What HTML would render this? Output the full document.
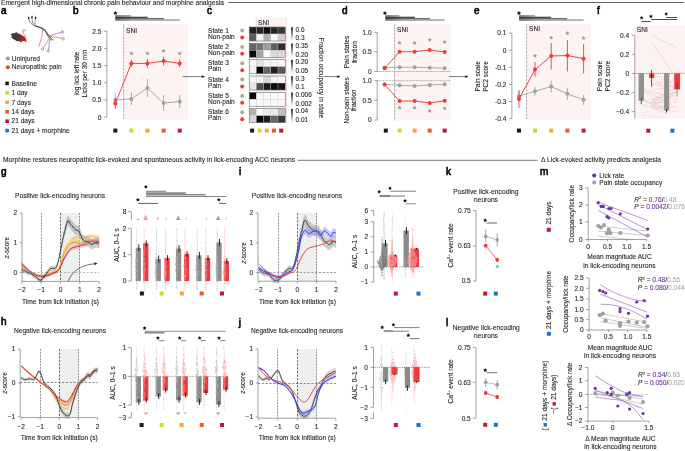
<!DOCTYPE html>
<html><head><meta charset="utf-8"><style>
html,body{margin:0;padding:0;background:#fff;}
svg{display:block;will-change:transform;font-family:"Liberation Sans",sans-serif;}
</style></head><body>
<svg width="685" height="451" viewBox="0 0 685 451">
<rect width="685" height="451" fill="#fff"/>
<defs><linearGradient id="wg" x1="0" y1="0" x2="1" y2="0"><stop offset="0" stop-color="#000" stop-opacity="0.3"/><stop offset="1" stop-color="#000" stop-opacity="0"/></linearGradient></defs>
<text x="1.00" y="5.20" font-size="6.6" fill="#231f20" stroke="#231f20" stroke-width="0.1" textLength="223" lengthAdjust="spacingAndGlyphs">Emergent high-dimensional chronic pain behaviour and morphine analgesia</text>
<line x1="228.50" y1="2.50" x2="684.00" y2="2.50" stroke="#231f20" stroke-width="0.7"/>
<text x="1.00" y="13.80" font-size="10" fill="#000" stroke="#000" stroke-width="0.6">a</text>
<text x="73.00" y="13.80" font-size="10" fill="#000" stroke="#000" stroke-width="0.6">b</text>
<text x="207.00" y="13.80" font-size="10" fill="#000" stroke="#000" stroke-width="0.6">c</text>
<text x="342.00" y="13.80" font-size="10" fill="#000" stroke="#000" stroke-width="0.6">d</text>
<text x="474.00" y="13.80" font-size="10" fill="#000" stroke="#000" stroke-width="0.6">e</text>
<text x="597.00" y="13.80" font-size="10" fill="#000" stroke="#000" stroke-width="0.6">f</text>
<path d="M10.2,34.6 C11,33.6 13,33.2 15,33.2 C15.2,32.2 17,31.9 17.6,33.2 C19.5,33.8 22,35 24,36.6 L26.2,38.8 L26.4,42 L24,41 L22.3,41.2 L21,42.6 L19.5,41.3 L17,41.2 L15.5,40.3 L14,39.6 L12.3,38.6 C11.5,37.6 11.2,36.4 12,35.6 Z" stroke="none" stroke-width="0.7" fill="url(#mg)"/>
<path d="M25.3,37.8 C25.8,35.5 23.5,34 22.7,32.2 C22.3,30.5 23.5,29.6 24.6,29.8 C25.6,30 25.8,31 25.2,31.4" stroke="#8a3040" stroke-width="0.6" fill="none"/>
<ellipse cx="28.7" cy="18.0" rx="0.75" ry="1.3" fill="#111" transform="rotate(15 28.7 18.0)"/>
<line x1="29.00" y1="16.50" x2="29.60" y2="14.50" stroke="#bbb" stroke-width="0.3"/>
<ellipse cx="32.0" cy="17.3" rx="0.75" ry="1.3" fill="#111" transform="rotate(15 32.0 17.3)"/>
<line x1="32.30" y1="15.80" x2="32.90" y2="13.80" stroke="#bbb" stroke-width="0.3"/>
<ellipse cx="35.5" cy="17.8" rx="0.75" ry="1.3" fill="#111" transform="rotate(15 35.5 17.8)"/>
<line x1="35.80" y1="16.30" x2="36.40" y2="14.30" stroke="#bbb" stroke-width="0.3"/>
<path d="M28.9,19.3 C29.5,22 31.5,24.5 34.5,25.8 C38,27 42,27.2 44.5,29.5 C47,32 48.5,36 52.5,40.2" stroke="#111" stroke-width="0.5" fill="none"/>
<path d="M32.2,18.6 C32.2,21.5 32.5,24 35.5,26 C39,27.6 42.5,27.8 45,30.5 C47.5,33.5 49,37 53.2,40" stroke="#111" stroke-width="0.5" fill="none"/>
<path d="M35.6,19.1 C35,21.5 33.8,24 36.5,26.2 C40,27.8 43.5,28.5 45.5,31.5 C47.5,34.5 48.5,38 51.5,40.8" stroke="#222" stroke-width="0.45" fill="none"/>
<path d="M44,29.5 C46,32 47,35.5 50,39.5" stroke="#333" stroke-width="0.4" fill="none"/>
<path d="M42.8,29 C42.5,35 41,41 38.5,46.8" stroke="#ee3a3f" stroke-width="0.6" fill="none"/>
<path d="M49.5,35.8 C53,35 57,33.5 61.3,32.3" stroke="#a0309a" stroke-width="0.6" fill="none"/>
<circle cx="62.3" cy="32.0" r="1.2" fill="none" stroke="#a0309a" stroke-width="0.6"/>
<path d="M49.5,36.5 C54,36.5 58,37.5 62,38.5" stroke="#ee3a3f" stroke-width="0.6" fill="none"/>
<circle cx="63.2" cy="38.8" r="1.2" fill="none" stroke="#ee3a3f" stroke-width="0.6"/>
<path d="M48.5,39.3 C46.5,43 45,46 43.2,48.3" stroke="#ee3a3f" stroke-width="0.6" fill="none"/>
<circle cx="42.5" cy="49.0" r="1.2" fill="none" stroke="#ee3a3f" stroke-width="0.6"/>
<path d="M49.5,39.5 C49.5,43 49,46 48.5,49.8" stroke="#a0309a" stroke-width="0.6" fill="none"/>
<circle cx="48.3" cy="51.0" r="1.2" fill="none" stroke="#a0309a" stroke-width="0.6"/>
<circle cx="7.80" cy="58.40" r="2.0" fill="#9a9a9a"/>
<text x="11.80" y="60.60" font-size="6.6" fill="#231f20" stroke="#231f20" stroke-width="0.1">Uninjured</text>
<circle cx="7.80" cy="67.20" r="2.0" fill="#ee3a3f"/>
<text x="11.80" y="69.40" font-size="6.6" fill="#231f20" stroke="#231f20" stroke-width="0.1">Neuropathic pain</text>
<rect x="5.30" y="81.60" width="3.60" height="3.60" fill="#1a1a1a"/>
<text x="11.50" y="85.60" font-size="6.6" fill="#231f20" stroke="#231f20" stroke-width="0.1">Baseline</text>
<rect x="5.30" y="91.00" width="3.60" height="3.60" fill="#d2d82a"/>
<text x="11.50" y="95.00" font-size="6.6" fill="#231f20" stroke="#231f20" stroke-width="0.1">1 day</text>
<rect x="5.30" y="100.50" width="3.60" height="3.60" fill="#f7a540"/>
<text x="11.50" y="104.50" font-size="6.6" fill="#231f20" stroke="#231f20" stroke-width="0.1">7 days</text>
<rect x="5.30" y="110.00" width="3.60" height="3.60" fill="#ee5a24"/>
<text x="11.50" y="114.00" font-size="6.6" fill="#231f20" stroke="#231f20" stroke-width="0.1">14 days</text>
<rect x="5.30" y="119.40" width="3.60" height="3.60" fill="#b81c2e"/>
<text x="11.50" y="123.40" font-size="6.6" fill="#231f20" stroke="#231f20" stroke-width="0.1">21 days</text>
<rect x="5.30" y="128.80" width="3.60" height="3.60" fill="#1c73bf"/>
<text x="11.50" y="132.80" font-size="6.6" fill="#231f20" stroke="#231f20" stroke-width="0.1">21 days + morphine</text>
<rect x="124.00" y="24.50" width="64.00" height="95.00" fill="#fdf3f3"/>
<line x1="123.60" y1="24.50" x2="123.60" y2="119.50" stroke="#222" stroke-width="0.6" stroke-dasharray="0.6,0.8"/>
<text x="126.00" y="33.00" font-size="6.6" fill="#231f20" stroke="#231f20" stroke-width="0.1">SNI</text>
<line x1="106.90" y1="31.20" x2="106.90" y2="117.20" stroke="#666" stroke-width="0.6"/>
<line x1="103.90" y1="117.20" x2="106.90" y2="117.20" stroke="#666" stroke-width="0.6"/>
<text x="101.40" y="119.58" font-size="6.6" fill="#231f20" text-anchor="end" stroke="#231f20" stroke-width="0.1">0</text>
<line x1="103.90" y1="100.00" x2="106.90" y2="100.00" stroke="#666" stroke-width="0.6"/>
<text x="101.40" y="102.38" font-size="6.6" fill="#231f20" text-anchor="end" stroke="#231f20" stroke-width="0.1">0.5</text>
<line x1="103.90" y1="82.80" x2="106.90" y2="82.80" stroke="#666" stroke-width="0.6"/>
<text x="101.40" y="85.18" font-size="6.6" fill="#231f20" text-anchor="end" stroke="#231f20" stroke-width="0.1">1.0</text>
<line x1="103.90" y1="65.60" x2="106.90" y2="65.60" stroke="#666" stroke-width="0.6"/>
<text x="101.40" y="67.98" font-size="6.6" fill="#231f20" text-anchor="end" stroke="#231f20" stroke-width="0.1">1.5</text>
<line x1="103.90" y1="48.40" x2="106.90" y2="48.40" stroke="#666" stroke-width="0.6"/>
<text x="101.40" y="50.78" font-size="6.6" fill="#231f20" text-anchor="end" stroke="#231f20" stroke-width="0.1">2.0</text>
<line x1="103.90" y1="31.20" x2="106.90" y2="31.20" stroke="#666" stroke-width="0.6"/>
<text x="101.40" y="33.58" font-size="6.6" fill="#231f20" text-anchor="end" stroke="#231f20" stroke-width="0.1">2.5</text>
<text x="79.30" y="73.50" font-size="6.6" fill="#231f20" text-anchor="middle" stroke="#231f20" stroke-width="0.1" transform="rotate(-90 79.30 73.50)">log lick left rate</text>
<text x="86.70" y="73.50" font-size="6.6" fill="#231f20" text-anchor="middle" stroke="#231f20" stroke-width="0.1" transform="rotate(-90 86.70 73.50)">Licks per 30 min</text>
<polyline points="115.30,100.00 131.40,98.90 147.40,88.00 163.60,103.00 179.70,101.50" stroke="#a0a0a0" stroke-width="0.9" fill="none" stroke-linejoin="round"/>
<line x1="115.30" y1="93.50" x2="115.30" y2="106.50" stroke="#a0a0a0" stroke-width="0.9"/>
<circle cx="115.30" cy="100.00" r="2.0" fill="#a0a0a0"/>
<line x1="131.40" y1="92.40" x2="131.40" y2="105.40" stroke="#a0a0a0" stroke-width="0.9"/>
<circle cx="131.40" cy="98.90" r="2.0" fill="#a0a0a0"/>
<line x1="147.40" y1="79.00" x2="147.40" y2="97.00" stroke="#a0a0a0" stroke-width="0.9"/>
<circle cx="147.40" cy="88.00" r="2.0" fill="#a0a0a0"/>
<line x1="163.60" y1="95.00" x2="163.60" y2="111.00" stroke="#a0a0a0" stroke-width="0.9"/>
<circle cx="163.60" cy="103.00" r="2.0" fill="#a0a0a0"/>
<line x1="179.70" y1="95.00" x2="179.70" y2="108.00" stroke="#a0a0a0" stroke-width="0.9"/>
<circle cx="179.70" cy="101.50" r="2.0" fill="#a0a0a0"/>
<polyline points="115.30,103.50 131.40,63.40 147.40,63.40 163.60,61.00 179.70,63.40" stroke="#ee3a3f" stroke-width="0.95" fill="none" stroke-linejoin="round"/>
<line x1="115.30" y1="98.00" x2="115.30" y2="109.00" stroke="#ee3a3f" stroke-width="0.9"/>
<circle cx="115.30" cy="103.50" r="2.0" fill="#ee3a3f"/>
<line x1="131.40" y1="59.90" x2="131.40" y2="66.90" stroke="#ee3a3f" stroke-width="0.9"/>
<circle cx="131.40" cy="63.40" r="2.0" fill="#ee3a3f"/>
<line x1="147.40" y1="58.90" x2="147.40" y2="67.90" stroke="#ee3a3f" stroke-width="0.9"/>
<circle cx="147.40" cy="63.40" r="2.0" fill="#ee3a3f"/>
<line x1="163.60" y1="56.50" x2="163.60" y2="65.50" stroke="#ee3a3f" stroke-width="0.9"/>
<circle cx="163.60" cy="61.00" r="2.0" fill="#ee3a3f"/>
<line x1="179.70" y1="59.40" x2="179.70" y2="67.40" stroke="#ee3a3f" stroke-width="0.9"/>
<circle cx="179.70" cy="63.40" r="2.0" fill="#ee3a3f"/>
<polygon points="131.40,51.20 132.05,52.51 133.49,52.72 132.45,53.74 132.69,55.18 131.40,54.50 130.11,55.18 130.35,53.74 129.31,52.72 130.75,52.51" fill="#999"/>
<polygon points="147.40,51.20 148.05,52.51 149.49,52.72 148.45,53.74 148.69,55.18 147.40,54.50 146.11,55.18 146.35,53.74 145.31,52.72 146.75,52.51" fill="#999"/>
<polygon points="163.60,48.80 164.25,50.11 165.69,50.32 164.65,51.34 164.89,52.78 163.60,52.10 162.31,52.78 162.55,51.34 161.51,50.32 162.95,50.11" fill="#999"/>
<polygon points="179.70,51.20 180.35,52.51 181.79,52.72 180.75,53.74 180.99,55.18 179.70,54.50 178.41,55.18 178.65,53.74 177.61,52.72 179.05,52.51" fill="#999"/>
<rect x="113.30" y="128.60" width="4.00" height="4.00" fill="#1a1a1a"/>
<rect x="129.40" y="128.60" width="4.00" height="4.00" fill="#d2d82a"/>
<rect x="145.40" y="128.60" width="4.00" height="4.00" fill="#f7a540"/>
<rect x="161.60" y="128.60" width="4.00" height="4.00" fill="#ee5a24"/>
<rect x="177.70" y="128.60" width="4.00" height="4.00" fill="#b81c2e"/>
<polygon points="115.40,10.90 116.08,12.27 117.59,12.49 116.49,13.56 116.75,15.06 115.40,14.35 114.05,15.06 114.31,13.56 113.21,12.49 114.72,12.27" fill="#111"/>
<rect x="115.30" y="15.20" width="15.70" height="1.30" fill="#9c9c9c"/>
<rect x="115.30" y="16.70" width="32.30" height="1.40" fill="#4a4a4a"/>
<rect x="115.30" y="18.10" width="48.70" height="1.30" fill="#5a5a5a"/>
<rect x="115.30" y="19.40" width="64.50" height="1.30" fill="#8f8f8f"/>
<rect x="115.30" y="15.20" width="18.00" height="5.50" fill="url(#wg)"/>
<line x1="182.70" y1="76.60" x2="202.50" y2="76.60" stroke="#231f20" stroke-width="0.6"/>
<polygon points="205.00,76.60 201.80,75.30 201.80,77.90" fill="#231f20"/>
<rect x="256.00" y="17.50" width="30.40" height="105.50" fill="#fdf3f3"/>
<line x1="256.30" y1="17.50" x2="256.30" y2="123.00" stroke="#777" stroke-width="0.45" stroke-dasharray="0.6,0.6"/>
<line x1="286.40" y1="17.50" x2="286.40" y2="123.00" stroke="#e8c0c0" stroke-width="0.4"/>
<text x="258.00" y="25.00" font-size="6.6" fill="#231f20" stroke="#231f20" stroke-width="0.1">SNI</text>
<defs><linearGradient id="cb" x1="0" y1="0" x2="0" y2="1"><stop offset="0" stop-color="#000"/><stop offset="1" stop-color="#fff"/></linearGradient><linearGradient id="mg" x1="0" y1="0" x2="1" y2="0"><stop offset="0" stop-color="#3a3a3a"/><stop offset="0.5" stop-color="#4a3a3a"/><stop offset="1" stop-color="#ff1010"/></linearGradient></defs>
<rect x="249.20" y="27.00" width="7.20" height="7.00" fill="rgb(30,30,30)" stroke="#c8c8c8" stroke-width="0.3"/>
<rect x="249.20" y="34.00" width="7.20" height="7.00" fill="rgb(89,89,89)" stroke="#c8c8c8" stroke-width="0.3"/>
<rect x="256.40" y="27.00" width="7.20" height="7.00" fill="rgb(38,38,38)" stroke="#c8c8c8" stroke-width="0.3"/>
<rect x="256.40" y="34.00" width="7.20" height="7.00" fill="rgb(242,242,242)" stroke="#c8c8c8" stroke-width="0.3"/>
<rect x="263.60" y="27.00" width="7.20" height="7.00" fill="rgb(12,12,12)" stroke="#c8c8c8" stroke-width="0.3"/>
<rect x="263.60" y="34.00" width="7.20" height="7.00" fill="rgb(178,178,178)" stroke="#c8c8c8" stroke-width="0.3"/>
<rect x="270.80" y="27.00" width="7.20" height="7.00" fill="rgb(38,38,38)" stroke="#c8c8c8" stroke-width="0.3"/>
<rect x="270.80" y="34.00" width="7.20" height="7.00" fill="rgb(249,249,249)" stroke="#c8c8c8" stroke-width="0.3"/>
<rect x="278.00" y="27.00" width="7.20" height="7.00" fill="rgb(56,56,56)" stroke="#c8c8c8" stroke-width="0.3"/>
<rect x="278.00" y="34.00" width="7.20" height="7.00" fill="rgb(209,209,209)" stroke="#c8c8c8" stroke-width="0.3"/>
<rect x="249.20" y="27.00" width="36.00" height="14.00" fill="none" stroke="#555" stroke-width="0.45"/>
<circle cx="242.20" cy="30.60" r="2.0" fill="#a8a8a8"/>
<circle cx="242.20" cy="37.50" r="2.0" fill="#ee3a3f"/>
<text x="208.00" y="32.60" font-size="6.6" fill="#231f20" stroke="#231f20" stroke-width="0.1">State 1</text>
<text x="208.00" y="38.60" font-size="6.6" fill="#231f20" stroke="#231f20" stroke-width="0.1">Non-pain</text>
<rect x="291.20" y="27.20" width="1.60" height="13.60" fill="url(#cb)"/>
<text x="295.50" y="31.60" font-size="6.5" fill="#231f20" stroke="#231f20" stroke-width="0.1">0.6</text>
<text x="295.50" y="40.40" font-size="6.5" fill="#231f20" stroke="#231f20" stroke-width="0.1">0.3</text>
<rect x="249.20" y="43.34" width="7.20" height="7.00" fill="rgb(102,102,102)" stroke="#c8c8c8" stroke-width="0.3"/>
<rect x="249.20" y="50.34" width="7.20" height="7.00" fill="rgb(12,12,12)" stroke="#c8c8c8" stroke-width="0.3"/>
<rect x="256.40" y="43.34" width="7.20" height="7.00" fill="rgb(114,114,114)" stroke="#c8c8c8" stroke-width="0.3"/>
<rect x="256.40" y="50.34" width="7.20" height="7.00" fill="rgb(165,165,165)" stroke="#c8c8c8" stroke-width="0.3"/>
<rect x="263.60" y="43.34" width="7.20" height="7.00" fill="rgb(158,158,158)" stroke="#c8c8c8" stroke-width="0.3"/>
<rect x="263.60" y="50.34" width="7.20" height="7.00" fill="rgb(249,249,249)" stroke="#c8c8c8" stroke-width="0.3"/>
<rect x="270.80" y="43.34" width="7.20" height="7.00" fill="rgb(96,96,96)" stroke="#c8c8c8" stroke-width="0.3"/>
<rect x="270.80" y="50.34" width="7.20" height="7.00" fill="rgb(216,216,216)" stroke="#c8c8c8" stroke-width="0.3"/>
<rect x="278.00" y="43.34" width="7.20" height="7.00" fill="rgb(45,45,45)" stroke="#c8c8c8" stroke-width="0.3"/>
<rect x="278.00" y="50.34" width="7.20" height="7.00" fill="rgb(216,216,216)" stroke="#c8c8c8" stroke-width="0.3"/>
<rect x="249.20" y="43.34" width="36.00" height="14.00" fill="none" stroke="#555" stroke-width="0.45"/>
<circle cx="242.20" cy="46.94" r="2.0" fill="#a8a8a8"/>
<circle cx="242.20" cy="53.84" r="2.0" fill="#ee3a3f"/>
<text x="208.00" y="48.94" font-size="6.6" fill="#231f20" stroke="#231f20" stroke-width="0.1">State 2</text>
<text x="208.00" y="54.94" font-size="6.6" fill="#231f20" stroke="#231f20" stroke-width="0.1">Non-pain</text>
<rect x="291.20" y="43.54" width="1.60" height="13.60" fill="url(#cb)"/>
<text x="295.50" y="47.94" font-size="6.5" fill="#231f20" stroke="#231f20" stroke-width="0.1">0.35</text>
<text x="295.50" y="56.74" font-size="6.5" fill="#231f20" stroke="#231f20" stroke-width="0.1">0.20</text>
<rect x="249.20" y="59.68" width="7.20" height="7.00" fill="rgb(249,249,249)" stroke="#c8c8c8" stroke-width="0.3"/>
<rect x="249.20" y="66.68" width="7.20" height="7.00" fill="rgb(242,242,242)" stroke="#c8c8c8" stroke-width="0.3"/>
<rect x="256.40" y="59.68" width="7.20" height="7.00" fill="rgb(224,224,224)" stroke="#c8c8c8" stroke-width="0.3"/>
<rect x="256.40" y="66.68" width="7.20" height="7.00" fill="rgb(5,5,5)" stroke="#c8c8c8" stroke-width="0.3"/>
<rect x="263.60" y="59.68" width="7.20" height="7.00" fill="rgb(242,242,242)" stroke="#c8c8c8" stroke-width="0.3"/>
<rect x="263.60" y="66.68" width="7.20" height="7.00" fill="rgb(102,102,102)" stroke="#c8c8c8" stroke-width="0.3"/>
<rect x="270.80" y="59.68" width="7.20" height="7.00" fill="rgb(242,242,242)" stroke="#c8c8c8" stroke-width="0.3"/>
<rect x="270.80" y="66.68" width="7.20" height="7.00" fill="rgb(30,30,30)" stroke="#c8c8c8" stroke-width="0.3"/>
<rect x="278.00" y="59.68" width="7.20" height="7.00" fill="rgb(247,247,247)" stroke="#c8c8c8" stroke-width="0.3"/>
<rect x="278.00" y="66.68" width="7.20" height="7.00" fill="rgb(89,89,89)" stroke="#c8c8c8" stroke-width="0.3"/>
<rect x="249.20" y="59.68" width="36.00" height="14.00" fill="none" stroke="#555" stroke-width="0.45"/>
<circle cx="242.20" cy="63.28" r="2.0" fill="#a8a8a8"/>
<circle cx="242.20" cy="70.18" r="2.0" fill="#ee3a3f"/>
<text x="208.00" y="65.28" font-size="6.6" fill="#231f20" stroke="#231f20" stroke-width="0.1">State 3</text>
<text x="208.00" y="71.28" font-size="6.6" fill="#231f20" stroke="#231f20" stroke-width="0.1">Pain</text>
<rect x="291.20" y="59.88" width="1.60" height="13.60" fill="url(#cb)"/>
<text x="295.50" y="64.28" font-size="6.5" fill="#231f20" stroke="#231f20" stroke-width="0.1">0.20</text>
<text x="295.50" y="73.08" font-size="6.5" fill="#231f20" stroke="#231f20" stroke-width="0.1">0.05</text>
<rect x="249.20" y="76.02" width="7.20" height="7.00" fill="rgb(249,249,249)" stroke="#c8c8c8" stroke-width="0.3"/>
<rect x="249.20" y="83.02" width="7.20" height="7.00" fill="rgb(229,229,229)" stroke="#c8c8c8" stroke-width="0.3"/>
<rect x="256.40" y="76.02" width="7.20" height="7.00" fill="rgb(242,242,242)" stroke="#c8c8c8" stroke-width="0.3"/>
<rect x="256.40" y="83.02" width="7.20" height="7.00" fill="rgb(76,76,76)" stroke="#c8c8c8" stroke-width="0.3"/>
<rect x="263.60" y="76.02" width="7.20" height="7.00" fill="rgb(216,216,216)" stroke="#c8c8c8" stroke-width="0.3"/>
<rect x="263.60" y="83.02" width="7.20" height="7.00" fill="rgb(25,25,25)" stroke="#c8c8c8" stroke-width="0.3"/>
<rect x="270.80" y="76.02" width="7.20" height="7.00" fill="rgb(242,242,242)" stroke="#c8c8c8" stroke-width="0.3"/>
<rect x="270.80" y="83.02" width="7.20" height="7.00" fill="rgb(12,12,12)" stroke="#c8c8c8" stroke-width="0.3"/>
<rect x="278.00" y="76.02" width="7.20" height="7.00" fill="rgb(249,249,249)" stroke="#c8c8c8" stroke-width="0.3"/>
<rect x="278.00" y="83.02" width="7.20" height="7.00" fill="rgb(20,20,20)" stroke="#c8c8c8" stroke-width="0.3"/>
<rect x="249.20" y="76.02" width="36.00" height="14.00" fill="none" stroke="#555" stroke-width="0.45"/>
<circle cx="242.20" cy="79.62" r="2.0" fill="#a8a8a8"/>
<circle cx="242.20" cy="86.52" r="2.0" fill="#ee3a3f"/>
<text x="208.00" y="81.62" font-size="6.6" fill="#231f20" stroke="#231f20" stroke-width="0.1">State 4</text>
<text x="208.00" y="87.62" font-size="6.6" fill="#231f20" stroke="#231f20" stroke-width="0.1">Pain</text>
<rect x="291.20" y="76.22" width="1.60" height="13.60" fill="url(#cb)"/>
<text x="295.50" y="80.62" font-size="6.5" fill="#231f20" stroke="#231f20" stroke-width="0.1">0.3</text>
<text x="295.50" y="89.42" font-size="6.5" fill="#231f20" stroke="#231f20" stroke-width="0.1">0.1</text>
<rect x="249.20" y="92.36" width="7.20" height="7.00" fill="rgb(5,5,5)" stroke="#c8c8c8" stroke-width="0.3"/>
<rect x="249.20" y="99.36" width="7.20" height="7.00" fill="rgb(249,249,249)" stroke="#c8c8c8" stroke-width="0.3"/>
<rect x="256.40" y="92.36" width="7.20" height="7.00" fill="rgb(249,249,249)" stroke="#c8c8c8" stroke-width="0.3"/>
<rect x="256.40" y="99.36" width="7.20" height="7.00" fill="rgb(249,249,249)" stroke="#c8c8c8" stroke-width="0.3"/>
<rect x="263.60" y="92.36" width="7.20" height="7.00" fill="rgb(249,249,249)" stroke="#c8c8c8" stroke-width="0.3"/>
<rect x="263.60" y="99.36" width="7.20" height="7.00" fill="rgb(249,249,249)" stroke="#c8c8c8" stroke-width="0.3"/>
<rect x="270.80" y="92.36" width="7.20" height="7.00" fill="rgb(249,249,249)" stroke="#c8c8c8" stroke-width="0.3"/>
<rect x="270.80" y="99.36" width="7.20" height="7.00" fill="rgb(249,249,249)" stroke="#c8c8c8" stroke-width="0.3"/>
<rect x="278.00" y="92.36" width="7.20" height="7.00" fill="rgb(249,249,249)" stroke="#c8c8c8" stroke-width="0.3"/>
<rect x="278.00" y="99.36" width="7.20" height="7.00" fill="rgb(249,249,249)" stroke="#c8c8c8" stroke-width="0.3"/>
<rect x="249.20" y="92.36" width="36.00" height="14.00" fill="none" stroke="#555" stroke-width="0.45"/>
<circle cx="242.20" cy="95.96" r="2.0" fill="#a8a8a8"/>
<circle cx="242.20" cy="102.86" r="2.0" fill="#ee3a3f"/>
<text x="208.00" y="97.96" font-size="6.6" fill="#231f20" stroke="#231f20" stroke-width="0.1">State 5</text>
<text x="208.00" y="103.96" font-size="6.6" fill="#231f20" stroke="#231f20" stroke-width="0.1">Non-pain</text>
<rect x="291.20" y="92.56" width="1.60" height="13.60" fill="url(#cb)"/>
<text x="295.50" y="96.96" font-size="6.5" fill="#231f20" stroke="#231f20" stroke-width="0.1">0.006</text>
<text x="295.50" y="105.76" font-size="6.5" fill="#231f20" stroke="#231f20" stroke-width="0.1">0.002</text>
<rect x="249.20" y="108.70" width="7.20" height="7.00" fill="rgb(178,178,178)" stroke="#c8c8c8" stroke-width="0.3"/>
<rect x="249.20" y="115.70" width="7.20" height="7.00" fill="rgb(216,216,216)" stroke="#c8c8c8" stroke-width="0.3"/>
<rect x="256.40" y="108.70" width="7.20" height="7.00" fill="rgb(249,249,249)" stroke="#c8c8c8" stroke-width="0.3"/>
<rect x="256.40" y="115.70" width="7.20" height="7.00" fill="rgb(5,5,5)" stroke="#c8c8c8" stroke-width="0.3"/>
<rect x="263.60" y="108.70" width="7.20" height="7.00" fill="rgb(234,234,234)" stroke="#c8c8c8" stroke-width="0.3"/>
<rect x="263.60" y="115.70" width="7.20" height="7.00" fill="rgb(30,30,30)" stroke="#c8c8c8" stroke-width="0.3"/>
<rect x="270.80" y="108.70" width="7.20" height="7.00" fill="rgb(234,234,234)" stroke="#c8c8c8" stroke-width="0.3"/>
<rect x="270.80" y="115.70" width="7.20" height="7.00" fill="rgb(102,102,102)" stroke="#c8c8c8" stroke-width="0.3"/>
<rect x="278.00" y="108.70" width="7.20" height="7.00" fill="rgb(191,191,191)" stroke="#c8c8c8" stroke-width="0.3"/>
<rect x="278.00" y="115.70" width="7.20" height="7.00" fill="rgb(56,56,56)" stroke="#c8c8c8" stroke-width="0.3"/>
<rect x="249.20" y="108.70" width="36.00" height="14.00" fill="none" stroke="#555" stroke-width="0.45"/>
<circle cx="242.20" cy="112.30" r="2.0" fill="#a8a8a8"/>
<circle cx="242.20" cy="119.20" r="2.0" fill="#ee3a3f"/>
<text x="208.00" y="114.30" font-size="6.6" fill="#231f20" stroke="#231f20" stroke-width="0.1">State 6</text>
<text x="208.00" y="120.30" font-size="6.6" fill="#231f20" stroke="#231f20" stroke-width="0.1">Pain</text>
<rect x="291.20" y="108.90" width="1.60" height="13.60" fill="url(#cb)"/>
<text x="295.50" y="113.30" font-size="6.5" fill="#231f20" stroke="#231f20" stroke-width="0.1">0.04</text>
<text x="295.50" y="122.10" font-size="6.5" fill="#231f20" stroke="#231f20" stroke-width="0.1">0.01</text>
<rect x="250.10" y="128.60" width="4.00" height="4.00" fill="#1a1a1a"/>
<rect x="257.60" y="128.60" width="4.00" height="4.00" fill="#d2d82a"/>
<rect x="264.80" y="128.60" width="4.00" height="4.00" fill="#f7a540"/>
<rect x="272.00" y="128.60" width="4.00" height="4.00" fill="#ee5a24"/>
<rect x="279.20" y="128.60" width="4.00" height="4.00" fill="#b81c2e"/>
<text x="319.20" y="78.00" font-size="6.6" fill="#231f20" text-anchor="middle" stroke="#231f20" stroke-width="0.1" transform="rotate(90 319.20 78.00)">Fraction occupancy in state</text>
<line x1="323.80" y1="76.60" x2="338.00" y2="76.60" stroke="#231f20" stroke-width="0.6"/>
<polygon points="340.50,76.60 337.30,75.30 337.30,77.90" fill="#231f20"/>
<rect x="394.60" y="24.50" width="55.80" height="95.90" fill="#fdf3f3"/>
<line x1="394.60" y1="24.50" x2="394.60" y2="120.40" stroke="#222" stroke-width="0.6" stroke-dasharray="0.6,0.8"/>
<text x="397.00" y="32.30" font-size="6.6" fill="#231f20" stroke="#231f20" stroke-width="0.1">SNI</text>
<line x1="377.20" y1="32.40" x2="377.20" y2="71.50" stroke="#666" stroke-width="0.6"/>
<line x1="374.20" y1="71.50" x2="377.20" y2="71.50" stroke="#666" stroke-width="0.6"/>
<text x="371.70" y="73.88" font-size="6.6" fill="#231f20" text-anchor="end" stroke="#231f20" stroke-width="0.1">0</text>
<line x1="374.20" y1="51.95" x2="377.20" y2="51.95" stroke="#666" stroke-width="0.6"/>
<text x="371.70" y="54.33" font-size="6.6" fill="#231f20" text-anchor="end" stroke="#231f20" stroke-width="0.1">0.5</text>
<line x1="374.20" y1="32.40" x2="377.20" y2="32.40" stroke="#666" stroke-width="0.6"/>
<text x="371.70" y="34.78" font-size="6.6" fill="#231f20" text-anchor="end" stroke="#231f20" stroke-width="0.1">1.0</text>
<line x1="377.20" y1="80.70" x2="377.20" y2="120.00" stroke="#666" stroke-width="0.6"/>
<line x1="374.20" y1="120.00" x2="377.20" y2="120.00" stroke="#666" stroke-width="0.6"/>
<text x="371.70" y="122.38" font-size="6.6" fill="#231f20" text-anchor="end" stroke="#231f20" stroke-width="0.1">0</text>
<line x1="374.20" y1="100.35" x2="377.20" y2="100.35" stroke="#666" stroke-width="0.6"/>
<text x="371.70" y="102.73" font-size="6.6" fill="#231f20" text-anchor="end" stroke="#231f20" stroke-width="0.1">0.5</text>
<line x1="374.20" y1="80.70" x2="377.20" y2="80.70" stroke="#666" stroke-width="0.6"/>
<text x="371.70" y="83.08" font-size="6.6" fill="#231f20" text-anchor="end" stroke="#231f20" stroke-width="0.1">1.0</text>
<line x1="377.20" y1="71.50" x2="451.00" y2="71.50" stroke="#333" stroke-width="0.6" stroke-dasharray="0.6,0.9"/>
<line x1="377.20" y1="80.70" x2="451.00" y2="80.70" stroke="#333" stroke-width="0.6" stroke-dasharray="0.6,0.9"/>
<text x="349.00" y="52.00" font-size="6.6" fill="#231f20" text-anchor="middle" stroke="#231f20" stroke-width="0.1" transform="rotate(-90 349.00 52.00)">Pain states</text>
<text x="356.50" y="52.00" font-size="6.6" fill="#231f20" text-anchor="middle" stroke="#231f20" stroke-width="0.1" transform="rotate(-90 356.50 52.00)">fraction</text>
<text x="349.00" y="100.30" font-size="6.6" fill="#231f20" text-anchor="middle" stroke="#231f20" stroke-width="0.1" transform="rotate(-90 349.00 100.30)">Non-pain states</text>
<text x="356.50" y="100.30" font-size="6.6" fill="#231f20" text-anchor="middle" stroke="#231f20" stroke-width="0.1" transform="rotate(-90 356.50 100.30)">fraction</text>
<polyline points="384.60,67.50 399.60,67.20 414.60,67.20 429.70,67.70 444.70,68.30" stroke="#a0a0a0" stroke-width="0.9" fill="none" stroke-linejoin="round"/>
<circle cx="384.60" cy="67.50" r="2.0" fill="#a0a0a0"/>
<circle cx="399.60" cy="67.20" r="2.0" fill="#a0a0a0"/>
<circle cx="414.60" cy="67.20" r="2.0" fill="#a0a0a0"/>
<circle cx="429.70" cy="67.70" r="2.0" fill="#a0a0a0"/>
<circle cx="444.70" cy="68.30" r="2.0" fill="#a0a0a0"/>
<polyline points="384.60,68.30 399.60,51.70 414.60,51.70 429.70,50.00 444.70,52.00" stroke="#ee3a3f" stroke-width="0.95" fill="none" stroke-linejoin="round"/>
<line x1="384.60" y1="66.80" x2="384.60" y2="69.80" stroke="#ee3a3f" stroke-width="0.9"/>
<circle cx="384.60" cy="68.30" r="2.0" fill="#ee3a3f"/>
<line x1="399.60" y1="50.20" x2="399.60" y2="53.20" stroke="#ee3a3f" stroke-width="0.9"/>
<circle cx="399.60" cy="51.70" r="2.0" fill="#ee3a3f"/>
<line x1="414.60" y1="50.20" x2="414.60" y2="53.20" stroke="#ee3a3f" stroke-width="0.9"/>
<circle cx="414.60" cy="51.70" r="2.0" fill="#ee3a3f"/>
<line x1="429.70" y1="48.50" x2="429.70" y2="51.50" stroke="#ee3a3f" stroke-width="0.9"/>
<circle cx="429.70" cy="50.00" r="2.0" fill="#ee3a3f"/>
<line x1="444.70" y1="50.50" x2="444.70" y2="53.50" stroke="#ee3a3f" stroke-width="0.9"/>
<circle cx="444.70" cy="52.00" r="2.0" fill="#ee3a3f"/>
<polyline points="384.60,84.50 399.60,85.30 414.60,86.00 429.70,85.00 444.70,84.30" stroke="#a0a0a0" stroke-width="0.9" fill="none" stroke-linejoin="round"/>
<circle cx="384.60" cy="84.50" r="2.0" fill="#a0a0a0"/>
<circle cx="399.60" cy="85.30" r="2.0" fill="#a0a0a0"/>
<circle cx="414.60" cy="86.00" r="2.0" fill="#a0a0a0"/>
<circle cx="429.70" cy="85.00" r="2.0" fill="#a0a0a0"/>
<circle cx="444.70" cy="84.30" r="2.0" fill="#a0a0a0"/>
<polyline points="384.60,84.50 399.60,101.00 414.60,101.00 429.70,103.00 444.70,100.80" stroke="#ee3a3f" stroke-width="0.95" fill="none" stroke-linejoin="round"/>
<line x1="384.60" y1="83.00" x2="384.60" y2="86.00" stroke="#ee3a3f" stroke-width="0.9"/>
<circle cx="384.60" cy="84.50" r="2.0" fill="#ee3a3f"/>
<line x1="399.60" y1="99.50" x2="399.60" y2="102.50" stroke="#ee3a3f" stroke-width="0.9"/>
<circle cx="399.60" cy="101.00" r="2.0" fill="#ee3a3f"/>
<line x1="414.60" y1="99.50" x2="414.60" y2="102.50" stroke="#ee3a3f" stroke-width="0.9"/>
<circle cx="414.60" cy="101.00" r="2.0" fill="#ee3a3f"/>
<line x1="429.70" y1="101.50" x2="429.70" y2="104.50" stroke="#ee3a3f" stroke-width="0.9"/>
<circle cx="429.70" cy="103.00" r="2.0" fill="#ee3a3f"/>
<line x1="444.70" y1="99.30" x2="444.70" y2="102.30" stroke="#ee3a3f" stroke-width="0.9"/>
<circle cx="444.70" cy="100.80" r="2.0" fill="#ee3a3f"/>
<polygon points="399.60,40.80 400.25,42.11 401.69,42.32 400.65,43.34 400.89,44.78 399.60,44.10 398.31,44.78 398.55,43.34 397.51,42.32 398.95,42.11" fill="#999"/>
<polygon points="414.60,40.80 415.25,42.11 416.69,42.32 415.65,43.34 415.89,44.78 414.60,44.10 413.31,44.78 413.55,43.34 412.51,42.32 413.95,42.11" fill="#999"/>
<polygon points="429.70,37.80 430.35,39.11 431.79,39.32 430.75,40.34 430.99,41.78 429.70,41.10 428.41,41.78 428.65,40.34 427.61,39.32 429.05,39.11" fill="#999"/>
<polygon points="444.70,39.80 445.35,41.11 446.79,41.32 445.75,42.34 445.99,43.78 444.70,43.10 443.41,43.78 443.65,42.34 442.61,41.32 444.05,41.11" fill="#999"/>
<polygon points="399.60,105.50 400.25,106.81 401.69,107.02 400.65,108.04 400.89,109.48 399.60,108.80 398.31,109.48 398.55,108.04 397.51,107.02 398.95,106.81" fill="#999"/>
<polygon points="414.60,105.50 415.25,106.81 416.69,107.02 415.65,108.04 415.89,109.48 414.60,108.80 413.31,109.48 413.55,108.04 412.51,107.02 413.95,106.81" fill="#999"/>
<polygon points="429.70,108.80 430.35,110.11 431.79,110.32 430.75,111.34 430.99,112.78 429.70,112.10 428.41,112.78 428.65,111.34 427.61,110.32 429.05,110.11" fill="#999"/>
<polygon points="444.70,106.30 445.35,107.61 446.79,107.82 445.75,108.84 445.99,110.28 444.70,109.60 443.41,110.28 443.65,108.84 442.61,107.82 444.05,107.61" fill="#999"/>
<rect x="383.80" y="128.60" width="4.00" height="4.00" fill="#1a1a1a"/>
<rect x="397.60" y="128.60" width="4.00" height="4.00" fill="#d2d82a"/>
<rect x="412.60" y="128.60" width="4.00" height="4.00" fill="#f7a540"/>
<rect x="427.70" y="128.60" width="4.00" height="4.00" fill="#ee5a24"/>
<rect x="442.70" y="128.60" width="4.00" height="4.00" fill="#b81c2e"/>
<polygon points="384.90,10.90 385.58,12.27 387.09,12.49 385.99,13.56 386.25,15.06 384.90,14.35 383.55,15.06 383.81,13.56 382.71,12.49 384.22,12.27" fill="#111"/>
<rect x="385.30" y="15.20" width="14.00" height="1.30" fill="#9c9c9c"/>
<rect x="385.30" y="16.70" width="29.70" height="1.40" fill="#4a4a4a"/>
<rect x="385.30" y="18.10" width="44.70" height="1.30" fill="#5a5a5a"/>
<rect x="385.30" y="19.40" width="59.50" height="1.30" fill="#8f8f8f"/>
<rect x="385.30" y="15.20" width="18.00" height="5.50" fill="url(#wg)"/>
<line x1="449.00" y1="76.60" x2="466.00" y2="76.60" stroke="#231f20" stroke-width="0.6"/>
<polygon points="468.50,76.60 465.30,75.30 465.30,77.90" fill="#231f20"/>
<rect x="526.60" y="24.50" width="64.40" height="95.10" fill="#fdf3f3"/>
<line x1="526.60" y1="24.50" x2="526.60" y2="119.60" stroke="#222" stroke-width="0.6" stroke-dasharray="0.6,0.8"/>
<text x="529.00" y="31.30" font-size="6.6" fill="#231f20" stroke="#231f20" stroke-width="0.1">SNI</text>
<line x1="511.90" y1="33.10" x2="511.90" y2="118.60" stroke="#666" stroke-width="0.6"/>
<line x1="508.90" y1="33.10" x2="511.90" y2="33.10" stroke="#666" stroke-width="0.6"/>
<text x="506.40" y="35.48" font-size="6.6" fill="#231f20" text-anchor="end" stroke="#231f20" stroke-width="0.1">0.1</text>
<line x1="508.90" y1="50.20" x2="511.90" y2="50.20" stroke="#666" stroke-width="0.6"/>
<text x="506.40" y="52.58" font-size="6.6" fill="#231f20" text-anchor="end" stroke="#231f20" stroke-width="0.1">0</text>
<line x1="508.90" y1="67.30" x2="511.90" y2="67.30" stroke="#666" stroke-width="0.6"/>
<text x="506.40" y="69.68" font-size="6.6" fill="#231f20" text-anchor="end" stroke="#231f20" stroke-width="0.1">-0.1</text>
<line x1="508.90" y1="84.40" x2="511.90" y2="84.40" stroke="#666" stroke-width="0.6"/>
<text x="506.40" y="86.78" font-size="6.6" fill="#231f20" text-anchor="end" stroke="#231f20" stroke-width="0.1">-0.2</text>
<line x1="508.90" y1="101.50" x2="511.90" y2="101.50" stroke="#666" stroke-width="0.6"/>
<text x="506.40" y="103.88" font-size="6.6" fill="#231f20" text-anchor="end" stroke="#231f20" stroke-width="0.1">-0.3</text>
<line x1="508.90" y1="118.60" x2="511.90" y2="118.60" stroke="#666" stroke-width="0.6"/>
<text x="506.40" y="120.98" font-size="6.6" fill="#231f20" text-anchor="end" stroke="#231f20" stroke-width="0.1">-0.4</text>
<text x="479.80" y="76.40" font-size="6.6" fill="#231f20" text-anchor="middle" stroke="#231f20" stroke-width="0.1" transform="rotate(-90 479.80 76.40)">Pain scale</text>
<text x="488.00" y="76.40" font-size="6.6" fill="#231f20" text-anchor="middle" stroke="#231f20" stroke-width="0.1" transform="rotate(-90 488.00 76.40)">PC2 score</text>
<polyline points="519.00,96.30 535.00,91.20 551.20,86.60 567.40,93.80 583.60,99.80" stroke="#a0a0a0" stroke-width="0.9" fill="none" stroke-linejoin="round"/>
<line x1="519.00" y1="91.30" x2="519.00" y2="101.30" stroke="#a0a0a0" stroke-width="0.9"/>
<circle cx="519.00" cy="96.30" r="2.0" fill="#a0a0a0"/>
<line x1="535.00" y1="86.70" x2="535.00" y2="95.70" stroke="#a0a0a0" stroke-width="0.9"/>
<circle cx="535.00" cy="91.20" r="2.0" fill="#a0a0a0"/>
<line x1="551.20" y1="80.60" x2="551.20" y2="92.60" stroke="#a0a0a0" stroke-width="0.9"/>
<circle cx="551.20" cy="86.60" r="2.0" fill="#a0a0a0"/>
<line x1="567.40" y1="87.80" x2="567.40" y2="99.80" stroke="#a0a0a0" stroke-width="0.9"/>
<circle cx="567.40" cy="93.80" r="2.0" fill="#a0a0a0"/>
<line x1="583.60" y1="94.80" x2="583.60" y2="104.80" stroke="#a0a0a0" stroke-width="0.9"/>
<circle cx="583.60" cy="99.80" r="2.0" fill="#a0a0a0"/>
<polyline points="519.00,98.90 535.00,69.60 551.20,56.00 567.40,55.50 583.60,58.70" stroke="#ee3a3f" stroke-width="0.95" fill="none" stroke-linejoin="round"/>
<line x1="519.00" y1="90.00" x2="519.00" y2="108.00" stroke="#ee3a3f" stroke-width="0.9"/>
<circle cx="519.00" cy="98.90" r="2.0" fill="#ee3a3f"/>
<line x1="535.00" y1="62.00" x2="535.00" y2="76.60" stroke="#ee3a3f" stroke-width="0.9"/>
<circle cx="535.00" cy="69.60" r="2.0" fill="#ee3a3f"/>
<line x1="551.20" y1="43.00" x2="551.20" y2="69.60" stroke="#ee3a3f" stroke-width="0.9"/>
<circle cx="551.20" cy="56.00" r="2.0" fill="#ee3a3f"/>
<line x1="567.40" y1="40.00" x2="567.40" y2="71.50" stroke="#ee3a3f" stroke-width="0.9"/>
<circle cx="567.40" cy="55.50" r="2.0" fill="#ee3a3f"/>
<line x1="583.60" y1="44.00" x2="583.60" y2="73.50" stroke="#ee3a3f" stroke-width="0.9"/>
<circle cx="583.60" cy="58.70" r="2.0" fill="#ee3a3f"/>
<polygon points="535.00,53.80 535.65,55.11 537.09,55.32 536.05,56.34 536.29,57.78 535.00,57.10 533.71,57.78 533.95,56.34 532.91,55.32 534.35,55.11" fill="#999"/>
<polygon points="551.20,35.50 551.85,36.81 553.29,37.02 552.25,38.04 552.49,39.48 551.20,38.80 549.91,39.48 550.15,38.04 549.11,37.02 550.55,36.81" fill="#999"/>
<polygon points="567.40,31.10 568.05,32.41 569.49,32.62 568.45,33.64 568.69,35.08 567.40,34.40 566.11,35.08 566.35,33.64 565.31,32.62 566.75,32.41" fill="#999"/>
<polygon points="583.60,36.00 584.25,37.31 585.69,37.52 584.65,38.54 584.89,39.98 583.60,39.30 582.31,39.98 582.55,38.54 581.51,37.52 582.95,37.31" fill="#999"/>
<rect x="517.00" y="128.60" width="4.00" height="4.00" fill="#1a1a1a"/>
<rect x="533.00" y="128.60" width="4.00" height="4.00" fill="#d2d82a"/>
<rect x="549.20" y="128.60" width="4.00" height="4.00" fill="#f7a540"/>
<rect x="565.40" y="128.60" width="4.00" height="4.00" fill="#ee5a24"/>
<rect x="581.60" y="128.60" width="4.00" height="4.00" fill="#b81c2e"/>
<polygon points="519.00,10.90 519.68,12.27 521.19,12.49 520.09,13.56 520.35,15.06 519.00,14.35 517.65,15.06 517.91,13.56 516.81,12.49 518.32,12.27" fill="#111"/>
<rect x="519.10" y="15.20" width="16.00" height="1.30" fill="#9c9c9c"/>
<rect x="519.10" y="16.70" width="32.00" height="1.40" fill="#4a4a4a"/>
<rect x="519.10" y="18.10" width="48.10" height="1.30" fill="#5a5a5a"/>
<rect x="519.10" y="19.40" width="64.50" height="1.30" fill="#8f8f8f"/>
<rect x="519.10" y="15.20" width="18.00" height="5.50" fill="url(#wg)"/>
<rect x="635.00" y="25.00" width="50.00" height="94.00" fill="#fdf3f3"/>
<text x="636.80" y="31.50" font-size="6.6" fill="#231f20" stroke="#231f20" stroke-width="0.1">SNI</text>
<line x1="634.75" y1="35.20" x2="634.75" y2="118.30" stroke="#666" stroke-width="0.6"/>
<line x1="631.75" y1="35.20" x2="634.75" y2="35.20" stroke="#666" stroke-width="0.6"/>
<text x="629.25" y="37.58" font-size="6.6" fill="#231f20" text-anchor="end" stroke="#231f20" stroke-width="0.1">0.4</text>
<line x1="631.75" y1="54.30" x2="634.75" y2="54.30" stroke="#666" stroke-width="0.6"/>
<text x="629.25" y="56.68" font-size="6.6" fill="#231f20" text-anchor="end" stroke="#231f20" stroke-width="0.1">0.2</text>
<line x1="631.75" y1="73.40" x2="634.75" y2="73.40" stroke="#666" stroke-width="0.6"/>
<text x="629.25" y="75.78" font-size="6.6" fill="#231f20" text-anchor="end" stroke="#231f20" stroke-width="0.1">0</text>
<line x1="631.75" y1="92.50" x2="634.75" y2="92.50" stroke="#666" stroke-width="0.6"/>
<text x="629.25" y="94.88" font-size="6.6" fill="#231f20" text-anchor="end" stroke="#231f20" stroke-width="0.1">−0.2</text>
<line x1="631.75" y1="111.60" x2="634.75" y2="111.60" stroke="#666" stroke-width="0.6"/>
<text x="629.25" y="113.98" font-size="6.6" fill="#231f20" text-anchor="end" stroke="#231f20" stroke-width="0.1">−0.4</text>
<text x="601.80" y="76.00" font-size="6.6" fill="#231f20" text-anchor="middle" stroke="#231f20" stroke-width="0.1" transform="rotate(-90 601.80 76.00)">Pain scale</text>
<text x="609.80" y="76.00" font-size="6.6" fill="#231f20" text-anchor="middle" stroke="#231f20" stroke-width="0.1" transform="rotate(-90 609.80 76.00)">PC2 score</text>
<line x1="641.00" y1="98.48" x2="666.50" y2="107.87" stroke="#d4d4d4" stroke-width="0.35"/>
<line x1="641.00" y1="113.57" x2="666.50" y2="105.71" stroke="#d4d4d4" stroke-width="0.35"/>
<line x1="641.00" y1="100.25" x2="666.50" y2="108.51" stroke="#d4d4d4" stroke-width="0.35"/>
<line x1="641.00" y1="89.91" x2="666.50" y2="106.77" stroke="#d4d4d4" stroke-width="0.35"/>
<line x1="641.00" y1="104.16" x2="666.50" y2="113.24" stroke="#d4d4d4" stroke-width="0.35"/>
<line x1="641.00" y1="87.01" x2="666.50" y2="101.98" stroke="#d4d4d4" stroke-width="0.35"/>
<line x1="641.00" y1="86.90" x2="666.50" y2="113.62" stroke="#d4d4d4" stroke-width="0.35"/>
<line x1="641.00" y1="106.19" x2="666.50" y2="95.96" stroke="#d4d4d4" stroke-width="0.35"/>
<line x1="641.00" y1="115.43" x2="666.50" y2="117.19" stroke="#d4d4d4" stroke-width="0.35"/>
<line x1="641.00" y1="104.93" x2="666.50" y2="109.16" stroke="#d4d4d4" stroke-width="0.35"/>
<line x1="641.00" y1="89.04" x2="666.50" y2="95.35" stroke="#d4d4d4" stroke-width="0.35"/>
<line x1="641.00" y1="100.91" x2="666.50" y2="96.37" stroke="#d4d4d4" stroke-width="0.35"/>
<line x1="641.00" y1="90.09" x2="666.50" y2="100.56" stroke="#d4d4d4" stroke-width="0.35"/>
<line x1="641.00" y1="84.96" x2="666.50" y2="105.67" stroke="#d4d4d4" stroke-width="0.35"/>
<line x1="641.00" y1="98.10" x2="666.50" y2="114.38" stroke="#d4d4d4" stroke-width="0.35"/>
<line x1="641.00" y1="100.61" x2="666.50" y2="109.73" stroke="#d4d4d4" stroke-width="0.35"/>
<line x1="651.50" y1="90.99" x2="677.00" y2="100.52" stroke="#f6a6a6" stroke-width="0.35"/>
<line x1="651.50" y1="89.55" x2="677.00" y2="87.46" stroke="#f6a6a6" stroke-width="0.35"/>
<line x1="651.50" y1="107.92" x2="677.00" y2="111.85" stroke="#f6a6a6" stroke-width="0.35"/>
<line x1="651.50" y1="102.57" x2="677.00" y2="102.07" stroke="#f6a6a6" stroke-width="0.35"/>
<line x1="651.50" y1="84.72" x2="677.00" y2="85.81" stroke="#f6a6a6" stroke-width="0.35"/>
<line x1="651.50" y1="83.83" x2="677.00" y2="80.39" stroke="#f6a6a6" stroke-width="0.35"/>
<line x1="651.50" y1="100.05" x2="677.00" y2="91.61" stroke="#f6a6a6" stroke-width="0.35"/>
<line x1="651.50" y1="102.78" x2="677.00" y2="91.14" stroke="#f6a6a6" stroke-width="0.35"/>
<line x1="651.50" y1="106.57" x2="677.00" y2="106.81" stroke="#f6a6a6" stroke-width="0.35"/>
<line x1="651.50" y1="74.02" x2="677.00" y2="85.13" stroke="#f6a6a6" stroke-width="0.35"/>
<line x1="651.50" y1="104.95" x2="677.00" y2="93.98" stroke="#f6a6a6" stroke-width="0.35"/>
<line x1="651.50" y1="107.33" x2="677.00" y2="91.51" stroke="#f6a6a6" stroke-width="0.35"/>
<line x1="651.50" y1="76.48" x2="677.00" y2="99.40" stroke="#f6a6a6" stroke-width="0.35"/>
<line x1="651.50" y1="100.47" x2="677.00" y2="87.17" stroke="#f6a6a6" stroke-width="0.35"/>
<line x1="651.50" y1="35.30" x2="677.00" y2="47.80" stroke="#f6a6a6" stroke-width="0.4"/>
<line x1="651.50" y1="42.00" x2="673.00" y2="73.20" stroke="#f6a6a6" stroke-width="0.4"/>
<rect x="638.60" y="73.40" width="5.40" height="27.20" fill="#909090"/>
<rect x="649.20" y="73.40" width="5.00" height="4.60" fill="#ee3a3f"/>
<rect x="664.10" y="73.40" width="5.10" height="37.00" fill="#909090"/>
<rect x="674.20" y="73.40" width="5.80" height="16.10" fill="#ee3a3f"/>
<line x1="651.60" y1="69.80" x2="651.60" y2="86.60" stroke="#111" stroke-width="0.7"/>
<line x1="641.30" y1="97.70" x2="641.30" y2="104.00" stroke="#555" stroke-width="1.0"/>
<line x1="666.60" y1="109.00" x2="666.60" y2="112.50" stroke="#111" stroke-width="0.9"/>
<line x1="677.10" y1="82.30" x2="677.10" y2="89.50" stroke="#b01818" stroke-width="1.0"/>
<line x1="677.10" y1="89.50" x2="677.10" y2="96.70" stroke="#999" stroke-width="1.0"/>
<line x1="634.75" y1="73.40" x2="685.00" y2="73.40" stroke="#333" stroke-width="0.6" stroke-dasharray="0.9,0.9"/>
<polygon points="641.60,15.80 642.19,16.99 643.50,17.18 642.55,18.11 642.78,19.42 641.60,18.80 640.42,19.42 640.65,18.11 639.70,17.18 641.01,16.99" fill="#111"/>
<line x1="641.40" y1="21.50" x2="650.50" y2="21.50" stroke="#111" stroke-width="0.75"/>
<polygon points="651.00,14.40 651.59,15.59 652.90,15.78 651.95,16.71 652.18,18.02 651.00,17.40 649.82,18.02 650.05,16.71 649.10,15.78 650.41,15.59" fill="#111"/>
<line x1="651.00" y1="19.50" x2="677.00" y2="19.50" stroke="#111" stroke-width="0.75"/>
<polygon points="666.20,12.00 666.79,13.19 668.10,13.38 667.15,14.31 667.38,15.62 666.20,15.00 665.02,15.62 665.25,14.31 664.30,13.38 665.61,13.19" fill="#111"/>
<line x1="666.20" y1="17.50" x2="677.00" y2="17.50" stroke="#111" stroke-width="0.75"/>
<rect x="646.30" y="128.70" width="4.00" height="4.00" fill="#b81c2e"/>
<rect x="670.40" y="128.70" width="4.00" height="4.00" fill="#1c73bf"/>
<text x="3.00" y="162.00" font-size="6.6" fill="#231f20" stroke="#231f20" stroke-width="0.1" textLength="292" lengthAdjust="spacingAndGlyphs">Morphine restores neuropathic lick-evoked and spontaneous activity in lick-encoding ACC neurons</text>
<line x1="297.50" y1="160.30" x2="537.50" y2="160.30" stroke="#231f20" stroke-width="0.6"/>
<text x="541.00" y="162.00" font-size="6.6" fill="#231f20" stroke="#231f20" stroke-width="0.1" textLength="120" lengthAdjust="spacingAndGlyphs">Δ Lick-evoked activity predicts analgesia</text>
<text x="1.00" y="175.20" font-size="10" fill="#000" stroke="#000" stroke-width="0.6">g</text>
<text x="239.00" y="174.80" font-size="10" fill="#000" stroke="#000" stroke-width="0.6">i</text>
<text x="446.00" y="174.80" font-size="10" fill="#000" stroke="#000" stroke-width="0.6">k</text>
<text x="540.00" y="174.80" font-size="10" fill="#000" stroke="#000" stroke-width="0.6">m</text>
<text x="1.00" y="325.00" font-size="10" fill="#000" stroke="#000" stroke-width="0.6">h</text>
<text x="238.70" y="325.80" font-size="10" fill="#000" stroke="#000" stroke-width="0.6">j</text>
<text x="446.00" y="325.80" font-size="10" fill="#000" stroke="#000" stroke-width="0.6">l</text>
<rect x="60.50" y="213.00" width="19.35" height="68.40" fill="#eef0f0"/>
<line x1="41.50" y1="213.00" x2="41.50" y2="281.40" stroke="#222" stroke-width="0.8" stroke-dasharray="0.6,0.9"/>
<line x1="79.50" y1="213.00" x2="79.50" y2="281.40" stroke="#222" stroke-width="0.8" stroke-dasharray="0.6,0.9"/>
<line x1="60.50" y1="213.00" x2="60.50" y2="281.40" stroke="#444" stroke-width="0.8" stroke-dasharray="2.2,1.4"/>
<line x1="22.00" y1="272.50" x2="99.20" y2="272.50" stroke="#999" stroke-width="0.7" stroke-dasharray="2.2,1.6"/>
<polygon points="21.80,265.25 22.64,265.85 23.81,266.70 25.19,267.70 26.67,268.75 28.16,269.75 29.54,270.60 30.83,271.33 32.12,272.05 33.41,272.71 34.70,273.30 35.99,273.79 37.28,274.16 38.57,274.40 39.86,274.53 41.15,274.57 42.44,274.51 43.73,274.37 45.02,274.16 46.33,273.84 47.67,273.39 49.01,272.86 50.32,272.29 51.58,271.72 52.76,271.19 53.84,270.88 54.84,270.80 55.78,270.73 56.70,270.42 57.62,269.66 58.56,268.22 59.53,265.83 60.50,261.62 61.47,257.95 62.44,254.19 63.40,250.73 64.37,247.92 65.34,245.78 66.31,244.00 67.27,242.50 68.24,241.23 69.21,240.09 70.17,239.01 71.14,238.02 72.11,237.18 73.08,236.47 74.05,235.90 75.01,235.46 75.98,235.15 76.93,235.06 77.84,235.21 78.76,235.49 79.71,235.79 80.71,236.01 81.78,236.04 82.94,235.83 84.15,235.45 85.41,234.99 86.73,234.53 88.10,234.16 89.53,233.97 91.14,233.99 92.97,234.16 94.85,234.43 96.62,234.72 98.13,234.99 99.20,235.15 99.20,239.55 98.13,239.39 96.62,239.12 94.85,238.83 92.97,238.56 91.14,238.39 89.53,238.37 88.10,238.56 86.73,238.93 85.41,239.39 84.15,239.85 82.94,240.23 81.78,240.44 80.71,240.41 79.71,240.19 78.76,239.89 77.84,239.61 76.93,239.46 75.98,239.55 75.01,239.86 74.05,240.30 73.08,240.87 72.11,241.58 71.14,242.42 70.17,243.41 69.21,244.49 68.24,245.63 67.27,246.90 66.31,248.40 65.34,250.18 64.37,252.32 63.40,255.13 62.44,258.59 61.47,262.35 60.50,266.02 59.53,268.25 58.56,270.64 57.62,272.08 56.70,272.84 55.78,273.15 54.84,273.22 53.84,273.30 52.76,273.61 51.58,274.14 50.32,274.71 49.01,275.28 47.67,275.81 46.33,276.26 45.02,276.58 43.73,276.79 42.44,276.93 41.15,276.99 39.86,276.95 38.57,276.82 37.28,276.58 35.99,276.21 34.70,275.72 33.41,275.13 32.12,274.47 30.83,273.75 29.54,273.02 28.16,272.17 26.67,271.17 25.19,270.12 23.81,269.12 22.64,268.27 21.80,267.67" fill="#fbc98a" fill-opacity="0.45"/>
<polyline points="21.80,266.46 22.64,267.06 23.81,267.91 25.19,268.91 26.67,269.96 28.16,270.96 29.54,271.81 30.83,272.54 32.12,273.26 33.41,273.92 34.70,274.51 35.99,275.00 37.28,275.37 38.57,275.61 39.86,275.74 41.15,275.78 42.44,275.72 43.73,275.58 45.02,275.37 46.33,275.05 47.67,274.60 49.01,274.07 50.32,273.50 51.58,272.93 52.76,272.40 53.84,272.09 54.84,272.01 55.78,271.94 56.70,271.63 57.62,270.87 58.56,269.43 59.53,267.04 60.50,263.82 61.47,260.15 62.44,256.39 63.40,252.93 64.37,250.12 65.34,247.98 66.31,246.20 67.27,244.70 68.24,243.43 69.21,242.29 70.17,241.21 71.14,240.22 72.11,239.38 73.08,238.67 74.05,238.10 75.01,237.66 75.98,237.35 76.93,237.26 77.84,237.41 78.76,237.69 79.71,237.99 80.71,238.21 81.78,238.24 82.94,238.03 84.15,237.65 85.41,237.19 86.73,236.73 88.10,236.36 89.53,236.17 91.14,236.19 92.97,236.36 94.85,236.63 96.62,236.92 98.13,237.19 99.20,237.35" stroke="#f7a540" stroke-width="0.8" fill="none" stroke-linejoin="round"/>
<polygon points="21.80,263.98 22.64,264.77 23.81,265.88 25.19,267.18 26.67,268.53 28.16,269.79 29.54,270.82 30.83,271.62 32.12,272.32 33.41,272.93 34.70,273.47 35.99,273.94 37.28,274.38 38.57,274.80 39.86,275.19 41.15,275.53 42.44,275.78 43.73,275.90 45.02,275.86 46.33,275.64 47.67,275.26 49.01,274.75 50.32,274.16 51.58,273.53 52.76,272.89 53.84,272.38 54.84,271.96 55.78,271.50 56.70,270.86 57.62,269.89 58.56,268.44 59.53,266.32 60.50,262.79 61.47,259.74 62.44,256.63 63.40,253.73 64.37,251.29 65.34,249.30 66.31,247.52 67.27,245.95 68.24,244.57 69.21,243.39 70.17,242.38 71.14,241.61 72.11,241.06 73.08,240.71 74.05,240.50 75.01,240.38 75.98,240.31 76.93,240.36 77.84,240.61 78.76,240.96 79.71,241.28 80.71,241.50 81.78,241.49 82.94,241.15 84.15,240.53 85.41,239.79 86.73,239.10 88.10,238.62 89.53,238.52 91.14,238.92 92.97,239.71 94.85,240.71 96.62,241.76 98.13,242.67 99.20,243.28 99.20,246.88 98.13,246.27 96.62,245.36 94.85,244.31 92.97,243.31 91.14,242.52 89.53,242.12 88.10,242.22 86.73,242.70 85.41,243.39 84.15,244.13 82.94,244.75 81.78,245.09 80.71,245.10 79.71,244.89 78.76,244.56 77.84,244.21 76.93,243.96 75.98,243.91 75.01,243.98 74.05,244.10 73.08,244.31 72.11,244.66 71.14,245.21 70.17,245.98 69.21,246.99 68.24,248.17 67.27,249.55 66.31,251.12 65.34,252.90 64.37,254.89 63.40,257.33 62.44,260.23 61.47,263.34 60.50,266.39 59.53,268.30 58.56,270.42 57.62,271.87 56.70,272.84 55.78,273.48 54.84,273.94 53.84,274.36 52.76,274.88 51.58,275.51 50.32,276.14 49.01,276.73 47.67,277.24 46.33,277.62 45.02,277.84 43.73,277.88 42.44,277.76 41.15,277.51 39.86,277.17 38.57,276.78 37.28,276.36 35.99,275.92 34.70,275.45 33.41,274.91 32.12,274.30 30.83,273.60 29.54,272.80 28.16,271.77 26.67,270.51 25.19,269.16 23.81,267.86 22.64,266.75 21.80,265.96" fill="#f7a07a" fill-opacity="0.35"/>
<polyline points="21.80,264.97 22.64,265.76 23.81,266.87 25.19,268.17 26.67,269.52 28.16,270.78 29.54,271.81 30.83,272.61 32.12,273.31 33.41,273.92 34.70,274.46 35.99,274.93 37.28,275.37 38.57,275.79 39.86,276.18 41.15,276.52 42.44,276.77 43.73,276.89 45.02,276.85 46.33,276.63 47.67,276.25 49.01,275.74 50.32,275.15 51.58,274.52 52.76,273.88 53.84,273.37 54.84,272.95 55.78,272.49 56.70,271.85 57.62,270.88 58.56,269.43 59.53,267.31 60.50,264.59 61.47,261.54 62.44,258.43 63.40,255.53 64.37,253.09 65.34,251.10 66.31,249.32 67.27,247.75 68.24,246.37 69.21,245.19 70.17,244.18 71.14,243.41 72.11,242.86 73.08,242.51 74.05,242.30 75.01,242.18 75.98,242.11 76.93,242.16 77.84,242.41 78.76,242.76 79.71,243.09 80.71,243.30 81.78,243.29 82.94,242.95 84.15,242.33 85.41,241.59 86.73,240.90 88.10,240.42 89.53,240.32 91.14,240.72 92.97,241.51 94.85,242.51 96.62,243.56 98.13,244.47 99.20,245.08" stroke="#ee5a24" stroke-width="0.8" fill="none" stroke-linejoin="round"/>
<polygon points="21.80,267.12 22.64,267.61 23.81,268.31 25.19,269.12 26.67,269.99 28.16,270.83 29.54,271.57 30.83,272.28 32.12,273.00 33.41,273.71 34.70,274.34 35.99,274.83 37.28,275.14 38.57,275.25 39.86,275.19 41.15,275.01 42.44,274.72 43.73,274.36 45.02,273.95 46.33,273.44 47.67,272.80 49.01,272.08 50.32,271.34 51.58,270.66 52.76,270.09 53.84,269.82 54.84,269.83 55.78,269.89 56.70,269.76 57.62,269.21 58.56,268.01 59.53,265.92 60.50,262.41 61.47,259.15 62.44,255.80 63.40,252.68 64.37,250.11 65.34,248.07 66.31,246.30 67.27,244.76 68.24,243.42 69.21,242.24 70.17,241.20 71.14,240.29 72.11,239.55 73.08,238.97 74.05,238.56 75.01,238.31 75.98,238.23 76.93,238.43 77.84,238.94 78.76,239.62 79.71,240.32 80.71,240.89 81.78,241.20 82.94,241.18 84.15,240.92 85.41,240.55 86.73,240.15 88.10,239.84 89.53,239.71 91.14,239.81 92.97,240.04 94.85,240.36 96.62,240.71 98.13,241.00 99.20,241.20 99.20,244.20 98.13,244.00 96.62,243.71 94.85,243.36 92.97,243.04 91.14,242.81 89.53,242.71 88.10,242.84 86.73,243.15 85.41,243.55 84.15,243.92 82.94,244.18 81.78,244.20 80.71,243.89 79.71,243.32 78.76,242.62 77.84,241.94 76.93,241.43 75.98,241.23 75.01,241.31 74.05,241.56 73.08,241.97 72.11,242.55 71.14,243.29 70.17,244.20 69.21,245.24 68.24,246.42 67.27,247.76 66.31,249.30 65.34,251.07 64.37,253.11 63.40,255.68 62.44,258.80 61.47,262.15 60.50,265.41 59.53,267.57 58.56,269.66 57.62,270.86 56.70,271.41 55.78,271.54 54.84,271.48 53.84,271.47 52.76,271.74 51.58,272.31 50.32,272.99 49.01,273.73 47.67,274.45 46.33,275.09 45.02,275.60 43.73,276.01 42.44,276.37 41.15,276.66 39.86,276.84 38.57,276.90 37.28,276.79 35.99,276.48 34.70,275.99 33.41,275.36 32.12,274.65 30.83,273.93 29.54,273.22 28.16,272.48 26.67,271.64 25.19,270.77 23.81,269.96 22.64,269.26 21.80,268.77" fill="#eee880" fill-opacity="0.4"/>
<polyline points="21.80,267.94 22.64,268.44 23.81,269.13 25.19,269.95 26.67,270.82 28.16,271.66 29.54,272.40 30.83,273.10 32.12,273.83 33.41,274.53 34.70,275.16 35.99,275.66 37.28,275.96 38.57,276.07 39.86,276.02 41.15,275.83 42.44,275.55 43.73,275.18 45.02,274.78 46.33,274.27 47.67,273.62 49.01,272.90 50.32,272.17 51.58,271.49 52.76,270.91 53.84,270.64 54.84,270.65 55.78,270.71 56.70,270.58 57.62,270.04 58.56,268.84 59.53,266.75 60.50,263.91 61.47,260.65 62.44,257.30 63.40,254.18 64.37,251.61 65.34,249.57 66.31,247.80 67.27,246.26 68.24,244.92 69.21,243.74 70.17,242.70 71.14,241.79 72.11,241.05 73.08,240.47 74.05,240.06 75.01,239.81 75.98,239.73 76.93,239.93 77.84,240.44 78.76,241.12 79.71,241.82 80.71,242.39 81.78,242.70 82.94,242.68 84.15,242.42 85.41,242.05 86.73,241.65 88.10,241.34 89.53,241.21 91.14,241.31 92.97,241.54 94.85,241.86 96.62,242.21 98.13,242.50 99.20,242.70" stroke="#e0dc20" stroke-width="0.8" fill="none" stroke-linejoin="round"/>
<polygon points="21.80,262.17 22.64,263.01 23.81,264.20 25.19,265.60 26.67,267.06 28.16,268.44 29.54,269.59 30.83,270.55 32.12,271.44 33.41,272.25 34.70,272.96 35.99,273.57 37.28,274.05 38.57,274.41 39.86,274.67 41.15,274.81 42.44,274.85 43.73,274.80 45.02,274.64 46.33,274.36 47.67,273.92 49.01,273.38 50.32,272.80 51.58,272.21 52.76,271.67 53.84,271.28 54.84,271.01 55.78,270.75 56.70,270.35 57.62,269.71 58.56,268.70 59.53,267.21 60.50,264.21 61.47,262.06 62.44,259.81 63.40,257.66 64.37,255.74 65.32,254.02 66.23,252.33 67.15,250.73 68.10,249.25 69.10,247.94 70.17,246.83 71.35,245.98 72.61,245.37 73.92,244.92 75.26,244.57 76.60,244.24 77.92,243.86 79.23,243.48 80.57,243.14 81.91,242.82 83.22,242.51 84.48,242.17 85.66,241.78 86.71,241.31 87.66,240.75 88.56,240.17 89.45,239.62 90.40,239.15 91.46,238.81 92.73,238.64 94.18,238.59 95.69,238.63 97.12,238.70 98.34,238.78 99.20,238.81 99.20,243.61 98.34,243.58 97.12,243.50 95.69,243.43 94.18,243.39 92.73,243.44 91.46,243.61 90.40,243.95 89.45,244.42 88.56,244.97 87.66,245.55 86.71,246.11 85.66,246.58 84.48,246.97 83.22,247.31 81.91,247.62 80.57,247.94 79.23,248.28 77.92,248.66 76.60,249.04 75.26,249.37 73.92,249.72 72.61,250.17 71.35,250.78 70.17,251.63 69.10,252.74 68.10,254.05 67.15,255.53 66.23,257.13 65.32,258.82 64.37,260.54 63.40,262.46 62.44,264.61 61.47,266.86 60.50,269.01 59.53,269.85 58.56,271.34 57.62,272.35 56.70,272.99 55.78,273.39 54.84,273.65 53.84,273.92 52.76,274.31 51.58,274.85 50.32,275.44 49.01,276.02 47.67,276.56 46.33,277.00 45.02,277.28 43.73,277.44 42.44,277.49 41.15,277.45 39.86,277.31 38.57,277.05 37.28,276.69 35.99,276.21 34.70,275.60 33.41,274.89 32.12,274.08 30.83,273.19 29.54,272.23 28.16,271.08 26.67,269.70 25.19,268.24 23.81,266.84 22.64,265.65 21.80,264.81" fill="#f08080" fill-opacity="0.45"/>
<polyline points="21.80,263.49 22.64,264.33 23.81,265.52 25.19,266.92 26.67,268.38 28.16,269.76 29.54,270.91 30.83,271.87 32.12,272.76 33.41,273.57 34.70,274.28 35.99,274.89 37.28,275.37 38.57,275.73 39.86,275.99 41.15,276.13 42.44,276.17 43.73,276.12 45.02,275.96 46.33,275.68 47.67,275.24 49.01,274.70 50.32,274.12 51.58,273.53 52.76,272.99 53.84,272.60 54.84,272.33 55.78,272.07 56.70,271.67 57.62,271.03 58.56,270.02 59.53,268.53 60.50,266.61 61.47,264.46 62.44,262.21 63.40,260.06 64.37,258.14 65.32,256.42 66.23,254.73 67.15,253.13 68.10,251.65 69.10,250.34 70.17,249.23 71.35,248.38 72.61,247.77 73.92,247.32 75.26,246.97 76.60,246.64 77.92,246.26 79.23,245.88 80.57,245.54 81.91,245.22 83.22,244.91 84.48,244.57 85.66,244.18 86.71,243.71 87.66,243.15 88.56,242.57 89.45,242.02 90.40,241.55 91.46,241.21 92.73,241.04 94.18,240.99 95.69,241.03 97.12,241.10 98.34,241.18 99.20,241.21" stroke="#d82030" stroke-width="1.0" fill="none" stroke-linejoin="round"/>
<polygon points="21.80,266.38 22.20,266.98 22.73,268.23 23.37,268.37 24.09,267.94 24.87,268.57 25.67,268.77 26.53,269.05 27.46,270.37 28.45,269.79 29.47,270.64 30.49,270.86 31.47,270.98 32.46,272.37 33.48,272.31 34.50,273.88 35.49,273.98 36.42,275.16 37.28,275.46 38.04,276.03 38.71,277.46 39.34,277.59 39.93,277.13 40.53,278.02 41.15,276.94 41.77,276.83 42.37,276.88 42.96,275.82 43.59,274.19 44.26,274.51 45.02,272.49 45.88,271.54 46.81,271.10 47.80,269.26 48.82,268.02 49.84,266.64 50.83,265.79 51.80,266.05 52.80,265.58 53.79,266.21 54.77,265.81 55.72,265.33 56.63,264.63 57.51,261.48 58.39,258.25 59.23,254.79 60.03,249.81 60.78,243.48 61.47,241.29 62.06,238.48 62.56,235.28 63.00,232.99 63.43,231.69 63.88,229.98 64.37,226.93 64.92,225.85 65.50,223.51 66.09,220.95 66.68,218.75 67.28,216.77 67.85,215.72 68.41,216.76 68.94,216.08 69.47,217.47 70.01,217.80 70.56,219.57 71.14,220.07 71.75,220.36 72.39,220.98 73.04,222.56 73.70,222.44 74.36,223.39 75.01,224.47 75.66,225.29 76.30,225.18 76.95,224.88 77.59,225.98 78.24,225.37 78.88,225.79 79.53,227.24 80.17,228.95 80.82,230.04 81.46,231.83 82.11,233.53 82.75,234.88 83.39,234.89 84.01,235.53 84.63,236.40 85.26,236.59 85.92,236.23 86.62,236.53 87.38,236.84 88.20,236.81 89.04,237.28 89.88,237.85 90.70,239.55 91.46,239.52 92.16,239.88 92.82,238.34 93.46,238.87 94.08,238.28 94.70,238.29 95.33,237.50 96.02,238.36 96.76,237.05 97.51,237.72 98.20,238.03 98.78,238.29 99.20,238.08 99.20,247.98 98.78,248.19 98.20,247.93 97.51,247.62 96.76,246.95 96.02,248.26 95.33,247.40 94.70,248.19 94.08,248.18 93.46,248.77 92.82,248.24 92.16,249.78 91.46,249.42 90.70,249.45 89.88,247.75 89.04,247.18 88.20,246.71 87.38,246.74 86.62,246.43 85.92,246.13 85.26,246.49 84.63,246.30 84.01,245.43 83.39,244.79 82.75,244.78 82.11,243.43 81.46,241.73 80.82,239.94 80.17,238.85 79.53,237.14 78.88,235.69 78.24,235.27 77.59,235.88 76.95,234.78 76.30,235.08 75.66,235.19 75.01,234.37 74.36,233.29 73.70,232.34 73.04,232.46 72.39,230.88 71.75,230.26 71.14,229.97 70.56,229.47 70.01,227.70 69.47,227.37 68.94,225.98 68.41,226.66 67.85,225.62 67.28,226.67 66.68,228.65 66.09,230.85 65.50,233.41 64.92,235.75 64.37,236.83 63.88,239.88 63.43,241.59 63.00,242.89 62.56,245.18 62.06,248.38 61.47,251.19 60.78,253.38 60.03,254.76 59.23,259.74 58.39,263.20 57.51,266.43 56.63,269.58 55.72,270.28 54.77,270.76 53.79,271.16 52.80,270.53 51.80,271.00 50.83,270.74 49.84,271.59 48.82,272.97 47.80,274.21 46.81,276.05 45.88,276.49 45.02,277.44 44.26,279.46 43.59,279.14 42.96,280.77 42.37,281.83 41.77,281.78 41.15,281.89 40.53,282.97 39.93,282.08 39.34,282.54 38.71,282.41 38.04,280.98 37.28,280.41 36.42,280.11 35.49,278.93 34.50,278.83 33.48,277.26 32.46,277.32 31.47,275.93 30.49,275.81 29.47,275.59 28.45,274.74 27.46,275.32 26.53,274.00 25.67,273.72 24.87,273.52 24.09,272.89 23.37,273.32 22.73,273.18 22.20,271.93 21.80,271.33" fill="#9a9a9a" fill-opacity="0.5"/>
<polyline points="21.80,268.85 22.20,269.46 22.73,270.71 23.37,270.85 24.09,270.41 24.87,271.04 25.67,271.25 26.53,271.53 27.46,272.85 28.45,272.26 29.47,273.11 30.49,273.33 31.47,273.45 32.46,274.85 33.48,274.79 34.50,276.35 35.49,276.45 36.42,277.63 37.28,277.94 38.04,278.51 38.71,279.93 39.34,280.06 39.93,279.61 40.53,280.49 41.15,279.42 41.77,279.30 42.37,279.35 42.96,278.30 43.59,276.67 44.26,276.99 45.02,274.97 45.88,274.01 46.81,273.57 47.80,271.73 48.82,270.50 49.84,269.11 50.83,268.26 51.80,268.53 52.80,268.06 53.79,268.68 54.77,268.28 55.72,267.81 56.63,267.10 57.51,263.95 58.39,260.72 59.23,257.26 60.03,252.29 60.78,248.43 61.47,246.24 62.06,243.43 62.56,240.23 63.00,237.94 63.43,236.64 63.88,234.93 64.37,231.88 64.92,230.80 65.50,228.46 66.09,225.90 66.68,223.70 67.28,221.72 67.85,220.67 68.41,221.71 68.94,221.03 69.47,222.42 70.01,222.75 70.56,224.52 71.14,225.02 71.75,225.31 72.39,225.93 73.04,227.51 73.70,227.39 74.36,228.34 75.01,229.42 75.66,230.24 76.30,230.13 76.95,229.83 77.59,230.93 78.24,230.32 78.88,230.74 79.53,232.19 80.17,233.90 80.82,234.99 81.46,236.78 82.11,238.48 82.75,239.83 83.39,239.84 84.01,240.48 84.63,241.35 85.26,241.54 85.92,241.18 86.62,241.48 87.38,241.79 88.20,241.76 89.04,242.23 89.88,242.80 90.70,244.50 91.46,244.47 92.16,244.83 92.82,243.29 93.46,243.82 94.08,243.23 94.70,243.24 95.33,242.45 96.02,243.31 96.76,242.00 97.51,242.67 98.20,242.98 98.78,243.24 99.20,243.03" stroke="#222" stroke-width="0.8" fill="none" stroke-linejoin="round"/>
<line x1="22.00" y1="213.00" x2="22.00" y2="281.40" stroke="#666" stroke-width="0.6"/>
<line x1="19.70" y1="213.00" x2="22.00" y2="213.00" stroke="#666" stroke-width="0.6"/>
<text x="17.10" y="215.38" font-size="6.6" fill="#231f20" text-anchor="end" stroke="#231f20" stroke-width="0.1">2</text>
<line x1="19.70" y1="242.70" x2="22.00" y2="242.70" stroke="#666" stroke-width="0.6"/>
<text x="17.10" y="245.08" font-size="6.6" fill="#231f20" text-anchor="end" stroke="#231f20" stroke-width="0.1">1</text>
<line x1="19.70" y1="272.40" x2="22.00" y2="272.40" stroke="#666" stroke-width="0.6"/>
<text x="17.10" y="274.78" font-size="6.6" fill="#231f20" text-anchor="end" stroke="#231f20" stroke-width="0.1">0</text>
<line x1="21.80" y1="281.40" x2="99.20" y2="281.40" stroke="#666" stroke-width="0.6"/>
<line x1="21.80" y1="281.40" x2="21.80" y2="283.70" stroke="#666" stroke-width="0.6"/>
<text x="21.80" y="292.35" font-size="6.6" fill="#231f20" text-anchor="middle" stroke="#231f20" stroke-width="0.1">−2</text>
<line x1="41.15" y1="281.40" x2="41.15" y2="283.70" stroke="#666" stroke-width="0.6"/>
<text x="41.15" y="292.35" font-size="6.6" fill="#231f20" text-anchor="middle" stroke="#231f20" stroke-width="0.1">−1</text>
<line x1="60.50" y1="281.40" x2="60.50" y2="283.70" stroke="#666" stroke-width="0.6"/>
<text x="60.50" y="292.35" font-size="6.6" fill="#231f20" text-anchor="middle" stroke="#231f20" stroke-width="0.1">0</text>
<line x1="79.85" y1="281.40" x2="79.85" y2="283.70" stroke="#666" stroke-width="0.6"/>
<text x="79.85" y="292.35" font-size="6.6" fill="#231f20" text-anchor="middle" stroke="#231f20" stroke-width="0.1">1</text>
<line x1="99.20" y1="281.40" x2="99.20" y2="283.70" stroke="#666" stroke-width="0.6"/>
<text x="99.20" y="292.35" font-size="6.6" fill="#231f20" text-anchor="middle" stroke="#231f20" stroke-width="0.1">2</text>
<text x="8.90" y="247.60" font-size="6.6" fill="#231f20" text-anchor="middle" stroke="#231f20" stroke-width="0.1" transform="rotate(-90 8.90 247.60)"><tspan font-style="italic">z</tspan>-score</text>
<text x="15.00" y="197.50" font-size="6.6" fill="#231f20" stroke="#231f20" stroke-width="0.1" textLength="90" lengthAdjust="spacingAndGlyphs">Positive lick-encoding neurons</text>
<text x="60.50" y="303.80" font-size="6.6" fill="#231f20" text-anchor="middle" stroke="#231f20" stroke-width="0.1" textLength="77" lengthAdjust="spacingAndGlyphs">Time from lick initiation (s)</text>
<path d="M68.3,281.2 C72,270 84,264.5 94.5,263.8" stroke="#111" stroke-width="0.6" fill="none"/>
<polygon points="97.50,263.60 94.30,262.20 94.50,265.20" fill="#111"/>
<rect x="59.30" y="349.00" width="19.10" height="68.60" fill="#eef0f0"/>
<line x1="40.50" y1="349.00" x2="40.50" y2="417.60" stroke="#222" stroke-width="0.8" stroke-dasharray="0.6,0.9"/>
<line x1="78.50" y1="349.00" x2="78.50" y2="417.60" stroke="#222" stroke-width="0.8" stroke-dasharray="0.6,0.9"/>
<line x1="59.50" y1="349.00" x2="59.50" y2="417.60" stroke="#444" stroke-width="0.8" stroke-dasharray="2.2,1.4"/>
<line x1="20.20" y1="382.50" x2="97.50" y2="382.50" stroke="#555" stroke-width="0.7" stroke-dasharray="2.2,1.6"/>
<polygon points="21.10,365.01 22.14,365.94 23.58,367.24 25.28,368.77 27.11,370.41 28.95,372.01 30.65,373.46 32.24,374.75 33.83,376.00 35.42,377.22 37.02,378.43 38.61,379.65 40.20,380.90 41.81,382.11 43.45,383.28 45.09,384.45 46.71,385.70 48.27,387.08 49.75,388.67 51.12,390.58 52.40,392.79 53.63,395.13 54.84,397.45 56.08,399.61 57.39,401.43 58.81,403.03 60.33,403.73 61.87,405.08 63.37,406.15 64.76,406.87 65.98,407.13 66.97,406.94 67.75,406.38 68.43,405.46 69.10,404.18 69.84,402.57 70.76,400.62 71.85,398.06 73.02,394.83 74.28,391.26 75.61,387.67 76.98,384.40 78.40,381.78 79.88,379.88 81.44,378.45 83.06,377.35 84.70,376.40 86.34,375.45 87.95,374.34 89.65,373.01 91.49,371.59 93.32,370.16 95.02,368.83 96.46,367.71 97.50,366.90 97.50,370.50 96.46,371.31 95.02,372.43 93.32,373.76 91.49,375.19 89.65,376.61 87.95,377.94 86.34,379.05 84.70,380.00 83.06,380.95 81.44,382.05 79.88,383.48 78.40,385.38 76.98,388.00 75.61,391.27 74.28,394.86 73.02,398.43 71.85,401.66 70.76,404.22 69.84,406.17 69.10,407.78 68.43,409.06 67.75,409.98 66.97,410.54 65.98,410.73 64.76,410.47 63.37,409.75 61.87,408.68 60.33,407.33 58.81,405.01 57.39,403.41 56.08,401.59 54.84,399.43 53.63,397.11 52.40,394.77 51.12,392.56 49.75,390.65 48.27,389.06 46.71,387.68 45.09,386.43 43.45,385.26 41.81,384.09 40.20,382.88 38.61,381.63 37.02,380.41 35.42,379.20 33.83,377.98 32.24,376.73 30.65,375.44 28.95,373.99 27.11,372.39 25.28,370.75 23.58,369.22 22.14,367.92 21.10,366.99" fill="#fbc98a" fill-opacity="0.45"/>
<polyline points="21.10,366.00 22.14,366.93 23.58,368.23 25.28,369.76 27.11,371.40 28.95,373.00 30.65,374.45 32.24,375.74 33.83,376.99 35.42,378.21 37.02,379.42 38.61,380.64 40.20,381.89 41.81,383.10 43.45,384.27 45.09,385.44 46.71,386.69 48.27,388.07 49.75,389.66 51.12,391.57 52.40,393.78 53.63,396.12 54.84,398.44 56.08,400.60 57.39,402.42 58.81,404.02 60.33,405.53 61.87,406.88 63.37,407.95 64.76,408.67 65.98,408.93 66.97,408.74 67.75,408.18 68.43,407.26 69.10,405.98 69.84,404.37 70.76,402.42 71.85,399.86 73.02,396.63 74.28,393.06 75.61,389.47 76.98,386.20 78.40,383.58 79.88,381.68 81.44,380.25 83.06,379.15 84.70,378.20 86.34,377.25 87.95,376.14 89.65,374.81 91.49,373.39 93.32,371.96 95.02,370.63 96.46,369.51 97.50,368.70" stroke="#f7a540" stroke-width="0.8" fill="none" stroke-linejoin="round"/>
<polygon points="21.10,365.18 22.14,366.11 23.58,367.40 25.28,368.94 27.11,370.57 28.95,372.18 30.65,373.62 32.24,374.92 33.83,376.17 35.42,377.39 37.02,378.59 38.61,379.81 40.20,381.06 41.81,382.31 43.45,383.55 45.09,384.79 46.71,386.07 48.27,387.41 49.75,388.83 51.12,390.42 52.40,392.16 53.63,393.96 54.84,395.73 56.08,397.37 57.39,398.81 58.81,400.12 60.33,400.73 61.87,401.89 63.37,402.84 64.76,403.47 65.98,403.71 66.97,403.55 67.75,403.06 68.43,402.27 69.10,401.18 69.84,399.80 70.76,398.13 71.85,395.96 73.02,393.24 74.28,390.22 75.61,387.18 76.98,384.37 78.40,382.08 79.88,380.34 81.44,378.96 83.06,377.82 84.70,376.80 86.34,375.78 87.95,374.64 89.65,373.31 91.49,371.89 93.32,370.46 95.02,369.13 96.46,368.01 97.50,367.20 97.50,370.20 96.46,371.01 95.02,372.13 93.32,373.46 91.49,374.89 89.65,376.31 87.95,377.64 86.34,378.78 84.70,379.80 83.06,380.82 81.44,381.96 79.88,383.34 78.40,385.08 76.98,387.37 75.61,390.18 74.28,393.22 73.02,396.24 71.85,398.96 70.76,401.13 69.84,402.80 69.10,404.18 68.43,405.27 67.75,406.06 66.97,406.55 65.98,406.71 64.76,406.47 63.37,405.84 61.87,404.89 60.33,403.73 58.81,401.77 57.39,400.46 56.08,399.02 54.84,397.38 53.63,395.61 52.40,393.81 51.12,392.07 49.75,390.48 48.27,389.06 46.71,387.72 45.09,386.44 43.45,385.20 41.81,383.96 40.20,382.71 38.61,381.46 37.02,380.24 35.42,379.04 33.83,377.82 32.24,376.57 30.65,375.27 28.95,373.83 27.11,372.22 25.28,370.59 23.58,369.05 22.14,367.76 21.10,366.82" fill="#f7a07a" fill-opacity="0.35"/>
<polyline points="21.10,366.00 22.14,366.93 23.58,368.23 25.28,369.76 27.11,371.40 28.95,373.00 30.65,374.45 32.24,375.74 33.83,376.99 35.42,378.21 37.02,379.42 38.61,380.64 40.20,381.89 41.81,383.14 43.45,384.37 45.09,385.61 46.71,386.89 48.27,388.23 49.75,389.66 51.12,391.25 52.40,392.98 53.63,394.78 54.84,396.55 56.08,398.20 57.39,399.63 58.81,400.94 60.33,402.23 61.87,403.39 63.37,404.34 64.76,404.97 65.98,405.21 66.97,405.05 67.75,404.56 68.43,403.77 69.10,402.68 69.84,401.30 70.76,399.63 71.85,397.46 73.02,394.74 74.28,391.72 75.61,388.68 76.98,385.87 78.40,383.58 79.88,381.84 81.44,380.46 83.06,379.32 84.70,378.30 86.34,377.28 87.95,376.14 89.65,374.81 91.49,373.39 93.32,371.96 95.02,370.63 96.46,369.51 97.50,368.70" stroke="#ee5a24" stroke-width="0.8" fill="none" stroke-linejoin="round"/>
<polygon points="21.10,365.34 22.14,366.27 23.58,367.57 25.28,369.10 27.11,370.74 28.95,372.34 30.65,373.79 32.24,375.08 33.83,376.33 35.42,377.55 37.02,378.76 38.61,379.98 40.20,381.23 41.81,382.49 43.45,383.77 45.09,385.05 46.71,386.35 48.27,387.66 49.75,389.00 51.12,390.41 52.40,391.89 53.63,393.39 54.84,394.86 56.08,396.23 57.39,397.45 58.81,398.61 60.33,399.23 61.87,400.29 63.37,401.17 64.76,401.76 65.98,401.98 66.97,401.83 67.75,401.39 68.43,400.67 69.10,399.68 69.84,398.42 70.76,396.91 71.85,394.95 73.02,392.50 74.28,389.79 75.61,387.05 76.98,384.50 78.40,382.38 79.88,380.73 81.44,379.37 83.06,378.21 84.70,377.16 86.34,376.10 87.95,374.94 89.65,373.61 91.49,372.19 93.32,370.76 95.02,369.43 96.46,368.31 97.50,367.50 97.50,369.90 96.46,370.71 95.02,371.83 93.32,373.16 91.49,374.59 89.65,376.01 87.95,377.34 86.34,378.50 84.70,379.56 83.06,380.61 81.44,381.77 79.88,383.13 78.40,384.78 76.98,386.90 75.61,389.45 74.28,392.19 73.02,394.90 71.85,397.35 70.76,399.31 69.84,400.82 69.10,402.08 68.43,403.07 67.75,403.79 66.97,404.23 65.98,404.38 64.76,404.16 63.37,403.57 61.87,402.69 60.33,401.63 58.81,399.93 57.39,398.77 56.08,397.55 54.84,396.18 53.63,394.71 52.40,393.21 51.12,391.73 49.75,390.32 48.27,388.98 46.71,387.67 45.09,386.37 43.45,385.09 41.81,383.81 40.20,382.55 38.61,381.30 37.02,380.08 35.42,378.87 33.83,377.65 32.24,376.40 30.65,375.11 28.95,373.66 27.11,372.06 25.28,370.42 23.58,368.89 22.14,367.59 21.10,366.66" fill="#eee880" fill-opacity="0.4"/>
<polyline points="21.10,366.00 22.14,366.93 23.58,368.23 25.28,369.76 27.11,371.40 28.95,373.00 30.65,374.45 32.24,375.74 33.83,376.99 35.42,378.21 37.02,379.42 38.61,380.64 40.20,381.89 41.81,383.15 43.45,384.43 45.09,385.71 46.71,387.01 48.27,388.32 49.75,389.66 51.12,391.07 52.40,392.55 53.63,394.05 54.84,395.52 56.08,396.89 57.39,398.11 58.81,399.27 60.33,400.43 61.87,401.49 63.37,402.37 64.76,402.96 65.98,403.18 66.97,403.03 67.75,402.59 68.43,401.87 69.10,400.88 69.84,399.62 70.76,398.11 71.85,396.15 73.02,393.70 74.28,390.99 75.61,388.25 76.98,385.70 78.40,383.58 79.88,381.93 81.44,380.57 83.06,379.41 84.70,378.36 86.34,377.30 87.95,376.14 89.65,374.81 91.49,373.39 93.32,371.96 95.02,370.63 96.46,369.51 97.50,368.70" stroke="#e0dc20" stroke-width="0.8" fill="none" stroke-linejoin="round"/>
<polygon points="21.10,365.18 22.14,366.11 23.58,367.40 25.28,368.94 27.11,370.57 28.95,372.18 30.65,373.62 32.24,374.92 33.83,376.17 35.42,377.39 37.02,378.59 38.61,379.81 40.20,381.06 41.81,382.34 43.45,383.64 45.09,384.95 46.71,386.26 48.27,387.55 49.75,388.83 51.12,390.13 52.40,391.44 53.63,392.74 54.84,394.01 56.08,395.19 57.39,396.27 58.81,397.33 60.33,397.72 61.87,398.72 63.37,399.55 64.76,400.12 65.98,400.33 66.97,400.19 67.75,399.78 68.43,399.10 69.10,398.17 69.84,397.00 70.76,395.60 71.85,393.78 73.02,391.51 74.28,389.00 75.61,386.46 76.98,384.08 78.40,382.08 79.88,380.48 81.44,379.15 83.06,377.98 84.70,376.89 86.34,375.81 87.95,374.64 89.65,373.31 91.49,371.89 93.32,370.46 95.02,369.13 96.46,368.01 97.50,367.20 97.50,370.20 96.46,371.01 95.02,372.13 93.32,373.46 91.49,374.89 89.65,376.31 87.95,377.64 86.34,378.81 84.70,379.89 83.06,380.98 81.44,382.15 79.88,383.48 78.40,385.08 76.98,387.08 75.61,389.46 74.28,392.00 73.02,394.51 71.85,396.78 70.76,398.60 69.84,400.00 69.10,401.17 68.43,402.10 67.75,402.78 66.97,403.19 65.98,403.33 64.76,403.12 63.37,402.55 61.87,401.72 60.33,400.72 58.81,398.98 57.39,397.92 56.08,396.84 54.84,395.66 53.63,394.39 52.40,393.09 51.12,391.78 49.75,390.48 48.27,389.20 46.71,387.91 45.09,386.60 43.45,385.29 41.81,383.99 40.20,382.71 38.61,381.46 37.02,380.24 35.42,379.04 33.83,377.82 32.24,376.57 30.65,375.27 28.95,373.83 27.11,372.22 25.28,370.59 23.58,369.05 22.14,367.76 21.10,366.82" fill="#f08080" fill-opacity="0.4"/>
<polyline points="21.10,366.00 22.14,366.93 23.58,368.23 25.28,369.76 27.11,371.40 28.95,373.00 30.65,374.45 32.24,375.74 33.83,376.99 35.42,378.21 37.02,379.42 38.61,380.64 40.20,381.89 41.81,383.17 43.45,384.46 45.09,385.77 46.71,387.08 48.27,388.38 49.75,389.66 51.12,390.95 52.40,392.26 53.63,393.57 54.84,394.83 56.08,396.02 57.39,397.10 58.81,398.15 60.33,399.22 61.87,400.22 63.37,401.05 64.76,401.62 65.98,401.83 66.97,401.69 67.75,401.28 68.43,400.60 69.10,399.67 69.84,398.50 70.76,397.10 71.85,395.28 73.02,393.01 74.28,390.50 75.61,387.96 76.98,385.58 78.40,383.58 79.88,381.98 81.44,380.65 83.06,379.48 84.70,378.39 86.34,377.31 87.95,376.14 89.65,374.81 91.49,373.39 93.32,371.96 95.02,370.63 96.46,369.51 97.50,368.70" stroke="#d8202f" stroke-width="0.9" fill="none" stroke-linejoin="round"/>
<polygon points="21.10,376.30 21.52,376.57 22.09,376.95 22.77,376.98 23.51,377.53 24.24,377.95 24.92,378.09 25.53,377.84 26.12,377.97 26.71,377.86 27.33,377.50 27.99,377.37 28.74,377.12 29.60,377.29 30.54,377.48 31.55,377.36 32.56,377.80 33.55,377.91 34.47,377.42 35.32,376.31 36.13,374.52 36.92,372.94 37.69,371.21 38.46,369.99 39.24,369.96 40.03,370.31 40.80,372.35 41.57,374.06 42.36,376.73 43.17,378.84 44.02,380.41 44.92,381.93 45.86,382.83 46.83,383.77 47.80,384.77 48.78,385.22 49.75,386.03 50.70,387.17 51.66,388.29 52.62,388.93 53.57,389.96 54.52,391.70 55.48,393.18 56.41,395.20 57.32,398.11 58.23,400.64 59.16,403.71 60.14,404.67 61.21,406.90 62.42,408.84 63.76,410.48 65.15,411.77 66.52,412.40 67.78,412.94 68.85,412.58 69.71,411.43 70.41,409.84 71.00,407.73 71.54,405.18 72.08,402.56 72.67,400.45 73.31,398.00 73.94,395.86 74.58,393.98 75.22,391.88 75.85,389.95 76.49,388.30 77.13,386.76 77.76,385.09 78.40,383.49 79.04,382.42 79.67,381.27 80.31,379.87 80.95,378.81 81.58,378.18 82.22,378.22 82.86,377.31 83.49,377.25 84.13,376.56 84.79,375.57 85.47,374.85 86.16,373.34 86.82,372.43 87.42,371.86 87.95,371.16 88.36,371.71 88.66,371.83 88.91,372.46 89.15,373.08 89.45,373.88 89.86,373.78 90.39,373.34 90.99,372.38 91.65,371.28 92.34,370.14 93.02,368.90 93.68,367.89 94.36,367.72 95.09,367.45 95.83,367.42 96.51,367.84 97.08,368.13 97.50,367.88 97.50,373.88 97.08,374.13 96.51,373.84 95.83,373.42 95.09,373.45 94.36,373.72 93.68,373.89 93.02,374.90 92.34,376.14 91.65,377.28 90.99,378.38 90.39,379.34 89.86,379.78 89.45,379.88 89.15,379.08 88.91,378.46 88.66,377.83 88.36,377.71 87.95,377.16 87.42,377.86 86.82,378.43 86.16,379.34 85.47,380.85 84.79,381.57 84.13,382.56 83.49,383.25 82.86,383.31 82.22,384.22 81.58,384.18 80.95,384.81 80.31,385.87 79.67,387.27 79.04,388.42 78.40,389.49 77.76,391.09 77.13,392.76 76.49,394.30 75.85,395.95 75.22,397.88 74.58,399.98 73.94,401.86 73.31,404.00 72.67,406.45 72.08,408.56 71.54,411.18 71.00,413.73 70.41,415.84 69.71,417.43 68.85,418.58 67.78,418.94 66.52,418.40 65.15,417.77 63.76,416.48 62.42,414.84 61.21,412.90 60.14,410.67 59.16,407.01 58.23,403.94 57.32,401.41 56.41,398.50 55.48,396.48 54.52,395.00 53.57,393.26 52.62,392.23 51.66,391.59 50.70,390.47 49.75,389.33 48.78,388.52 47.80,388.07 46.83,387.07 45.86,386.13 44.92,385.23 44.02,383.71 43.17,382.14 42.36,380.03 41.57,377.36 40.80,375.65 40.03,373.61 39.24,373.26 38.46,373.29 37.69,374.51 36.92,376.24 36.13,377.82 35.32,379.61 34.47,380.72 33.55,381.21 32.56,381.10 31.55,380.66 30.54,380.78 29.60,380.59 28.74,380.42 27.99,380.67 27.33,380.80 26.71,381.16 26.12,381.27 25.53,381.14 24.92,381.39 24.24,381.25 23.51,380.83 22.77,380.28 22.09,380.25 21.52,379.87 21.10,379.60" fill="#9a9a9a" fill-opacity="0.45"/>
<polyline points="21.10,377.95 21.52,378.22 22.09,378.60 22.77,378.63 23.51,379.18 24.24,379.60 24.92,379.74 25.53,379.49 26.12,379.62 26.71,379.51 27.33,379.15 27.99,379.02 28.74,378.77 29.60,378.94 30.54,379.13 31.55,379.01 32.56,379.45 33.55,379.56 34.47,379.07 35.32,377.96 36.13,376.17 36.92,374.59 37.69,372.86 38.46,371.64 39.24,371.61 40.03,371.96 40.80,374.00 41.57,375.71 42.36,378.38 43.17,380.49 44.02,382.06 44.92,383.58 45.86,384.48 46.83,385.42 47.80,386.42 48.78,386.87 49.75,387.68 50.70,388.82 51.66,389.94 52.62,390.58 53.57,391.61 54.52,393.35 55.48,394.83 56.41,396.85 57.32,399.76 58.23,402.29 59.16,405.36 60.14,407.67 61.21,409.90 62.42,411.84 63.76,413.48 65.15,414.77 66.52,415.40 67.78,415.94 68.85,415.58 69.71,414.43 70.41,412.84 71.00,410.73 71.54,408.18 72.08,405.56 72.67,403.45 73.31,401.00 73.94,398.86 74.58,396.98 75.22,394.88 75.85,392.95 76.49,391.30 77.13,389.76 77.76,388.09 78.40,386.49 79.04,385.42 79.67,384.27 80.31,382.87 80.95,381.81 81.58,381.18 82.22,381.22 82.86,380.31 83.49,380.25 84.13,379.56 84.79,378.57 85.47,377.85 86.16,376.34 86.82,375.43 87.42,374.86 87.95,374.16 88.36,374.71 88.66,374.83 88.91,375.46 89.15,376.08 89.45,376.88 89.86,376.78 90.39,376.34 90.99,375.38 91.65,374.28 92.34,373.14 93.02,371.90 93.68,370.89 94.36,370.72 95.09,370.45 95.83,370.42 96.51,370.84 97.08,371.13 97.50,370.88" stroke="#222" stroke-width="0.8" fill="none" stroke-linejoin="round"/>
<line x1="20.20" y1="349.00" x2="20.20" y2="417.60" stroke="#666" stroke-width="0.6"/>
<line x1="17.90" y1="349.10" x2="20.20" y2="349.10" stroke="#666" stroke-width="0.6"/>
<text x="15.30" y="351.48" font-size="6.6" fill="#231f20" text-anchor="end" stroke="#231f20" stroke-width="0.1">1</text>
<line x1="17.90" y1="382.90" x2="20.20" y2="382.90" stroke="#666" stroke-width="0.6"/>
<text x="15.30" y="385.28" font-size="6.6" fill="#231f20" text-anchor="end" stroke="#231f20" stroke-width="0.1">0</text>
<line x1="17.90" y1="416.70" x2="20.20" y2="416.70" stroke="#666" stroke-width="0.6"/>
<text x="15.30" y="419.08" font-size="6.6" fill="#231f20" text-anchor="end" stroke="#231f20" stroke-width="0.1">−1</text>
<line x1="21.10" y1="417.60" x2="97.50" y2="417.60" stroke="#666" stroke-width="0.6"/>
<line x1="21.10" y1="417.60" x2="21.10" y2="419.90" stroke="#666" stroke-width="0.6"/>
<text x="21.10" y="428.55" font-size="6.6" fill="#231f20" text-anchor="middle" stroke="#231f20" stroke-width="0.1">−2</text>
<line x1="40.20" y1="417.60" x2="40.20" y2="419.90" stroke="#666" stroke-width="0.6"/>
<text x="40.20" y="428.55" font-size="6.6" fill="#231f20" text-anchor="middle" stroke="#231f20" stroke-width="0.1">−1</text>
<line x1="59.30" y1="417.60" x2="59.30" y2="419.90" stroke="#666" stroke-width="0.6"/>
<text x="59.30" y="428.55" font-size="6.6" fill="#231f20" text-anchor="middle" stroke="#231f20" stroke-width="0.1">0</text>
<line x1="78.40" y1="417.60" x2="78.40" y2="419.90" stroke="#666" stroke-width="0.6"/>
<text x="78.40" y="428.55" font-size="6.6" fill="#231f20" text-anchor="middle" stroke="#231f20" stroke-width="0.1">1</text>
<line x1="97.50" y1="417.60" x2="97.50" y2="419.90" stroke="#666" stroke-width="0.6"/>
<text x="97.50" y="428.55" font-size="6.6" fill="#231f20" text-anchor="middle" stroke="#231f20" stroke-width="0.1">2</text>
<text x="6.50" y="383.00" font-size="6.6" fill="#231f20" text-anchor="middle" stroke="#231f20" stroke-width="0.1" transform="rotate(-90 6.50 383.00)"><tspan font-style="italic">z</tspan>-score</text>
<text x="14.00" y="333.20" font-size="6.6" fill="#231f20" stroke="#231f20" stroke-width="0.1" textLength="92" lengthAdjust="spacingAndGlyphs">Negative lick-encoding neurons</text>
<text x="59.30" y="440.00" font-size="6.6" fill="#231f20" text-anchor="middle" stroke="#231f20" stroke-width="0.1" textLength="77" lengthAdjust="spacingAndGlyphs">Time from lick initiation (s)</text>
<rect x="297.40" y="213.00" width="19.30" height="68.20" fill="#eef0f0"/>
<line x1="278.50" y1="213.00" x2="278.50" y2="281.20" stroke="#222" stroke-width="0.8" stroke-dasharray="0.6,0.9"/>
<line x1="316.50" y1="213.00" x2="316.50" y2="281.20" stroke="#222" stroke-width="0.8" stroke-dasharray="0.6,0.9"/>
<line x1="297.50" y1="213.00" x2="297.50" y2="281.20" stroke="#444" stroke-width="0.8" stroke-dasharray="2.2,1.4"/>
<line x1="258.00" y1="272.50" x2="336.00" y2="272.50" stroke="#777" stroke-width="0.7" stroke-dasharray="2.2,1.6"/>
<polygon points="258.80,265.96 259.20,266.47 259.73,267.55 260.37,268.00 261.09,268.84 261.86,269.69 262.66,269.70 263.52,270.59 264.48,270.94 265.49,269.92 266.52,271.26 267.52,271.22 268.45,270.82 269.31,271.96 270.13,273.09 270.92,274.48 271.70,274.72 272.48,275.86 273.27,276.94 274.09,277.27 274.92,277.83 275.75,277.40 276.56,277.77 277.35,277.10 278.10,277.61 278.78,277.34 279.39,276.48 279.97,275.84 280.57,274.27 281.22,274.32 281.96,273.50 282.81,272.48 283.75,270.70 284.73,269.83 285.75,267.98 286.76,267.72 287.75,266.77 288.73,265.64 289.72,265.27 290.71,265.89 291.68,265.97 292.63,265.68 293.54,263.87 294.42,260.74 295.29,258.46 296.13,253.54 296.94,250.54 297.68,243.08 298.36,240.05 298.95,238.00 299.45,234.70 299.90,232.52 300.32,230.98 300.77,229.25 301.26,227.35 301.80,224.86 302.35,222.75 302.91,219.69 303.50,218.17 304.10,215.31 304.73,214.56 305.40,214.98 306.11,215.43 306.83,217.32 307.56,218.68 308.29,219.91 308.98,221.39 309.65,221.68 310.30,221.92 310.93,222.51 311.57,223.60 312.20,224.07 312.84,223.48 313.49,224.72 314.16,225.15 314.83,224.76 315.48,225.04 316.11,224.73 316.70,225.43 317.24,225.58 317.74,225.86 318.21,225.18 318.67,226.70 319.12,226.39 319.59,226.73 320.07,228.04 320.52,228.67 320.98,229.65 321.45,231.06 321.95,231.26 322.49,232.88 323.08,233.58 323.71,235.18 324.36,235.94 325.03,235.76 325.70,236.71 326.35,236.78 327.00,237.68 327.67,238.62 328.34,239.07 328.99,238.70 329.62,238.58 330.21,238.36 330.75,238.67 331.25,238.56 331.72,236.78 332.18,237.03 332.63,235.43 333.10,235.38 333.62,235.44 334.18,236.29 334.73,236.12 335.25,236.55 335.69,237.25 336.00,236.75 336.00,247.75 335.69,248.25 335.25,247.55 334.73,247.12 334.18,247.29 333.62,246.44 333.10,246.38 332.63,246.43 332.18,248.03 331.72,247.78 331.25,249.56 330.75,249.67 330.21,249.36 329.62,249.58 328.99,249.70 328.34,250.07 327.67,249.62 327.00,248.68 326.35,247.78 325.70,247.71 325.03,246.76 324.36,246.94 323.71,246.18 323.08,244.58 322.49,243.88 321.95,242.26 321.45,242.06 320.98,240.65 320.52,239.67 320.07,239.04 319.59,237.73 319.12,237.39 318.67,237.70 318.21,236.18 317.74,236.86 317.24,236.58 316.70,236.43 316.11,235.73 315.48,236.04 314.83,235.76 314.16,236.15 313.49,235.72 312.84,234.48 312.20,235.07 311.57,234.60 310.93,233.51 310.30,232.92 309.65,232.68 308.98,232.39 308.29,230.91 307.56,229.68 306.83,228.32 306.11,226.43 305.40,225.98 304.73,225.56 304.10,226.31 303.50,229.17 302.91,230.69 302.35,233.75 301.80,235.86 301.26,238.35 300.77,240.25 300.32,241.98 299.90,243.52 299.45,245.70 298.95,249.00 298.36,251.05 297.68,254.08 296.94,256.04 296.13,259.04 295.29,263.96 294.42,266.24 293.54,269.37 292.63,271.18 291.68,271.47 290.71,271.39 289.72,270.77 288.73,271.14 287.75,272.27 286.76,273.22 285.75,273.48 284.73,275.33 283.75,276.20 282.81,277.98 281.96,279.00 281.22,279.82 280.57,279.77 279.97,281.34 279.39,281.98 278.78,282.84 278.10,283.11 277.35,282.60 276.56,283.27 275.75,282.90 274.92,283.33 274.09,282.77 273.27,282.44 272.48,281.36 271.70,280.22 270.92,279.98 270.13,278.59 269.31,277.46 268.45,276.32 267.52,276.72 266.52,276.76 265.49,275.42 264.48,276.44 263.52,276.09 262.66,275.20 261.86,275.19 261.09,274.34 260.37,273.50 259.73,273.05 259.20,271.97 258.80,271.46" fill="#9a9a9a" fill-opacity="0.5"/>
<polyline points="258.80,268.71 259.20,269.22 259.73,270.30 260.37,270.75 261.09,271.59 261.86,272.44 262.66,272.45 263.52,273.34 264.48,273.69 265.49,272.67 266.52,274.01 267.52,273.97 268.45,273.57 269.31,274.71 270.13,275.84 270.92,277.23 271.70,277.47 272.48,278.61 273.27,279.69 274.09,280.02 274.92,280.58 275.75,280.15 276.56,280.52 277.35,279.85 278.10,280.36 278.78,280.09 279.39,279.23 279.97,278.59 280.57,277.02 281.22,277.07 281.96,276.25 282.81,275.23 283.75,273.45 284.73,272.58 285.75,270.73 286.76,270.47 287.75,269.52 288.73,268.39 289.72,268.02 290.71,268.64 291.68,268.72 292.63,268.43 293.54,266.62 294.42,263.49 295.29,261.21 296.13,256.29 296.94,253.29 297.68,248.58 298.36,245.55 298.95,243.50 299.45,240.20 299.90,238.02 300.32,236.48 300.77,234.75 301.26,232.85 301.80,230.36 302.35,228.25 302.91,225.19 303.50,223.67 304.10,220.81 304.73,220.06 305.40,220.48 306.11,220.93 306.83,222.82 307.56,224.18 308.29,225.41 308.98,226.89 309.65,227.18 310.30,227.42 310.93,228.01 311.57,229.10 312.20,229.57 312.84,228.98 313.49,230.22 314.16,230.65 314.83,230.26 315.48,230.54 316.11,230.23 316.70,230.93 317.24,231.08 317.74,231.36 318.21,230.68 318.67,232.20 319.12,231.89 319.59,232.23 320.07,233.54 320.52,234.17 320.98,235.15 321.45,236.56 321.95,236.76 322.49,238.38 323.08,239.08 323.71,240.68 324.36,241.44 325.03,241.26 325.70,242.21 326.35,242.28 327.00,243.18 327.67,244.12 328.34,244.57 328.99,244.20 329.62,244.08 330.21,243.86 330.75,244.17 331.25,244.06 331.72,242.28 332.18,242.53 332.63,240.93 333.10,240.88 333.62,240.94 334.18,241.79 334.73,241.62 335.25,242.05 335.69,242.75 336.00,242.25" stroke="#222" stroke-width="0.8" fill="none" stroke-linejoin="round"/>
<polygon points="258.80,265.82 259.64,266.32 260.80,267.01 262.18,267.83 263.66,268.70 265.14,269.54 266.52,270.29 267.83,270.97 269.16,271.65 270.50,272.30 271.81,272.91 273.07,273.44 274.24,273.87 275.29,274.23 276.24,274.56 277.13,274.82 278.03,274.96 278.98,274.95 280.03,274.76 281.23,274.33 282.53,273.67 283.89,272.86 285.25,271.98 286.55,271.10 287.75,270.29 288.84,269.68 289.86,269.24 290.83,268.80 291.75,268.19 292.65,267.25 293.54,265.82 294.42,263.76 295.29,261.18 296.13,258.28 296.94,255.22 297.68,250.32 298.36,247.54 298.95,244.87 299.44,242.15 299.87,239.48 300.29,236.93 300.74,234.62 301.26,232.64 301.85,230.95 302.48,229.46 303.13,228.21 303.80,227.21 304.47,226.49 305.12,226.08 305.76,226.16 306.41,226.75 307.05,227.61 307.69,228.53 308.34,229.29 308.98,229.66 309.62,229.58 310.27,229.22 310.91,228.69 311.55,228.11 312.20,227.60 312.84,227.28 313.48,227.09 314.13,226.96 314.77,226.88 315.41,226.90 316.06,227.02 316.70,227.28 317.34,227.79 317.99,228.59 318.63,229.49 319.27,230.33 319.92,230.94 320.56,231.15 321.20,230.80 321.85,230.00 322.49,228.97 323.13,227.93 323.78,227.09 324.42,226.68 325.07,226.75 325.74,227.14 326.41,227.74 327.06,228.43 327.69,229.11 328.28,229.66 328.83,230.16 329.35,230.73 329.85,231.28 330.32,231.73 330.76,232.02 331.17,232.04 331.54,231.71 331.85,231.04 332.14,230.20 332.43,229.34 332.74,228.61 333.10,228.17 333.57,228.05 334.11,228.15 334.67,228.37 335.21,228.66 335.67,228.91 336.00,229.06 336.00,237.46 335.67,237.31 335.21,237.06 334.67,236.77 334.11,236.55 333.57,236.45 333.10,236.57 332.74,237.01 332.43,237.74 332.14,238.60 331.85,239.44 331.54,240.11 331.17,240.44 330.76,240.42 330.32,240.13 329.85,239.68 329.35,239.13 328.83,238.56 328.28,238.06 327.69,237.51 327.06,236.83 326.41,236.14 325.74,235.54 325.07,235.15 324.42,235.08 323.78,235.49 323.13,236.33 322.49,237.37 321.85,238.40 321.20,239.20 320.56,239.55 319.92,239.34 319.27,238.73 318.63,237.89 317.99,236.99 317.34,236.19 316.70,235.68 316.06,235.42 315.41,235.30 314.77,235.28 314.13,235.36 313.48,235.49 312.84,235.68 312.20,236.00 311.55,236.51 310.91,237.09 310.27,237.62 309.62,237.98 308.98,238.06 308.34,237.69 307.69,236.93 307.05,236.01 306.41,235.15 305.76,234.56 305.12,234.48 304.47,234.89 303.80,235.61 303.13,236.61 302.48,237.86 301.85,239.35 301.26,241.04 300.74,243.02 300.29,245.33 299.87,247.88 299.44,250.55 298.95,253.27 298.36,255.94 297.68,258.72 296.94,259.84 296.13,262.90 295.29,265.80 294.42,268.38 293.54,270.44 292.65,271.87 291.75,272.81 290.83,273.42 289.86,273.86 288.84,274.30 287.75,274.91 286.55,275.72 285.25,276.60 283.89,277.48 282.53,278.29 281.23,278.95 280.03,279.38 278.98,279.57 278.03,279.58 277.13,279.44 276.24,279.18 275.29,278.85 274.24,278.49 273.07,278.06 271.81,277.53 270.50,276.92 269.16,276.27 267.83,275.59 266.52,274.91 265.14,274.16 263.66,273.32 262.18,272.45 260.80,271.63 259.64,270.94 258.80,270.44" fill="#8c8cf0" fill-opacity="0.45"/>
<polyline points="258.80,268.13 259.64,268.63 260.80,269.32 262.18,270.14 263.66,271.01 265.14,271.85 266.52,272.60 267.83,273.28 269.16,273.96 270.50,274.61 271.81,275.22 273.07,275.75 274.24,276.18 275.29,276.54 276.24,276.87 277.13,277.13 278.03,277.27 278.98,277.26 280.03,277.07 281.23,276.64 282.53,275.98 283.89,275.17 285.25,274.29 286.55,273.41 287.75,272.60 288.84,271.99 289.86,271.55 290.83,271.11 291.75,270.50 292.65,269.56 293.54,268.13 294.42,266.07 295.29,263.49 296.13,260.59 296.94,257.53 297.68,254.52 298.36,251.74 298.95,249.07 299.44,246.35 299.87,243.68 300.29,241.13 300.74,238.82 301.26,236.84 301.85,235.15 302.48,233.66 303.13,232.41 303.80,231.41 304.47,230.69 305.12,230.28 305.76,230.36 306.41,230.95 307.05,231.81 307.69,232.73 308.34,233.49 308.98,233.86 309.62,233.78 310.27,233.42 310.91,232.89 311.55,232.31 312.20,231.80 312.84,231.48 313.48,231.29 314.13,231.16 314.77,231.08 315.41,231.10 316.06,231.22 316.70,231.48 317.34,231.99 317.99,232.79 318.63,233.69 319.27,234.53 319.92,235.14 320.56,235.35 321.20,235.00 321.85,234.20 322.49,233.17 323.13,232.13 323.78,231.29 324.42,230.88 325.07,230.95 325.74,231.34 326.41,231.94 327.06,232.63 327.69,233.31 328.28,233.86 328.83,234.36 329.35,234.93 329.85,235.48 330.32,235.93 330.76,236.22 331.17,236.24 331.54,235.91 331.85,235.24 332.14,234.40 332.43,233.54 332.74,232.81 333.10,232.37 333.57,232.25 334.11,232.35 334.67,232.57 335.21,232.86 335.67,233.11 336.00,233.26" stroke="#2233ee" stroke-width="1.0" fill="none" stroke-linejoin="round"/>
<polyline points="258.80,263.66 259.64,264.51 260.80,265.70 262.18,267.11 263.66,268.57 265.14,269.95 266.52,271.11 267.81,272.07 269.09,272.96 270.38,273.77 271.67,274.49 272.95,275.09 274.24,275.58 275.53,275.94 276.81,276.20 278.10,276.34 279.39,276.39 280.67,276.33 281.96,276.18 283.27,275.89 284.60,275.45 285.94,274.91 287.25,274.32 288.51,273.73 289.68,273.20 290.76,272.81 291.75,272.56 292.70,272.30 293.61,271.92 294.53,271.26 295.47,270.22 296.43,268.63 297.40,266.60 298.37,264.29 299.33,261.92 300.29,259.65 301.26,257.70 302.20,256.01 303.12,254.41 304.03,252.93 304.98,251.59 305.97,250.39 307.05,249.36 308.22,248.54 309.48,247.93 310.79,247.47 312.13,247.10 313.46,246.76 314.77,246.38 316.08,245.99 317.41,245.65 318.75,245.33 320.06,245.02 321.32,244.68 322.49,244.29 323.54,243.81 324.49,243.25 325.38,242.67 326.28,242.12 327.23,241.64 328.28,241.31 329.54,241.14 331.00,241.09 332.50,241.12 333.93,241.20 335.14,241.28 336.00,241.31" stroke="#ee3a3f" stroke-width="1.0" fill="none" stroke-linejoin="round"/>
<line x1="258.00" y1="213.00" x2="258.00" y2="281.20" stroke="#666" stroke-width="0.6"/>
<line x1="255.70" y1="213.00" x2="258.00" y2="213.00" stroke="#666" stroke-width="0.6"/>
<text x="253.10" y="215.38" font-size="6.6" fill="#231f20" text-anchor="end" stroke="#231f20" stroke-width="0.1">2</text>
<line x1="255.70" y1="242.80" x2="258.00" y2="242.80" stroke="#666" stroke-width="0.6"/>
<text x="253.10" y="245.18" font-size="6.6" fill="#231f20" text-anchor="end" stroke="#231f20" stroke-width="0.1">1</text>
<line x1="255.70" y1="272.60" x2="258.00" y2="272.60" stroke="#666" stroke-width="0.6"/>
<text x="253.10" y="274.98" font-size="6.6" fill="#231f20" text-anchor="end" stroke="#231f20" stroke-width="0.1">0</text>
<line x1="258.80" y1="281.20" x2="336.00" y2="281.20" stroke="#666" stroke-width="0.6"/>
<line x1="258.80" y1="281.20" x2="258.80" y2="283.50" stroke="#666" stroke-width="0.6"/>
<text x="258.80" y="292.15" font-size="6.6" fill="#231f20" text-anchor="middle" stroke="#231f20" stroke-width="0.1">−2</text>
<line x1="278.10" y1="281.20" x2="278.10" y2="283.50" stroke="#666" stroke-width="0.6"/>
<text x="278.10" y="292.15" font-size="6.6" fill="#231f20" text-anchor="middle" stroke="#231f20" stroke-width="0.1">−1</text>
<line x1="297.40" y1="281.20" x2="297.40" y2="283.50" stroke="#666" stroke-width="0.6"/>
<text x="297.40" y="292.15" font-size="6.6" fill="#231f20" text-anchor="middle" stroke="#231f20" stroke-width="0.1">0</text>
<line x1="316.70" y1="281.20" x2="316.70" y2="283.50" stroke="#666" stroke-width="0.6"/>
<text x="316.70" y="292.15" font-size="6.6" fill="#231f20" text-anchor="middle" stroke="#231f20" stroke-width="0.1">1</text>
<line x1="336.00" y1="281.20" x2="336.00" y2="283.50" stroke="#666" stroke-width="0.6"/>
<text x="336.00" y="292.15" font-size="6.6" fill="#231f20" text-anchor="middle" stroke="#231f20" stroke-width="0.1">2</text>
<text x="245.50" y="253.00" font-size="6.6" fill="#231f20" text-anchor="middle" stroke="#231f20" stroke-width="0.1" transform="rotate(-90 245.50 253.00)"><tspan font-style="italic">z</tspan>-score</text>
<text x="251.80" y="197.50" font-size="6.6" fill="#231f20" stroke="#231f20" stroke-width="0.1" textLength="90.2" lengthAdjust="spacingAndGlyphs">Positive lick-encoding neurons</text>
<text x="297.40" y="303.80" font-size="6.6" fill="#231f20" text-anchor="middle" stroke="#231f20" stroke-width="0.1" textLength="77" lengthAdjust="spacingAndGlyphs">Time from lick initiation (s)</text>
<rect x="297.20" y="349.30" width="19.30" height="68.90" fill="#eef0f0"/>
<line x1="277.50" y1="349.30" x2="277.50" y2="418.20" stroke="#222" stroke-width="0.8" stroke-dasharray="0.6,0.9"/>
<line x1="316.50" y1="349.30" x2="316.50" y2="418.20" stroke="#222" stroke-width="0.8" stroke-dasharray="0.6,0.9"/>
<line x1="297.50" y1="349.30" x2="297.50" y2="418.20" stroke="#444" stroke-width="0.8" stroke-dasharray="2.2,1.4"/>
<line x1="258.00" y1="383.50" x2="335.80" y2="383.50" stroke="#555" stroke-width="0.7" stroke-dasharray="2.2,1.6"/>
<polygon points="258.60,374.69 259.02,374.75 259.60,375.61 260.29,376.19 261.03,376.86 261.77,377.64 262.46,377.91 263.10,377.90 263.75,377.72 264.39,377.46 265.03,376.86 265.68,376.58 266.32,376.67 266.92,376.77 267.46,377.01 268.01,377.57 268.61,377.69 269.31,377.86 270.18,377.11 271.28,376.35 272.57,374.70 273.98,372.82 275.40,370.66 276.74,369.38 277.90,369.36 278.83,369.64 279.58,371.61 280.25,373.57 280.94,375.38 281.73,377.64 282.72,379.79 283.96,380.88 285.37,381.89 286.89,383.38 288.44,384.34 289.97,386.14 291.41,387.93 292.76,391.20 294.09,395.29 295.39,399.19 296.66,403.54 297.91,406.21 299.13,409.15 300.33,411.02 301.52,411.73 302.69,412.69 303.81,413.17 304.88,413.08 305.88,413.09 306.79,412.53 307.60,411.94 308.36,411.17 309.10,410.05 309.87,408.96 310.71,407.21 311.64,404.94 312.64,401.77 313.67,398.57 314.68,395.35 315.64,392.78 316.50,390.49 317.23,388.77 317.86,387.06 318.43,386.11 319.00,385.81 319.63,384.59 320.36,383.56 321.21,381.71 322.15,379.98 323.13,378.10 324.15,376.18 325.16,374.61 326.15,372.91 327.14,372.34 328.15,371.71 329.17,370.78 330.15,370.53 331.09,370.33 331.94,369.74 332.74,369.22 333.51,368.84 334.23,368.75 334.87,368.19 335.40,368.50 335.80,368.28 335.80,374.28 335.40,374.50 334.87,374.19 334.23,374.75 333.51,374.84 332.74,375.22 331.94,375.74 331.09,376.33 330.15,376.53 329.17,376.78 328.15,377.71 327.14,378.34 326.15,378.91 325.16,380.61 324.15,382.18 323.13,384.10 322.15,385.98 321.21,387.71 320.36,389.56 319.63,390.59 319.00,391.81 318.43,392.11 317.86,393.06 317.23,394.77 316.50,396.49 315.64,398.78 314.68,401.35 313.67,404.57 312.64,407.77 311.64,410.94 310.71,413.21 309.87,414.96 309.10,416.05 308.36,417.17 307.60,417.94 306.79,418.53 305.88,419.09 304.88,419.08 303.81,419.17 302.69,418.69 301.52,417.73 300.33,417.02 299.13,415.15 297.91,412.21 296.66,406.84 295.39,402.49 294.09,398.59 292.76,394.50 291.41,391.23 289.97,389.44 288.44,387.64 286.89,386.68 285.37,385.19 283.96,384.18 282.72,383.09 281.73,380.94 280.94,378.68 280.25,376.87 279.58,374.91 278.83,372.94 277.90,372.66 276.74,372.68 275.40,373.96 273.98,376.12 272.57,378.00 271.28,379.65 270.18,380.41 269.31,381.16 268.61,380.99 268.01,380.87 267.46,380.31 266.92,380.07 266.32,379.97 265.68,379.88 265.03,380.16 264.39,380.76 263.75,381.02 263.10,381.20 262.46,381.21 261.77,380.94 261.03,380.16 260.29,379.49 259.60,378.91 259.02,378.05 258.60,377.99" fill="#9a9a9a" fill-opacity="0.45"/>
<polyline points="258.60,376.34 259.02,376.40 259.60,377.26 260.29,377.84 261.03,378.51 261.77,379.29 262.46,379.56 263.10,379.55 263.75,379.37 264.39,379.11 265.03,378.51 265.68,378.23 266.32,378.32 266.92,378.42 267.46,378.66 268.01,379.22 268.61,379.34 269.31,379.51 270.18,378.76 271.28,378.00 272.57,376.35 273.98,374.47 275.40,372.31 276.74,371.03 277.90,371.01 278.83,371.29 279.58,373.26 280.25,375.22 280.94,377.03 281.73,379.29 282.72,381.44 283.96,382.53 285.37,383.54 286.89,385.03 288.44,385.99 289.97,387.79 291.41,389.58 292.76,392.85 294.09,396.94 295.39,400.84 296.66,405.19 297.91,409.21 299.13,412.15 300.33,414.02 301.52,414.73 302.69,415.69 303.81,416.17 304.88,416.08 305.88,416.09 306.79,415.53 307.60,414.94 308.36,414.17 309.10,413.05 309.87,411.96 310.71,410.21 311.64,407.94 312.64,404.77 313.67,401.57 314.68,398.35 315.64,395.78 316.50,393.49 317.23,391.77 317.86,390.06 318.43,389.11 319.00,388.81 319.63,387.59 320.36,386.56 321.21,384.71 322.15,382.98 323.13,381.10 324.15,379.18 325.16,377.61 326.15,375.91 327.14,375.34 328.15,374.71 329.17,373.78 330.15,373.53 331.09,373.33 331.94,372.74 332.74,372.22 333.51,371.84 334.23,371.75 334.87,371.19 335.40,371.50 335.80,371.28" stroke="#222" stroke-width="0.8" fill="none" stroke-linejoin="round"/>
<polygon points="258.60,366.60 259.21,366.91 260.03,367.29 261.01,367.77 262.10,368.36 263.25,369.10 264.39,370.00 265.59,371.18 266.89,372.64 268.25,374.25 269.61,375.86 270.91,377.32 272.11,378.50 273.16,379.36 274.11,380.01 275.00,380.52 275.90,380.96 276.85,381.39 277.90,381.90 279.07,382.39 280.33,382.78 281.64,383.17 282.98,383.66 284.31,384.34 285.62,385.30 286.91,386.55 288.19,388.01 289.48,389.66 290.77,391.47 292.05,393.43 293.34,395.50 294.65,397.93 295.98,400.79 297.32,402.89 298.63,405.74 299.89,408.18 301.06,409.90 302.11,410.84 303.06,411.22 303.96,411.17 304.85,410.84 305.80,410.37 306.85,409.90 308.07,409.44 309.42,408.89 310.83,408.20 312.21,407.32 313.48,406.20 314.57,404.80 315.44,402.97 316.14,400.71 316.74,398.21 317.29,395.67 317.83,393.27 318.43,391.20 319.05,389.45 319.65,387.86 320.24,386.42 320.86,385.09 321.53,383.86 322.29,382.70 323.12,381.63 324.01,380.69 324.94,379.83 325.94,379.05 326.98,378.31 328.08,377.60 329.34,376.90 330.80,376.21 332.30,375.58 333.73,375.02 334.94,374.55 335.80,374.20 335.80,378.20 334.94,378.55 333.73,379.02 332.30,379.58 330.80,380.21 329.34,380.90 328.08,381.60 326.98,382.31 325.94,383.05 324.94,383.83 324.01,384.69 323.12,385.63 322.29,386.70 321.53,387.86 320.86,389.09 320.24,390.42 319.65,391.86 319.05,393.45 318.43,395.20 317.83,397.27 317.29,399.67 316.74,402.21 316.14,404.71 315.44,406.97 314.57,408.80 313.48,410.20 312.21,411.32 310.83,412.20 309.42,412.89 308.07,413.44 306.85,413.90 305.80,414.37 304.85,414.84 303.96,415.17 303.06,415.22 302.11,414.84 301.06,413.90 299.89,412.18 298.63,409.74 297.32,406.89 295.98,402.99 294.65,400.13 293.34,397.70 292.05,395.63 290.77,393.67 289.48,391.86 288.19,390.21 286.91,388.75 285.62,387.50 284.31,386.54 282.98,385.86 281.64,385.38 280.33,384.98 279.07,384.59 277.90,384.10 276.85,383.59 275.90,383.16 275.00,382.72 274.11,382.21 273.16,381.56 272.11,380.70 270.91,379.52 269.61,378.06 268.25,376.45 266.89,374.84 265.59,373.38 264.39,372.20 263.25,371.30 262.10,370.56 261.01,369.97 260.03,369.49 259.21,369.11 258.60,368.80" fill="#8c8cf0" fill-opacity="0.45"/>
<polyline points="258.60,367.70 259.21,368.01 260.03,368.39 261.01,368.87 262.10,369.46 263.25,370.20 264.39,371.10 265.59,372.28 266.89,373.74 268.25,375.35 269.61,376.96 270.91,378.42 272.11,379.60 273.16,380.46 274.11,381.11 275.00,381.62 275.90,382.06 276.85,382.49 277.90,383.00 279.07,383.49 280.33,383.88 281.64,384.27 282.98,384.76 284.31,385.44 285.62,386.40 286.91,387.65 288.19,389.11 289.48,390.76 290.77,392.57 292.05,394.53 293.34,396.60 294.65,399.03 295.98,401.89 297.32,404.89 298.63,407.74 299.89,410.18 301.06,411.90 302.11,412.84 303.06,413.22 303.96,413.17 304.85,412.84 305.80,412.37 306.85,411.90 308.07,411.44 309.42,410.89 310.83,410.20 312.21,409.32 313.48,408.20 314.57,406.80 315.44,404.97 316.14,402.71 316.74,400.21 317.29,397.67 317.83,395.27 318.43,393.20 319.05,391.45 319.65,389.86 320.24,388.42 320.86,387.09 321.53,385.86 322.29,384.70 323.12,383.63 324.01,382.69 324.94,381.83 325.94,381.05 326.98,380.31 328.08,379.60 329.34,378.90 330.80,378.21 332.30,377.58 333.73,377.02 334.94,376.55 335.80,376.20" stroke="#2233ee" stroke-width="1.0" fill="none" stroke-linejoin="round"/>
<polyline points="258.60,367.70 259.40,368.66 260.46,370.03 261.74,371.63 263.17,373.30 264.72,374.88 266.32,376.20 268.09,377.29 270.11,378.28 272.23,379.18 274.33,379.98 276.26,380.69 277.90,381.30 279.18,381.72 280.19,381.93 281.04,382.04 281.83,382.18 282.68,382.46 283.69,383.00 284.89,383.84 286.19,384.89 287.55,386.08 288.91,387.34 290.21,388.61 291.41,389.80 292.51,390.96 293.55,392.17 294.55,393.37 295.48,394.53 296.37,395.62 297.20,396.60 297.97,397.47 298.67,398.26 299.31,398.98 299.92,399.62 300.49,400.19 301.06,400.68 301.60,401.10 302.10,401.44 302.57,401.70 303.03,401.89 303.48,402.00 303.95,402.04 304.43,402.02 304.88,401.95 305.34,401.81 305.81,401.56 306.31,401.19 306.85,400.68 307.44,399.98 308.07,399.12 308.72,398.13 309.39,397.07 310.06,395.97 310.71,394.90 311.35,393.81 312.00,392.65 312.64,391.46 313.28,390.28 313.93,389.15 314.57,388.10 315.17,387.15 315.71,386.27 316.26,385.44 316.86,384.64 317.56,383.83 318.43,383.00 319.47,382.15 320.65,381.30 321.93,380.45 323.29,379.60 324.71,378.75 326.15,377.90 327.76,376.99 329.58,376.01 331.46,375.03 333.23,374.12 334.73,373.35 335.80,372.80" stroke="#ee3a3f" stroke-width="1.0" fill="none" stroke-linejoin="round"/>
<line x1="258.00" y1="349.30" x2="258.00" y2="418.20" stroke="#666" stroke-width="0.6"/>
<line x1="255.70" y1="349.00" x2="258.00" y2="349.00" stroke="#666" stroke-width="0.6"/>
<text x="253.10" y="351.38" font-size="6.6" fill="#231f20" text-anchor="end" stroke="#231f20" stroke-width="0.1">1</text>
<line x1="255.70" y1="383.00" x2="258.00" y2="383.00" stroke="#666" stroke-width="0.6"/>
<text x="253.10" y="385.38" font-size="6.6" fill="#231f20" text-anchor="end" stroke="#231f20" stroke-width="0.1">0</text>
<line x1="255.70" y1="417.00" x2="258.00" y2="417.00" stroke="#666" stroke-width="0.6"/>
<text x="253.10" y="419.38" font-size="6.6" fill="#231f20" text-anchor="end" stroke="#231f20" stroke-width="0.1">−1</text>
<line x1="258.60" y1="418.20" x2="335.80" y2="418.20" stroke="#666" stroke-width="0.6"/>
<line x1="258.60" y1="418.20" x2="258.60" y2="420.50" stroke="#666" stroke-width="0.6"/>
<text x="258.60" y="429.15" font-size="6.6" fill="#231f20" text-anchor="middle" stroke="#231f20" stroke-width="0.1">−2</text>
<line x1="277.90" y1="418.20" x2="277.90" y2="420.50" stroke="#666" stroke-width="0.6"/>
<text x="277.90" y="429.15" font-size="6.6" fill="#231f20" text-anchor="middle" stroke="#231f20" stroke-width="0.1">−1</text>
<line x1="297.20" y1="418.20" x2="297.20" y2="420.50" stroke="#666" stroke-width="0.6"/>
<text x="297.20" y="429.15" font-size="6.6" fill="#231f20" text-anchor="middle" stroke="#231f20" stroke-width="0.1">0</text>
<line x1="316.50" y1="418.20" x2="316.50" y2="420.50" stroke="#666" stroke-width="0.6"/>
<text x="316.50" y="429.15" font-size="6.6" fill="#231f20" text-anchor="middle" stroke="#231f20" stroke-width="0.1">1</text>
<line x1="335.80" y1="418.20" x2="335.80" y2="420.50" stroke="#666" stroke-width="0.6"/>
<text x="335.80" y="429.15" font-size="6.6" fill="#231f20" text-anchor="middle" stroke="#231f20" stroke-width="0.1">2</text>
<text x="244.50" y="383.00" font-size="6.6" fill="#231f20" text-anchor="middle" stroke="#231f20" stroke-width="0.1" transform="rotate(-90 244.50 383.00)"><tspan font-style="italic">z</tspan>-score</text>
<text x="251.00" y="333.20" font-size="6.6" fill="#231f20" stroke="#231f20" stroke-width="0.1" textLength="92" lengthAdjust="spacingAndGlyphs">Negative lick-encoding neurons</text>
<text x="297.20" y="440.00" font-size="6.6" fill="#231f20" text-anchor="middle" stroke="#231f20" stroke-width="0.1" textLength="77" lengthAdjust="spacingAndGlyphs">Time from lick initiation (s)</text>
<line x1="131.30" y1="228.30" x2="131.30" y2="281.10" stroke="#666" stroke-width="0.6"/>
<line x1="127.80" y1="228.30" x2="131.30" y2="228.30" stroke="#666" stroke-width="0.6"/>
<text x="126.30" y="230.68" font-size="6.6" fill="#231f20" text-anchor="end" stroke="#231f20" stroke-width="0.1">2</text>
<line x1="127.80" y1="254.70" x2="131.30" y2="254.70" stroke="#666" stroke-width="0.6"/>
<text x="126.30" y="257.08" font-size="6.6" fill="#231f20" text-anchor="end" stroke="#231f20" stroke-width="0.1">1</text>
<line x1="127.80" y1="281.10" x2="131.30" y2="281.10" stroke="#666" stroke-width="0.6"/>
<text x="126.30" y="283.48" font-size="6.6" fill="#231f20" text-anchor="end" stroke="#231f20" stroke-width="0.1">0</text>
<line x1="131.30" y1="211.60" x2="131.30" y2="220.50" stroke="#666" stroke-width="0.6"/>
<line x1="127.80" y1="211.60" x2="131.30" y2="211.60" stroke="#666" stroke-width="0.6"/>
<text x="126.30" y="213.98" font-size="6.6" fill="#231f20" text-anchor="end" stroke="#231f20" stroke-width="0.1">8</text>
<text x="118.60" y="245.00" font-size="6.6" fill="#231f20" text-anchor="middle" stroke="#231f20" stroke-width="0.1" transform="rotate(-90 118.60 245.00)">AUC, 0–1 s</text>
<rect x="135.80" y="247.80" width="5.20" height="33.30" fill="#8c8c8c"/>
<rect x="143.20" y="243.30" width="5.20" height="37.80" fill="#ee3a3f"/>
<path d="M136.8 228.5h0M136.8 230.5h0M136.8 231.9h0M137.0 233.5h0M136.6 235.4h0M136.8 237.4h0M136.9 239.3h0M136.9 240.8h0M136.8 242.7h0M136.9 244.6h0M136.8 246.1h0M136.6 247.2h0M136.4 248.7h0M136.8 250.1h0M136.5 251.9h0M136.8 253.9h0M136.8 255.3h0M136.7 256.9h0M137.0 258.4h0M136.8 260.1h0M137.0 262.0h0M136.8 263.1h0M136.6 264.9h0M136.4 266.4h0M136.6 267.6h0M136.6 268.8h0M136.7 270.8h0M137.0 272.3h0M137.0 274.0h0M136.9 275.7h0M136.8 276.8h0M136.4 278.7h0M136.5 280.7h0M136.5 282.3h0M136.8 283.8h0M137.0 284.9h0M136.7 286.4h0M136.6 288.1h0M136.8 289.5h0" stroke="#9a9a9a" stroke-width="0.70" stroke-linecap="round" stroke-opacity="0.8"/>
<path d="M144.1 228.5h0M144.1 230.2h0M144.0 231.2h0M144.0 232.2h0M144.1 233.9h0M144.3 235.8h0M144.5 236.8h0M143.9 238.7h0M144.2 240.6h0M144.5 242.0h0M144.2 243.2h0M144.3 245.1h0M144.5 246.6h0M144.3 248.4h0M144.3 249.5h0M144.0 250.9h0M144.2 251.9h0M144.2 253.0h0M144.2 254.7h0M144.2 255.9h0M144.4 257.3h0M144.5 258.8h0M144.3 260.7h0M144.0 261.9h0M144.4 263.8h0M144.1 265.4h0M144.3 266.6h0M144.3 268.1h0M144.4 269.7h0M144.0 270.9h0M144.4 272.8h0M143.9 274.7h0M144.1 275.7h0M144.3 277.1h0M144.2 278.2h0M144.0 279.2h0M144.2 280.9h0M144.1 282.5h0M144.0 283.9h0M144.3 285.3h0M143.9 287.1h0M144.4 288.2h0M144.4 289.7h0M144.2 290.9h0" stroke="#f48a8a" stroke-width="0.70" stroke-linecap="round" stroke-opacity="0.8"/>
<path d="M136.8 271.2h0M137.4 260.0h0M137.0 262.8h0M137.1 278.1h0M135.6 260.2h0M137.4 271.8h0M136.6 271.3h0M136.4 269.8h0M137.2 265.0h0M135.5 261.0h0M135.2 271.0h0M136.2 280.9h0M135.8 265.8h0M136.1 254.3h0M136.2 258.9h0M135.9 279.3h0M137.6 265.0h0M137.0 256.7h0M137.0 276.3h0M135.9 263.0h0M137.6 264.3h0M137.2 276.3h0M136.0 268.1h0M136.1 276.5h0M135.7 260.9h0M136.6 273.4h0M137.3 271.3h0M136.5 257.3h0M137.3 274.8h0M136.2 281.6h0M136.5 278.7h0M136.6 269.5h0M136.7 280.8h0M135.2 265.3h0M136.1 252.8h0M135.3 263.4h0M135.2 266.4h0M136.4 248.8h0M136.7 277.2h0M136.1 279.7h0M136.5 270.8h0M136.6 283.1h0M137.5 261.6h0M136.8 273.0h0M136.7 256.8h0M137.0 268.4h0M137.1 276.0h0M136.8 263.3h0M136.9 277.9h0M136.8 255.0h0M136.4 280.4h0M137.0 264.6h0M136.2 271.0h0M135.8 259.1h0M136.0 266.5h0M136.4 240.4h0M135.8 270.7h0M137.2 277.1h0M135.6 275.2h0M136.8 270.8h0" stroke="#a8a8a8" stroke-width="0.90" stroke-linecap="round" stroke-opacity="0.7"/>
<path d="M142.7 268.9h0M143.9 262.4h0M143.8 251.0h0M143.4 258.1h0M143.2 270.5h0M144.5 273.8h0M143.2 262.7h0M143.4 264.4h0M143.6 275.1h0M144.0 281.4h0M143.4 272.2h0M144.7 258.6h0M144.1 275.1h0M145.2 263.8h0M142.9 261.7h0M145.3 268.7h0M144.1 270.8h0M144.0 259.6h0M144.4 263.8h0M144.0 295.1h0M143.8 278.2h0M144.9 268.7h0M143.0 265.2h0M143.6 256.0h0M145.0 265.0h0M144.0 274.3h0M143.9 249.5h0M144.0 246.5h0M143.1 277.0h0M144.4 280.5h0M143.3 277.5h0M143.8 254.2h0M143.9 267.2h0M143.9 264.0h0M144.5 279.5h0M143.4 264.7h0M145.2 270.3h0M143.3 258.9h0M144.1 270.8h0M144.1 262.5h0M143.7 277.3h0M143.8 282.2h0M143.9 274.8h0M144.6 271.5h0M143.3 259.3h0M143.8 278.6h0M144.0 245.2h0M144.4 273.6h0M144.4 276.7h0M143.2 268.7h0M143.1 258.8h0M145.3 264.1h0M144.3 269.9h0M143.5 262.2h0M143.6 260.0h0M143.7 275.9h0M143.6 257.6h0M143.4 276.4h0M145.3 267.1h0M144.1 260.0h0" stroke="#f59a9a" stroke-width="0.90" stroke-linecap="round" stroke-opacity="0.7"/>
<path d="M136.2 271.9h0M137.8 250.9h0M137.5 252.5h0M137.3 271.4h0M135.9 253.8h0M137.5 267.5h0M136.9 250.8h0M137.1 251.9h0M138.0 261.3h0M137.4 262.0h0M136.2 264.8h0M136.0 275.1h0M136.5 260.7h0M137.3 248.3h0M136.3 261.1h0M135.2 274.1h0M136.7 269.8h0M136.7 258.8h0M136.6 259.2h0M136.6 260.4h0M137.1 264.8h0M135.7 268.2h0M136.9 253.1h0M135.5 266.1h0M136.5 259.5h0" stroke="#c8c8c8" stroke-width="0.80" stroke-linecap="round" stroke-opacity="0.7"/>
<path d="M144.2 270.3h0M143.3 280.6h0M144.1 274.9h0M145.0 250.8h0M143.9 250.8h0M144.2 246.4h0M145.0 269.7h0M144.7 255.7h0M144.0 260.8h0M144.5 248.0h0M144.1 277.5h0M143.5 263.8h0M143.9 253.3h0M145.3 277.7h0M144.1 266.0h0M144.4 247.9h0M143.8 277.2h0M143.2 252.4h0M143.7 250.3h0M144.3 264.0h0M144.3 250.1h0M145.0 280.6h0M143.9 254.9h0M144.2 268.7h0M143.6 265.7h0" stroke="#f8a0a0" stroke-width="0.80" stroke-linecap="round" stroke-opacity="0.7"/>
<line x1="138.80" y1="244.30" x2="138.80" y2="251.30" stroke="#111" stroke-width="0.9"/>
<line x1="146.20" y1="240.50" x2="146.20" y2="246.10" stroke="#111" stroke-width="0.9"/>
<rect x="155.70" y="259.00" width="5.20" height="22.10" fill="#8c8c8c"/>
<rect x="164.50" y="258.00" width="5.20" height="23.10" fill="#ee3a3f"/>
<path d="M156.8 228.5h0M156.4 229.6h0M156.4 231.1h0M156.6 232.6h0M156.6 233.8h0M156.6 235.1h0M156.7 236.5h0M156.7 237.6h0M156.9 238.8h0M156.6 240.5h0M156.7 242.0h0M156.8 243.7h0M156.6 245.6h0M156.8 247.7h0M156.5 249.6h0M156.6 251.1h0M156.6 253.1h0M156.6 254.7h0M156.5 256.7h0M156.7 257.8h0M156.7 259.8h0M156.8 261.5h0M156.7 262.9h0M156.4 264.0h0M156.6 265.5h0M156.3 267.0h0M156.6 268.8h0M156.5 270.1h0M156.4 271.5h0M156.8 272.7h0M156.7 274.7h0M156.6 276.7h0M156.4 278.6h0M156.6 280.4h0M156.4 282.4h0M156.4 284.3h0M156.9 285.9h0M156.4 287.0h0M156.5 288.3h0M156.8 289.4h0" stroke="#9a9a9a" stroke-width="0.70" stroke-linecap="round" stroke-opacity="0.8"/>
<path d="M165.4 228.5h0M165.6 229.8h0M165.2 230.9h0M165.4 232.7h0M165.8 234.2h0M165.5 236.1h0M165.4 237.3h0M165.7 239.2h0M165.7 240.4h0M165.5 241.7h0M165.7 242.8h0M165.3 244.8h0M165.3 246.4h0M165.2 248.2h0M165.6 249.3h0M165.7 250.6h0M165.6 252.4h0M165.6 253.5h0M165.5 255.4h0M165.3 256.5h0M165.6 257.8h0M165.3 259.0h0M165.6 260.2h0M165.4 261.9h0M165.7 263.6h0M165.3 265.1h0M165.8 266.4h0M165.4 268.0h0M165.3 269.6h0M165.5 271.6h0M165.5 273.1h0M165.6 274.1h0M165.4 275.4h0M165.3 277.1h0M165.7 278.4h0M165.4 279.6h0M165.3 281.1h0M165.8 283.0h0M165.5 284.0h0M165.4 285.7h0M165.5 287.6h0M165.5 288.7h0M165.4 290.4h0" stroke="#f48a8a" stroke-width="0.70" stroke-linecap="round" stroke-opacity="0.8"/>
<path d="M156.3 270.2h0M156.8 257.4h0M157.5 263.6h0M155.8 258.0h0M156.6 269.0h0M155.6 262.7h0M156.5 253.6h0M157.0 273.7h0M155.5 268.9h0M156.4 278.4h0M156.6 265.6h0M156.9 268.0h0M156.1 251.6h0M155.6 259.9h0M156.2 278.5h0M156.1 269.2h0M155.0 266.7h0M156.5 284.1h0M156.8 257.8h0M155.6 263.3h0M155.1 272.7h0M155.9 274.2h0M155.8 260.0h0M156.5 260.4h0M156.0 282.2h0M155.8 276.8h0M157.0 275.4h0M156.7 279.6h0M156.0 276.6h0M155.5 271.5h0M156.3 270.6h0M157.1 267.5h0M156.2 273.0h0M157.0 267.6h0M157.2 274.5h0M155.2 269.6h0M156.1 262.1h0M155.2 272.7h0M156.3 297.3h0M156.8 274.4h0M156.5 268.9h0M155.7 274.8h0M156.3 247.7h0M155.9 273.0h0M155.8 280.3h0M156.0 266.5h0M155.8 266.2h0M156.9 265.5h0M157.1 275.9h0M156.2 258.9h0M156.2 254.5h0M156.7 278.8h0M155.4 269.8h0M156.4 276.1h0M155.5 271.1h0M156.2 273.2h0M157.7 264.5h0M156.6 277.1h0M156.0 272.0h0M155.2 263.4h0" stroke="#a8a8a8" stroke-width="0.90" stroke-linecap="round" stroke-opacity="0.7"/>
<path d="M164.7 264.9h0M164.3 260.0h0M165.0 270.9h0M166.3 274.4h0M164.9 266.5h0M164.5 261.1h0M165.8 275.8h0M165.9 264.7h0M164.8 269.5h0M165.0 267.0h0M165.2 284.1h0M165.8 277.3h0M165.0 265.0h0M164.5 267.6h0M165.5 273.0h0M163.9 269.3h0M165.4 264.4h0M164.6 276.7h0M166.0 266.1h0M165.7 261.3h0M164.7 271.7h0M165.9 272.9h0M166.1 260.6h0M164.6 273.0h0M164.5 265.8h0M164.4 276.0h0M165.4 280.5h0M166.2 269.9h0M165.7 275.5h0M166.5 266.8h0M165.8 270.9h0M165.7 281.5h0M165.7 272.5h0M164.2 263.2h0M164.4 259.9h0M165.0 271.9h0M164.7 263.0h0M164.7 277.3h0M164.7 259.6h0M165.7 273.9h0M164.8 268.3h0M165.1 272.0h0M165.7 274.9h0M165.4 277.7h0M165.0 267.4h0M164.9 266.2h0M164.4 276.5h0M165.3 271.5h0M165.0 259.3h0M164.7 262.8h0M166.1 276.2h0M165.5 269.2h0M164.4 267.0h0M165.3 281.3h0M165.2 251.2h0M165.4 253.2h0M165.4 282.5h0M165.6 262.5h0M164.8 260.1h0M166.1 273.0h0" stroke="#f59a9a" stroke-width="0.90" stroke-linecap="round" stroke-opacity="0.7"/>
<path d="M155.7 278.4h0M157.6 259.8h0M156.2 262.0h0M156.7 267.0h0M156.9 280.6h0M157.0 264.0h0M156.7 274.0h0M156.7 271.0h0M156.7 267.7h0M157.4 273.4h0M156.2 271.1h0M156.2 277.4h0M156.4 280.4h0M157.2 278.6h0M156.5 265.9h0M155.8 274.2h0M156.9 280.3h0M156.4 272.7h0M156.2 269.8h0M156.5 265.3h0M156.3 275.6h0M156.6 264.5h0M157.0 266.2h0M157.3 261.8h0M157.0 260.4h0" stroke="#c8c8c8" stroke-width="0.80" stroke-linecap="round" stroke-opacity="0.7"/>
<path d="M165.6 274.3h0M164.5 260.6h0M165.8 269.1h0M166.3 261.8h0M164.6 259.2h0M164.4 263.9h0M165.4 267.1h0M165.5 274.5h0M166.5 265.6h0M165.6 265.7h0M164.3 277.1h0M164.7 271.1h0M165.9 272.4h0M165.6 277.2h0M165.2 266.7h0M165.5 273.5h0M165.9 258.3h0M167.0 271.5h0M164.9 261.1h0M164.8 273.9h0M165.9 267.2h0M165.7 279.6h0M165.5 274.5h0M166.0 260.7h0M165.6 274.9h0" stroke="#f8a0a0" stroke-width="0.80" stroke-linecap="round" stroke-opacity="0.7"/>
<line x1="158.70" y1="255.50" x2="158.70" y2="262.50" stroke="#111" stroke-width="0.9"/>
<line x1="167.50" y1="255.20" x2="167.50" y2="260.80" stroke="#111" stroke-width="0.9"/>
<rect x="176.00" y="248.60" width="5.20" height="32.50" fill="#8c8c8c"/>
<rect x="184.00" y="254.00" width="5.20" height="27.10" fill="#ee3a3f"/>
<path d="M177.2 228.5h0M176.8 229.7h0M176.9 230.8h0M176.8 232.3h0M177.1 233.7h0M176.8 235.6h0M177.0 237.1h0M177.2 238.9h0M177.0 240.4h0M177.1 242.0h0M176.7 243.2h0M177.2 244.4h0M176.9 245.7h0M176.8 246.9h0M176.9 247.9h0M177.0 249.1h0M176.7 250.5h0M176.8 252.0h0M176.6 253.4h0M177.1 254.5h0M176.6 255.9h0M176.9 257.1h0M176.7 259.2h0M176.9 261.1h0M177.1 262.6h0M176.6 264.1h0M177.0 265.7h0M176.8 267.4h0M177.1 269.5h0M176.9 271.6h0M177.0 273.5h0M176.6 274.7h0M176.7 276.0h0M176.8 277.1h0M176.8 278.9h0M176.6 280.5h0M177.2 281.8h0M176.9 282.8h0M177.1 284.7h0M176.8 286.6h0M177.1 288.5h0M177.2 290.3h0" stroke="#9a9a9a" stroke-width="0.70" stroke-linecap="round" stroke-opacity="0.8"/>
<path d="M185.3 228.5h0M185.1 229.9h0M185.2 231.1h0M185.0 232.1h0M184.9 233.3h0M185.1 234.6h0M184.9 236.4h0M184.9 238.0h0M185.2 239.3h0M184.8 240.6h0M185.1 241.9h0M185.1 243.1h0M185.1 244.6h0M184.8 245.7h0M184.9 246.9h0M184.7 248.3h0M184.9 249.7h0M185.0 251.0h0M184.8 252.9h0M184.9 254.8h0M184.8 256.5h0M185.0 258.5h0M184.8 260.4h0M185.1 261.8h0M184.9 262.9h0M185.3 264.6h0M184.8 265.9h0M185.3 267.2h0M185.1 268.3h0M185.1 269.7h0M185.1 270.8h0M185.2 272.7h0M185.0 274.3h0M184.8 275.8h0M185.1 277.6h0M185.1 279.1h0M184.9 280.4h0M185.1 281.6h0M185.0 283.2h0M185.1 284.2h0M185.1 285.6h0M185.3 287.2h0M185.0 288.3h0M185.1 290.3h0" stroke="#f48a8a" stroke-width="0.70" stroke-linecap="round" stroke-opacity="0.8"/>
<path d="M176.3 265.7h0M176.6 240.9h0M176.6 287.1h0M176.5 287.5h0M177.6 275.0h0M177.1 257.0h0M178.0 271.2h0M175.9 257.7h0M176.2 277.7h0M177.1 257.7h0M177.1 257.3h0M175.7 271.2h0M175.4 265.6h0M176.7 280.7h0M175.9 270.4h0M177.1 257.8h0M176.7 277.5h0M177.1 255.8h0M176.2 269.5h0M175.6 263.1h0M177.3 276.1h0M177.6 269.9h0M176.3 272.2h0M177.6 271.8h0M176.2 253.6h0M177.1 255.0h0M177.7 271.4h0M176.9 280.2h0M176.4 272.4h0M176.1 280.6h0M176.9 263.8h0M176.1 274.6h0M176.1 256.9h0M175.9 259.6h0M175.6 264.5h0M175.9 258.5h0M176.4 279.5h0M175.8 263.5h0M176.8 281.8h0M176.2 267.6h0M175.6 264.6h0M176.9 276.6h0M176.5 253.2h0M176.5 275.6h0M176.6 246.6h0M177.2 267.1h0M176.0 269.1h0M177.1 279.8h0M177.1 264.0h0M176.6 285.2h0M177.1 276.2h0M176.9 264.4h0M176.4 264.9h0M175.9 269.0h0M176.6 247.2h0M177.0 276.1h0M176.4 264.8h0M175.7 262.0h0M176.4 273.4h0M176.2 263.8h0" stroke="#a8a8a8" stroke-width="0.90" stroke-linecap="round" stroke-opacity="0.7"/>
<path d="M185.0 275.5h0M184.8 252.2h0M184.5 283.5h0M184.6 279.2h0M185.1 257.8h0M184.6 278.2h0M184.6 285.6h0M184.9 254.8h0M184.7 259.6h0M184.3 269.6h0M185.9 262.1h0M185.5 257.2h0M185.4 277.0h0M185.2 267.6h0M184.1 258.5h0M184.8 238.2h0M184.4 257.3h0M185.8 275.6h0M183.8 270.2h0M184.6 276.4h0M183.8 267.8h0M185.2 264.2h0M184.4 257.4h0M185.3 257.7h0M183.7 266.1h0M184.8 252.5h0M185.0 285.7h0M186.0 269.8h0M184.9 276.3h0M184.9 269.3h0M184.6 280.2h0M184.8 278.2h0M184.1 276.3h0M184.0 276.2h0M185.4 260.5h0M184.0 267.4h0M184.0 265.4h0M184.7 269.5h0M185.4 258.7h0M183.7 264.4h0M186.1 271.1h0M184.9 263.8h0M185.4 257.7h0M185.8 274.9h0M183.8 266.9h0M185.8 268.7h0M183.8 266.6h0M184.8 253.9h0M184.3 272.3h0M186.2 268.8h0M184.1 257.1h0M184.7 254.3h0M183.9 274.2h0M186.0 271.3h0M185.2 263.0h0M185.5 277.2h0M184.8 279.0h0M185.9 264.2h0M185.4 262.0h0M184.2 272.7h0" stroke="#f59a9a" stroke-width="0.90" stroke-linecap="round" stroke-opacity="0.7"/>
<path d="M176.4 260.6h0M177.3 260.3h0M176.8 262.6h0M177.1 275.8h0M176.3 250.6h0M176.9 261.6h0M177.5 255.8h0M177.3 258.8h0M177.1 264.3h0M178.0 264.4h0M175.7 248.9h0M177.9 248.8h0M177.6 267.9h0M176.9 268.0h0M176.7 260.6h0M177.8 267.8h0M176.3 258.8h0M177.0 273.1h0M177.4 250.3h0M177.3 257.4h0M175.9 274.5h0M177.5 261.7h0M176.9 257.9h0M176.8 280.6h0M176.8 275.6h0" stroke="#c8c8c8" stroke-width="0.80" stroke-linecap="round" stroke-opacity="0.7"/>
<path d="M185.5 276.2h0M184.9 275.4h0M184.8 274.7h0M184.5 255.3h0M184.5 279.1h0M186.4 271.3h0M185.2 274.4h0M186.0 269.7h0M185.0 265.3h0M186.3 272.4h0M184.9 256.0h0M184.1 275.2h0M185.4 264.2h0M184.7 266.1h0M185.1 262.7h0M185.3 273.9h0M185.1 276.6h0M184.7 272.1h0M184.9 257.2h0M185.7 262.4h0M184.8 279.0h0M184.4 259.7h0M185.4 276.7h0M185.5 257.3h0M184.5 254.9h0" stroke="#f8a0a0" stroke-width="0.80" stroke-linecap="round" stroke-opacity="0.7"/>
<line x1="179.00" y1="245.10" x2="179.00" y2="252.10" stroke="#111" stroke-width="0.9"/>
<line x1="187.00" y1="251.20" x2="187.00" y2="256.80" stroke="#111" stroke-width="0.9"/>
<rect x="196.40" y="255.30" width="5.20" height="25.80" fill="#8c8c8c"/>
<rect x="205.00" y="258.00" width="5.20" height="23.10" fill="#ee3a3f"/>
<path d="M197.3 228.5h0M197.4 229.9h0M197.3 232.0h0M197.2 233.7h0M197.1 235.6h0M197.1 237.4h0M197.1 239.1h0M197.1 240.5h0M197.4 241.9h0M197.2 243.5h0M197.5 245.2h0M197.4 246.6h0M197.6 248.2h0M197.4 249.6h0M197.2 250.9h0M197.3 252.7h0M197.0 254.0h0M197.2 255.9h0M197.3 257.7h0M197.3 259.4h0M197.5 261.5h0M197.3 263.0h0M197.5 264.3h0M197.2 265.5h0M197.0 267.4h0M197.3 269.2h0M197.2 270.8h0M197.6 272.0h0M197.5 273.9h0M197.5 275.0h0M197.1 276.3h0M197.4 277.9h0M197.5 279.1h0M197.5 280.8h0M197.4 282.8h0M197.6 284.2h0M197.2 286.0h0M197.4 288.0h0M197.1 289.3h0M197.3 290.4h0" stroke="#9a9a9a" stroke-width="0.70" stroke-linecap="round" stroke-opacity="0.8"/>
<path d="M205.9 228.5h0M205.8 229.7h0M205.9 231.2h0M205.9 232.4h0M206.2 233.9h0M206.2 235.1h0M206.1 236.9h0M206.1 238.4h0M206.1 239.9h0M206.2 241.8h0M205.7 243.0h0M205.9 244.9h0M205.8 246.7h0M205.9 248.1h0M206.3 249.8h0M206.0 251.3h0M205.8 252.6h0M205.8 254.5h0M206.1 256.4h0M206.2 257.4h0M206.0 258.5h0M206.3 259.6h0M206.2 260.9h0M206.1 261.9h0M205.7 263.0h0M206.3 264.5h0M206.2 266.2h0M206.0 267.9h0M206.0 269.0h0M206.0 270.1h0M206.0 271.5h0M206.1 272.6h0M206.0 274.0h0M206.0 275.1h0M206.3 276.6h0M205.8 278.1h0M205.9 279.4h0M206.3 281.1h0M206.3 283.0h0M206.2 284.9h0M205.7 286.8h0M206.1 288.3h0M206.1 289.9h0" stroke="#f48a8a" stroke-width="0.70" stroke-linecap="round" stroke-opacity="0.8"/>
<path d="M197.1 271.5h0M198.4 266.4h0M198.0 272.3h0M198.4 268.9h0M198.0 270.3h0M197.6 268.3h0M197.3 256.2h0M197.9 266.5h0M197.8 271.4h0M198.4 268.0h0M196.6 272.6h0M196.7 260.0h0M196.8 283.4h0M197.3 269.4h0M197.4 260.0h0M196.9 266.7h0M196.0 269.8h0M196.9 286.5h0M197.9 267.8h0M196.7 278.3h0M196.3 269.0h0M197.0 281.1h0M196.1 267.4h0M196.9 286.4h0M197.7 265.4h0M197.4 275.6h0M195.8 270.8h0M197.4 257.1h0M196.7 268.2h0M198.1 274.3h0M198.0 262.2h0M198.2 274.1h0M197.8 264.3h0M197.8 271.2h0M196.8 259.6h0M196.8 281.5h0M197.0 255.7h0M197.6 259.8h0M196.8 278.5h0M195.7 268.9h0M196.2 272.3h0M198.1 265.4h0M197.0 288.2h0M198.1 262.9h0M197.8 277.0h0M196.6 279.1h0M197.7 276.9h0M197.4 278.2h0M196.8 277.4h0M195.9 264.9h0M195.8 264.9h0M196.9 289.1h0M196.4 266.4h0M196.1 270.3h0M197.1 275.9h0M197.1 275.7h0M198.3 268.8h0M196.4 257.0h0M196.4 268.6h0M197.7 271.5h0" stroke="#a8a8a8" stroke-width="0.90" stroke-linecap="round" stroke-opacity="0.7"/>
<path d="M205.2 277.5h0M205.4 263.1h0M206.5 261.2h0M207.1 264.9h0M206.2 256.2h0M205.7 271.1h0M206.8 275.9h0M205.7 288.1h0M204.5 268.7h0M205.2 258.9h0M205.2 274.8h0M205.3 281.0h0M205.8 271.0h0M205.9 283.8h0M204.6 262.4h0M205.2 269.2h0M206.1 274.8h0M205.4 269.8h0M205.6 255.6h0M205.4 270.1h0M205.6 276.8h0M205.9 260.1h0M206.6 260.2h0M205.0 270.0h0M206.0 284.2h0M205.0 261.1h0M205.8 242.0h0M204.8 266.6h0M206.0 266.9h0M205.0 261.5h0M204.9 275.0h0M206.3 265.6h0M205.8 261.4h0M206.5 277.4h0M204.9 259.3h0M205.8 267.2h0M206.2 266.6h0M205.8 279.7h0M205.8 276.9h0M206.1 273.7h0M205.7 275.2h0M204.6 266.6h0M206.8 270.0h0M206.5 261.7h0M205.8 267.4h0M205.8 287.4h0M205.8 247.6h0M205.8 260.6h0M205.8 263.6h0M205.7 284.7h0M206.8 270.1h0M206.5 273.9h0M205.8 287.9h0M206.7 265.3h0M206.6 264.1h0M205.6 252.1h0M205.1 271.0h0M206.7 261.0h0M205.6 278.7h0M206.7 269.5h0" stroke="#f59a9a" stroke-width="0.90" stroke-linecap="round" stroke-opacity="0.7"/>
<path d="M198.6 271.1h0M196.7 271.9h0M197.3 257.0h0M197.1 280.6h0M197.3 277.8h0M197.8 273.2h0M198.2 274.9h0M197.3 258.5h0M198.5 274.0h0M197.8 275.1h0M197.9 275.6h0M196.8 279.6h0M196.8 271.8h0M197.4 264.4h0M198.0 255.9h0M198.3 261.2h0M197.5 272.2h0M196.5 268.6h0M197.3 263.5h0M197.8 272.0h0M197.9 273.0h0M197.2 279.2h0M197.0 278.8h0M198.8 271.3h0M197.5 280.1h0" stroke="#c8c8c8" stroke-width="0.80" stroke-linecap="round" stroke-opacity="0.7"/>
<path d="M205.5 264.5h0M205.8 270.1h0M206.0 277.9h0M205.0 270.4h0M206.2 263.8h0M205.6 262.6h0M205.8 265.6h0M206.5 259.6h0M206.2 270.2h0M205.6 279.9h0M205.5 267.4h0M204.5 263.4h0M206.2 260.8h0M205.6 268.0h0M205.1 270.8h0M207.2 272.8h0M205.5 263.8h0M206.7 270.5h0M206.0 262.4h0M206.3 275.7h0M206.1 270.7h0M205.8 264.3h0M205.1 265.4h0M205.4 275.7h0M205.2 268.5h0" stroke="#f8a0a0" stroke-width="0.80" stroke-linecap="round" stroke-opacity="0.7"/>
<line x1="199.40" y1="251.80" x2="199.40" y2="258.80" stroke="#111" stroke-width="0.9"/>
<line x1="208.00" y1="255.20" x2="208.00" y2="260.80" stroke="#111" stroke-width="0.9"/>
<rect x="216.40" y="242.50" width="5.20" height="38.60" fill="#8c8c8c"/>
<rect x="223.80" y="261.00" width="5.20" height="20.10" fill="#ee3a3f"/>
<path d="M217.3 228.5h0M217.3 229.7h0M217.5 231.7h0M217.0 232.8h0M217.4 234.2h0M217.1 235.7h0M217.3 237.2h0M217.2 239.0h0M217.4 240.7h0M217.0 242.4h0M217.1 244.2h0M217.3 245.3h0M217.0 246.4h0M217.3 247.9h0M217.6 249.0h0M217.3 251.0h0M217.2 252.6h0M217.1 254.7h0M217.1 256.1h0M217.3 258.0h0M217.2 259.5h0M217.2 261.5h0M217.4 263.4h0M217.2 264.9h0M217.3 266.4h0M217.4 267.8h0M217.2 269.3h0M217.3 271.1h0M217.5 272.7h0M217.2 274.2h0M217.6 276.2h0M217.2 278.1h0M217.4 279.8h0M217.4 281.2h0M217.4 283.2h0M217.3 285.0h0M217.1 286.7h0M217.3 288.6h0M217.2 290.7h0" stroke="#9a9a9a" stroke-width="0.70" stroke-linecap="round" stroke-opacity="0.8"/>
<path d="M224.5 228.5h0M225.0 229.9h0M224.9 231.1h0M224.7 232.3h0M224.6 234.3h0M224.5 236.1h0M225.0 237.7h0M224.7 239.5h0M224.9 241.1h0M224.9 242.8h0M224.7 244.3h0M224.8 246.0h0M225.1 247.5h0M225.0 248.6h0M224.9 249.9h0M224.7 251.8h0M224.8 253.4h0M224.6 254.8h0M225.0 256.4h0M224.7 258.1h0M224.8 259.8h0M224.9 261.0h0M224.8 262.4h0M224.8 264.3h0M224.7 266.3h0M224.5 268.0h0M224.9 269.3h0M225.0 270.9h0M224.7 272.3h0M224.8 273.6h0M224.7 274.6h0M224.6 276.2h0M225.0 277.5h0M224.6 279.4h0M224.6 280.6h0M225.0 281.6h0M224.7 283.3h0M224.9 284.8h0M225.0 285.8h0M224.6 287.6h0M224.9 289.3h0M225.0 290.6h0" stroke="#f48a8a" stroke-width="0.70" stroke-linecap="round" stroke-opacity="0.8"/>
<path d="M216.9 260.3h0M217.9 269.3h0M217.7 256.8h0M216.3 262.7h0M216.0 270.1h0M217.5 280.3h0M216.8 262.7h0M217.7 276.1h0M216.6 279.7h0M216.7 261.1h0M218.1 266.3h0M217.9 262.0h0M216.2 269.3h0M217.4 276.5h0M216.6 281.3h0M217.9 272.0h0M216.5 256.5h0M215.7 264.8h0M217.1 252.3h0M217.1 288.8h0M215.7 271.9h0M217.6 269.6h0M217.5 271.2h0M217.5 274.4h0M216.4 263.6h0M217.1 277.1h0M216.4 262.8h0M216.5 274.7h0M216.4 267.9h0M217.3 269.6h0M218.0 267.5h0M216.9 272.4h0M217.8 260.2h0M217.8 267.4h0M217.3 258.5h0M217.0 258.8h0M217.0 260.4h0M216.9 272.6h0M217.4 257.1h0M218.1 266.0h0M216.4 268.3h0M215.6 269.9h0M216.4 271.6h0M216.6 256.0h0M217.2 279.6h0M217.2 255.4h0M216.7 267.7h0M217.1 258.1h0M217.1 288.3h0M217.1 249.1h0M218.1 274.1h0M217.1 271.1h0M217.8 260.3h0M217.1 267.3h0M218.4 271.6h0M215.5 267.8h0M217.4 273.3h0M216.1 275.2h0M217.0 248.3h0M217.5 259.9h0" stroke="#a8a8a8" stroke-width="0.90" stroke-linecap="round" stroke-opacity="0.7"/>
<path d="M224.1 258.0h0M224.5 261.5h0M224.2 278.9h0M224.5 260.1h0M224.8 260.1h0M225.0 265.8h0M225.0 274.3h0M223.7 268.7h0M224.4 281.7h0M225.6 274.7h0M225.0 264.1h0M223.9 266.5h0M225.2 273.7h0M224.2 254.7h0M224.4 283.7h0M223.8 271.4h0M224.5 273.3h0M226.0 269.0h0M225.5 265.0h0M223.9 274.3h0M225.5 259.8h0M223.8 258.7h0M225.2 259.8h0M223.9 264.6h0M224.6 266.7h0M225.8 262.4h0M225.9 268.5h0M225.0 275.3h0M223.9 273.3h0M224.0 270.3h0M225.6 275.8h0M224.8 256.4h0M225.1 261.9h0M224.6 261.6h0M224.4 277.8h0M224.7 271.8h0M226.0 270.0h0M224.2 268.6h0M224.9 265.5h0M225.7 272.5h0M224.6 272.5h0M225.1 277.6h0M223.9 261.9h0M225.2 265.4h0M224.3 283.9h0M224.0 276.5h0M224.7 251.0h0M225.3 271.5h0M223.3 269.0h0M224.9 253.6h0M223.3 271.2h0M223.3 272.3h0M223.6 274.3h0M223.5 261.8h0M225.5 275.0h0M223.9 258.0h0M223.8 273.6h0M223.6 272.8h0M223.7 271.9h0M224.2 280.3h0" stroke="#f59a9a" stroke-width="0.90" stroke-linecap="round" stroke-opacity="0.7"/>
<path d="M217.2 263.2h0M217.6 264.4h0M216.9 262.1h0M217.8 244.0h0M217.6 266.2h0M217.9 242.9h0M216.9 276.8h0M217.1 263.4h0M217.8 278.8h0M217.8 269.8h0M217.0 256.9h0M216.1 244.1h0M217.1 253.5h0M218.4 272.8h0M217.7 269.5h0M217.2 257.7h0M217.4 275.4h0M217.1 280.3h0M217.8 271.1h0M217.0 265.9h0M218.0 279.5h0M216.9 276.9h0M217.9 281.1h0M216.7 279.6h0M216.8 248.0h0" stroke="#c8c8c8" stroke-width="0.80" stroke-linecap="round" stroke-opacity="0.7"/>
<path d="M225.2 263.6h0M225.6 276.7h0M225.1 266.6h0M224.5 267.5h0M224.6 270.0h0M225.3 278.2h0M224.8 268.3h0M225.2 274.9h0M225.9 265.0h0M224.8 272.2h0M224.8 261.0h0M224.6 261.0h0M225.2 280.9h0M225.7 273.8h0M225.2 265.7h0M224.6 270.7h0M223.6 279.8h0M224.6 269.5h0M225.4 267.3h0M223.9 275.9h0M225.0 264.1h0M225.2 276.7h0M224.7 273.4h0M225.4 264.3h0M224.9 264.7h0" stroke="#f8a0a0" stroke-width="0.80" stroke-linecap="round" stroke-opacity="0.7"/>
<line x1="219.40" y1="239.00" x2="219.40" y2="246.00" stroke="#111" stroke-width="0.9"/>
<line x1="226.80" y1="258.20" x2="226.80" y2="263.80" stroke="#111" stroke-width="0.9"/>
<rect x="139.90" y="291.50" width="4.00" height="4.00" fill="#1a1a1a"/>
<rect x="159.70" y="291.50" width="4.00" height="4.00" fill="#d2d82a"/>
<rect x="179.80" y="291.50" width="4.00" height="4.00" fill="#f7a540"/>
<rect x="199.70" y="291.50" width="4.00" height="4.00" fill="#ee5a24"/>
<rect x="220.00" y="291.50" width="4.00" height="4.00" fill="#b81c2e"/>
<polygon points="136.50,220.00 139.50,220.00 138.00,218.60" fill="#9a9a9a"/>
<polygon points="143.20,220.00 148.00,220.00 145.60,214.50" fill="#f4a0a0"/>
<polygon points="176.00,220.00 180.40,220.00 178.20,215.50" fill="#9a9a9a"/>
<polygon points="216.00,220.00 220.40,220.00 218.20,215.80" fill="#9a9a9a"/>
<line x1="157.80" y1="217.00" x2="157.80" y2="220.00" stroke="#f4a0a0" stroke-width="0.7"/>
<line x1="166.20" y1="217.00" x2="166.20" y2="220.00" stroke="#f4a0a0" stroke-width="0.7"/>
<line x1="186.20" y1="217.00" x2="186.20" y2="220.00" stroke="#f4a0a0" stroke-width="0.7"/>
<line x1="206.50" y1="217.00" x2="206.50" y2="220.00" stroke="#f4a0a0" stroke-width="0.7"/>
<line x1="226.00" y1="217.00" x2="226.00" y2="220.00" stroke="#f4a0a0" stroke-width="0.7"/>
<line x1="158.00" y1="217.00" x2="158.00" y2="220.00" stroke="#aaa" stroke-width="0.7"/>
<polygon points="145.90,184.70 146.52,185.95 147.90,186.15 146.90,187.12 147.13,188.50 145.90,187.85 144.67,188.50 144.90,187.12 143.90,186.15 145.28,185.95" fill="#111"/>
<line x1="146.00" y1="191.30" x2="166.00" y2="191.30" stroke="#444" stroke-width="0.7"/>
<line x1="146.00" y1="193.10" x2="185.80" y2="193.10" stroke="#8a8a8a" stroke-width="1.6"/>
<line x1="146.00" y1="194.80" x2="205.70" y2="194.80" stroke="#8a8a8a" stroke-width="1.6"/>
<line x1="146.00" y1="196.50" x2="226.20" y2="196.50" stroke="#555" stroke-width="0.7"/>
<polygon points="137.90,197.70 138.52,198.95 139.90,199.15 138.90,200.12 139.13,201.50 137.90,200.85 136.67,201.50 136.90,200.12 135.90,199.15 137.28,198.95" fill="#111"/>
<line x1="138.00" y1="203.40" x2="158.00" y2="203.40" stroke="#333" stroke-width="0.75"/>
<polygon points="218.80,197.70 219.42,198.95 220.80,199.15 219.80,200.12 220.03,201.50 218.80,200.85 217.57,201.50 217.80,200.12 216.80,199.15 218.18,198.95" fill="#111"/>
<line x1="219.00" y1="203.40" x2="226.20" y2="203.40" stroke="#333" stroke-width="0.75"/>
<line x1="131.30" y1="376.40" x2="229.00" y2="376.40" stroke="#444" stroke-width="0.6" stroke-dasharray="0.7,0.9"/>
<line x1="131.30" y1="347.60" x2="131.30" y2="405.20" stroke="#666" stroke-width="0.6"/>
<line x1="127.80" y1="347.60" x2="131.30" y2="347.60" stroke="#666" stroke-width="0.6"/>
<text x="126.30" y="349.98" font-size="6.6" fill="#231f20" text-anchor="end" stroke="#231f20" stroke-width="0.1">1</text>
<line x1="127.80" y1="376.40" x2="131.30" y2="376.40" stroke="#666" stroke-width="0.6"/>
<text x="126.30" y="378.78" font-size="6.6" fill="#231f20" text-anchor="end" stroke="#231f20" stroke-width="0.1">0</text>
<line x1="127.80" y1="405.20" x2="131.30" y2="405.20" stroke="#666" stroke-width="0.6"/>
<text x="126.30" y="407.58" font-size="6.6" fill="#231f20" text-anchor="end" stroke="#231f20" stroke-width="0.1">−1</text>
<line x1="131.30" y1="411.80" x2="131.30" y2="417.90" stroke="#666" stroke-width="0.6"/>
<line x1="127.80" y1="417.90" x2="131.30" y2="417.90" stroke="#666" stroke-width="0.6"/>
<text x="126.30" y="420.28" font-size="6.6" fill="#231f20" text-anchor="end" stroke="#231f20" stroke-width="0.1">−3</text>
<text x="115.20" y="383.00" font-size="6.6" fill="#231f20" text-anchor="middle" stroke="#231f20" stroke-width="0.1" transform="rotate(-90 115.20 383.00)">AUC, 0–1 s</text>
<rect x="135.80" y="376.40" width="5.20" height="26.00" fill="#8c8c8c"/>
<rect x="143.20" y="376.40" width="5.20" height="24.20" fill="#ee3a3f"/>
<path d="M136.8 347.0h0M136.8 348.8h0M136.4 351.0h0M136.4 352.2h0M136.9 353.8h0M136.7 355.7h0M136.6 357.8h0M136.8 359.0h0M136.5 360.2h0M136.5 361.3h0M136.7 362.5h0M136.8 363.8h0M136.6 365.8h0M136.8 367.1h0M136.9 369.0h0M136.7 370.8h0M136.8 372.9h0M136.6 375.1h0M136.8 377.1h0M136.4 378.7h0M136.6 380.4h0M136.7 382.2h0M136.4 383.8h0M136.8 385.1h0M137.0 387.0h0M136.6 389.0h0M136.7 390.6h0M136.6 392.7h0M136.7 394.8h0M136.7 396.4h0M137.0 397.9h0M136.6 399.1h0M136.8 400.3h0M136.5 401.6h0M136.8 403.2h0M136.7 405.1h0M136.6 406.6h0M136.5 408.7h0M136.9 409.8h0" stroke="#a8a8a8" stroke-width="0.70" stroke-linecap="round" stroke-opacity="0.75"/>
<path d="M144.0 347.0h0M144.4 348.1h0M143.9 349.8h0M144.0 351.5h0M144.3 352.9h0M144.5 353.9h0M144.0 355.2h0M144.0 357.0h0M144.3 358.0h0M144.4 359.4h0M144.0 361.2h0M144.3 362.2h0M144.1 363.6h0M144.0 365.5h0M143.9 367.1h0M144.5 369.0h0M144.1 370.6h0M144.4 372.3h0M143.9 374.1h0M144.0 375.5h0M144.5 377.0h0M144.0 378.9h0M144.1 380.4h0M144.3 381.5h0M144.1 383.3h0M144.3 384.7h0M144.2 386.3h0M144.0 387.4h0M144.4 388.6h0M144.3 390.1h0M144.1 391.4h0M144.5 392.5h0M144.0 394.1h0M144.3 395.8h0M144.4 397.4h0M144.4 398.9h0M144.1 400.9h0M144.1 402.5h0M144.1 403.9h0M144.1 405.5h0M144.4 406.8h0M144.3 408.6h0" stroke="#f48a8a" stroke-width="0.70" stroke-linecap="round" stroke-opacity="0.8"/>
<path d="M135.9 363.3h0M135.9 379.5h0M136.8 383.6h0M135.9 380.5h0M135.2 369.1h0M136.7 374.8h0M135.6 374.6h0M137.1 369.9h0M135.9 374.5h0M136.3 388.2h0M136.1 374.0h0M135.8 378.3h0M136.7 371.7h0M137.2 370.0h0M135.1 369.6h0M135.2 376.6h0M134.8 374.8h0M136.2 361.5h0M135.1 366.3h0M136.1 367.9h0M136.2 359.0h0M136.4 389.0h0M135.5 379.1h0M136.9 364.3h0M135.6 380.6h0M135.3 377.5h0M137.7 368.1h0M136.5 374.5h0M136.4 388.0h0M136.4 359.9h0M136.4 358.3h0M135.3 374.3h0M136.3 363.9h0M137.0 370.4h0M137.1 368.1h0M136.8 362.4h0M135.0 375.7h0M135.3 374.5h0M136.2 378.7h0M136.2 370.2h0M137.0 366.0h0M135.8 369.4h0M135.4 380.2h0M136.4 360.1h0M136.0 385.8h0M135.9 381.2h0M136.8 373.3h0M136.2 361.4h0M136.2 366.7h0M135.5 371.3h0M135.2 370.3h0M135.4 368.6h0M135.6 361.7h0M137.8 369.8h0M135.3 376.0h0M137.0 365.3h0M137.0 377.0h0M137.3 371.3h0M135.3 377.1h0M135.3 369.9h0" stroke="#b8b8b8" stroke-width="0.90" stroke-linecap="round" stroke-opacity="0.7"/>
<path d="M146.4 371.8h0M144.7 384.9h0M143.8 374.5h0M145.2 374.7h0M144.4 367.7h0M144.7 358.1h0M144.6 363.4h0M145.5 371.3h0M145.0 368.5h0M143.6 364.0h0M144.3 376.6h0M142.7 371.9h0M146.0 376.5h0M146.0 373.5h0M144.3 376.0h0M143.9 371.2h0M145.7 376.1h0M144.4 377.1h0M142.6 371.5h0M145.8 373.0h0M146.0 371.4h0M144.2 381.2h0M145.8 372.3h0M145.5 375.7h0M144.1 367.5h0M144.6 377.3h0M146.0 371.5h0M146.1 364.8h0M144.9 355.7h0M144.2 359.5h0M145.8 374.7h0M143.0 369.7h0M146.1 367.5h0M145.2 377.2h0M146.0 374.3h0M144.7 384.3h0M144.0 375.5h0M144.4 371.8h0M145.3 378.8h0M143.0 366.7h0M144.0 370.3h0M144.4 381.3h0M144.3 372.1h0M144.9 370.9h0M144.2 362.7h0M143.1 375.3h0M144.7 367.1h0M144.3 364.4h0M143.8 369.7h0M143.9 372.3h0M144.6 371.3h0M142.6 371.1h0M144.5 374.8h0M144.8 365.4h0M145.8 373.2h0M144.9 370.5h0M145.4 363.6h0M144.7 370.3h0M146.2 373.5h0M144.9 357.2h0M144.8 366.4h0M144.9 363.1h0M145.0 357.2h0M142.8 368.0h0M145.1 370.1h0M145.4 360.3h0M144.4 377.6h0M146.6 372.4h0M143.4 374.6h0M145.3 377.7h0M144.5 358.6h0M146.4 370.8h0M145.5 375.0h0M146.4 370.2h0M142.9 371.0h0M145.4 364.5h0M146.6 369.7h0M144.8 367.5h0M144.3 377.8h0M143.0 371.7h0" stroke="#f8a8a8" stroke-width="0.90" stroke-linecap="round" stroke-opacity="0.7"/>
<path d="M137.1 399.4h0M136.7 388.0h0M136.7 383.5h0M136.5 385.1h0M136.2 387.1h0M136.9 391.9h0M138.0 400.8h0M136.3 398.0h0M136.8 382.3h0M137.5 393.1h0M135.7 392.2h0M138.3 384.5h0M137.1 376.9h0M137.0 395.4h0M137.2 398.3h0M136.9 382.7h0M137.2 396.9h0M136.5 379.1h0M137.7 401.5h0M136.6 388.7h0" stroke="#c8c8c8" stroke-width="0.80" stroke-linecap="round" stroke-opacity="0.7"/>
<path d="M144.3 394.5h0M143.5 383.0h0M143.9 389.1h0M143.7 391.9h0M144.6 380.0h0M144.1 381.9h0M145.5 399.6h0M143.8 396.8h0M144.5 396.9h0M143.5 378.2h0M144.8 394.1h0M143.2 377.5h0M144.1 377.9h0M143.5 398.0h0M143.3 400.4h0M144.5 392.5h0M143.6 393.2h0M144.8 378.0h0M144.0 398.2h0M143.1 387.6h0" stroke="#f8a0a0" stroke-width="0.80" stroke-linecap="round" stroke-opacity="0.7"/>
<line x1="138.80" y1="398.90" x2="138.80" y2="404.90" stroke="#111" stroke-width="0.9"/>
<line x1="146.20" y1="397.60" x2="146.20" y2="402.60" stroke="#111" stroke-width="0.9"/>
<rect x="155.70" y="376.40" width="5.20" height="20.20" fill="#8c8c8c"/>
<rect x="162.70" y="376.40" width="5.20" height="14.10" fill="#ee3a3f"/>
<path d="M156.4 347.0h0M156.7 348.6h0M156.4 350.4h0M156.5 351.5h0M156.4 352.9h0M156.5 354.2h0M156.8 356.1h0M156.3 358.0h0M156.7 360.1h0M156.7 362.1h0M156.5 363.6h0M156.7 364.8h0M156.7 366.0h0M156.7 368.1h0M156.8 369.9h0M156.8 372.1h0M156.6 374.3h0M156.7 375.5h0M156.8 377.3h0M156.5 379.1h0M156.8 380.2h0M156.9 382.0h0M156.8 383.8h0M156.9 385.8h0M156.8 387.4h0M156.3 389.0h0M156.5 390.5h0M156.5 392.7h0M156.7 394.2h0M156.5 395.4h0M156.4 396.9h0M156.6 398.7h0M156.5 400.8h0M156.4 403.0h0M156.4 404.7h0M156.5 405.8h0M156.5 407.9h0M156.6 409.6h0" stroke="#a8a8a8" stroke-width="0.70" stroke-linecap="round" stroke-opacity="0.75"/>
<path d="M163.7 347.0h0M163.6 348.0h0M163.9 349.3h0M163.8 351.0h0M163.9 352.6h0M163.4 354.3h0M163.8 355.4h0M164.0 357.2h0M163.5 359.0h0M163.8 360.5h0M163.5 362.1h0M163.7 364.0h0M164.0 365.2h0M163.4 366.6h0M163.6 368.2h0M163.6 369.4h0M163.6 371.0h0M163.9 372.6h0M163.9 374.6h0M163.6 376.5h0M163.5 378.3h0M163.4 379.8h0M164.0 380.9h0M163.8 382.0h0M163.4 383.5h0M163.4 385.2h0M163.9 387.1h0M163.7 388.6h0M163.8 389.6h0M163.7 390.6h0M163.8 392.5h0M163.8 393.6h0M163.6 395.2h0M163.7 397.0h0M163.7 398.3h0M163.6 399.6h0M163.6 401.5h0M163.6 403.2h0M163.4 404.4h0M163.9 406.3h0M163.8 408.2h0M163.5 409.3h0" stroke="#f48a8a" stroke-width="0.70" stroke-linecap="round" stroke-opacity="0.8"/>
<path d="M157.0 363.5h0M155.8 364.8h0M155.1 372.6h0M155.0 377.6h0M156.0 363.7h0M157.6 372.3h0M156.3 366.2h0M155.9 385.8h0M156.7 382.8h0M154.8 374.0h0M156.8 370.3h0M157.0 366.4h0M155.1 371.1h0M157.3 366.1h0M156.2 387.6h0M155.5 362.8h0M155.7 360.1h0M156.0 384.9h0M156.1 387.9h0M155.0 376.3h0M156.0 368.7h0M156.5 376.2h0M156.3 370.0h0M154.9 369.0h0M156.0 358.4h0M157.0 377.2h0M157.1 372.3h0M155.2 380.0h0M156.5 362.6h0M157.5 368.7h0M155.3 370.1h0M156.2 366.7h0M154.9 370.0h0M156.5 382.0h0M155.0 369.8h0M157.6 373.3h0M156.0 381.6h0M156.6 358.6h0M157.2 378.2h0M155.9 383.3h0M155.0 376.2h0M157.2 372.1h0M155.4 364.8h0M156.6 366.4h0M156.5 374.8h0M156.6 375.2h0M155.2 376.7h0M156.1 357.8h0M155.0 377.8h0M157.0 379.3h0M156.2 365.9h0M156.5 358.8h0M156.8 379.6h0M156.0 359.1h0M157.0 370.5h0M156.1 374.2h0M156.0 378.6h0M157.4 371.4h0M156.5 385.2h0M157.5 369.4h0" stroke="#b8b8b8" stroke-width="0.90" stroke-linecap="round" stroke-opacity="0.7"/>
<path d="M162.3 368.7h0M164.5 379.6h0M163.4 377.9h0M164.5 367.6h0M163.1 377.1h0M163.9 373.1h0M165.4 374.7h0M164.1 359.5h0M165.4 367.8h0M164.5 370.9h0M164.0 366.7h0M162.4 372.1h0M163.9 372.1h0M162.7 371.9h0M165.5 374.5h0M164.3 361.5h0M165.6 373.0h0M164.5 374.7h0M162.8 364.0h0M163.5 362.1h0M164.6 357.7h0M164.5 375.6h0M164.5 369.9h0M163.8 372.2h0M163.1 374.3h0M162.2 368.0h0M164.5 382.5h0M162.8 372.3h0M163.7 379.1h0M164.7 370.9h0M163.8 379.9h0M164.5 363.9h0M163.2 367.1h0M164.6 381.5h0M163.8 363.6h0M164.5 356.7h0M164.7 365.3h0M163.4 367.3h0M164.7 371.5h0M163.1 371.3h0M163.6 379.8h0M164.9 377.1h0M166.1 369.0h0M165.1 376.6h0M164.4 379.9h0M164.3 353.1h0M163.7 363.4h0M163.9 363.6h0M164.7 365.2h0M165.7 367.8h0M162.1 369.1h0M163.7 365.1h0M164.2 357.6h0M164.3 375.5h0M164.7 363.0h0M164.4 364.5h0M162.9 365.1h0M163.9 368.3h0M164.0 382.8h0M164.3 358.9h0M163.4 362.3h0M165.5 369.1h0M163.4 374.3h0M163.0 372.6h0M164.3 371.0h0M162.9 372.7h0M164.6 364.1h0M164.2 362.6h0M164.1 365.5h0M164.9 366.2h0M164.6 372.5h0M164.8 381.1h0M165.0 363.4h0M163.5 364.1h0M165.0 364.8h0M164.9 375.3h0M165.5 376.9h0M164.2 386.0h0M164.0 379.8h0M162.4 369.7h0" stroke="#f8a8a8" stroke-width="0.90" stroke-linecap="round" stroke-opacity="0.7"/>
<path d="M155.9 376.8h0M156.2 388.8h0M155.8 392.2h0M157.1 388.6h0M155.9 389.2h0M156.4 387.7h0M156.3 378.2h0M155.9 385.0h0M156.3 396.0h0M156.7 386.7h0M157.3 383.6h0M157.8 380.0h0M157.0 390.8h0M157.3 396.5h0M156.7 378.2h0M156.6 396.1h0M155.9 394.8h0M157.0 385.7h0M156.3 379.7h0M157.2 394.0h0" stroke="#c8c8c8" stroke-width="0.80" stroke-linecap="round" stroke-opacity="0.7"/>
<path d="M163.0 378.0h0M163.5 384.2h0M163.3 387.6h0M163.4 389.9h0M163.6 384.8h0M164.4 388.6h0M163.3 377.1h0M163.1 380.5h0M163.8 378.6h0M164.3 382.3h0M163.6 384.9h0M164.5 383.1h0M163.8 387.6h0M163.3 390.2h0M163.5 384.1h0M164.1 386.5h0M163.5 382.6h0M163.3 388.5h0M164.1 380.1h0M163.2 382.1h0" stroke="#f8a0a0" stroke-width="0.80" stroke-linecap="round" stroke-opacity="0.7"/>
<line x1="158.70" y1="393.10" x2="158.70" y2="399.10" stroke="#111" stroke-width="0.9"/>
<line x1="165.70" y1="387.50" x2="165.70" y2="392.50" stroke="#111" stroke-width="0.9"/>
<rect x="176.00" y="376.40" width="5.20" height="23.90" fill="#8c8c8c"/>
<rect x="182.60" y="376.40" width="5.20" height="19.40" fill="#ee3a3f"/>
<path d="M176.9 347.0h0M176.9 348.7h0M177.2 350.5h0M176.7 352.4h0M176.6 354.6h0M177.1 355.8h0M176.6 357.2h0M176.9 358.6h0M176.6 360.6h0M176.6 361.9h0M176.8 363.1h0M177.2 364.8h0M177.1 366.6h0M177.1 368.4h0M176.7 370.3h0M176.9 371.8h0M177.2 373.1h0M176.7 374.7h0M177.1 376.4h0M177.0 377.8h0M176.7 379.0h0M176.9 380.4h0M176.7 382.3h0M177.0 384.2h0M177.2 386.1h0M177.2 387.6h0M176.9 389.2h0M176.7 390.6h0M176.7 392.4h0M176.7 393.6h0M176.7 395.3h0M177.1 396.7h0M176.7 398.3h0M177.2 400.2h0M176.9 402.0h0M177.0 403.7h0M177.1 405.8h0M177.1 407.2h0M176.7 408.4h0" stroke="#a8a8a8" stroke-width="0.70" stroke-linecap="round" stroke-opacity="0.75"/>
<path d="M183.4 347.0h0M183.5 348.5h0M183.6 350.4h0M183.9 352.2h0M183.8 353.6h0M183.5 355.1h0M183.7 356.2h0M183.7 358.1h0M183.6 359.4h0M183.5 360.7h0M183.3 362.4h0M183.6 363.9h0M183.7 365.0h0M183.5 366.2h0M183.7 367.5h0M183.7 368.9h0M183.8 370.3h0M183.4 371.8h0M183.5 373.3h0M183.9 374.5h0M183.7 376.0h0M183.7 377.1h0M183.4 378.2h0M183.3 379.3h0M183.9 381.2h0M183.3 382.5h0M183.7 384.2h0M183.8 385.2h0M183.4 386.3h0M183.8 388.0h0M183.6 389.2h0M183.7 391.0h0M183.4 392.5h0M183.4 393.5h0M183.7 395.0h0M183.7 396.5h0M183.7 398.0h0M183.8 399.4h0M183.8 400.9h0M183.8 402.8h0M183.7 404.6h0M183.4 406.1h0M183.7 407.2h0M183.7 408.4h0M183.7 409.9h0" stroke="#f48a8a" stroke-width="0.70" stroke-linecap="round" stroke-opacity="0.8"/>
<path d="M177.1 372.5h0M177.4 378.8h0M176.3 369.1h0M176.3 378.3h0M177.0 362.9h0M177.0 362.1h0M176.3 368.7h0M176.5 350.9h0M177.4 368.0h0M176.3 366.3h0M176.3 362.9h0M175.1 368.6h0M177.9 370.4h0M175.9 381.0h0M176.6 389.6h0M176.3 359.7h0M176.3 388.4h0M175.9 374.0h0M176.9 383.1h0M177.4 367.5h0M175.4 376.1h0M176.3 380.5h0M176.4 357.3h0M177.0 372.4h0M175.2 375.9h0M176.7 376.8h0M176.4 361.2h0M177.5 365.5h0M177.7 370.2h0M176.0 361.8h0M176.8 369.3h0M177.2 381.8h0M177.9 370.9h0M176.4 369.8h0M176.9 375.7h0M176.8 385.0h0M176.4 366.2h0M176.4 370.1h0M175.7 365.7h0M176.0 380.5h0M176.6 373.4h0M177.3 373.3h0M176.6 357.9h0M176.7 381.9h0M176.1 368.1h0M176.6 388.7h0M177.1 372.7h0M176.5 391.7h0M176.1 371.5h0M176.2 367.4h0M175.5 368.2h0M176.3 378.5h0M176.3 383.9h0M176.9 379.9h0M176.6 352.5h0M176.8 381.5h0M177.2 381.6h0M176.5 357.1h0M176.1 369.5h0M176.0 370.3h0" stroke="#b8b8b8" stroke-width="0.90" stroke-linecap="round" stroke-opacity="0.7"/>
<path d="M185.2 369.4h0M182.2 369.4h0M185.0 362.9h0M184.6 373.8h0M183.3 376.2h0M184.4 378.3h0M184.1 355.0h0M183.7 379.1h0M183.7 363.5h0M184.0 386.4h0M184.8 359.8h0M182.3 367.7h0M184.1 364.6h0M184.4 379.8h0M182.2 368.6h0M182.8 367.3h0M183.2 368.5h0M182.7 374.2h0M184.7 378.4h0M182.6 371.4h0M183.3 379.4h0M183.0 376.3h0M185.0 364.1h0M184.1 370.3h0M182.8 363.3h0M185.5 369.0h0M183.5 359.9h0M184.0 378.4h0M182.5 366.1h0M186.0 369.0h0M184.1 400.9h0M184.3 357.4h0M183.2 363.6h0M184.6 365.3h0M183.4 360.1h0M183.3 373.7h0M184.1 379.0h0M183.6 377.7h0M183.2 371.7h0M183.9 361.7h0M182.2 372.5h0M186.1 370.0h0M185.4 376.3h0M184.2 363.9h0M183.8 368.6h0M184.5 367.0h0M183.8 361.4h0M184.6 375.5h0M183.8 372.1h0M184.2 377.8h0M184.8 374.9h0M182.7 371.8h0M184.1 347.7h0M185.0 373.3h0M183.6 372.4h0M184.1 351.8h0M184.0 370.0h0M183.1 368.4h0M184.6 359.3h0M184.1 366.0h0M184.8 369.0h0M185.9 367.3h0M184.1 363.9h0M183.8 364.6h0M185.3 372.0h0M184.2 374.2h0M184.7 379.4h0M184.7 372.3h0M183.3 377.3h0M184.1 385.6h0M183.2 365.9h0M182.7 371.0h0M184.7 371.0h0M184.8 371.8h0M183.8 369.8h0M184.1 387.2h0M184.0 379.1h0M185.0 365.5h0M182.2 369.6h0M184.8 364.0h0" stroke="#f8a8a8" stroke-width="0.90" stroke-linecap="round" stroke-opacity="0.7"/>
<path d="M176.8 394.3h0M176.8 394.2h0M177.2 380.6h0M176.2 391.6h0M176.4 378.2h0M177.7 379.1h0M176.0 377.3h0M177.6 391.5h0M178.0 381.9h0M177.6 396.5h0M177.3 393.2h0M178.0 376.6h0M176.4 380.5h0M178.4 377.2h0M176.9 380.2h0M176.0 382.8h0M178.0 378.2h0M175.7 398.1h0M177.8 389.9h0M177.5 391.9h0" stroke="#c8c8c8" stroke-width="0.80" stroke-linecap="round" stroke-opacity="0.7"/>
<path d="M183.6 392.5h0M182.9 395.3h0M182.8 385.4h0M183.9 391.7h0M184.0 387.8h0M183.4 393.8h0M183.5 393.4h0M183.7 388.1h0M184.3 388.4h0M183.4 390.4h0M184.0 391.1h0M184.4 384.9h0M183.5 380.6h0M184.2 390.7h0M183.5 387.1h0M183.8 391.7h0M184.1 391.0h0M182.7 377.6h0M183.1 381.9h0M183.7 392.4h0" stroke="#f8a0a0" stroke-width="0.80" stroke-linecap="round" stroke-opacity="0.7"/>
<line x1="179.00" y1="396.80" x2="179.00" y2="402.80" stroke="#111" stroke-width="0.9"/>
<line x1="185.60" y1="392.80" x2="185.60" y2="397.80" stroke="#111" stroke-width="0.9"/>
<rect x="196.40" y="376.40" width="5.20" height="26.00" fill="#8c8c8c"/>
<rect x="203.00" y="376.40" width="5.20" height="16.60" fill="#ee3a3f"/>
<path d="M197.1 347.0h0M197.3 348.1h0M197.0 349.3h0M197.4 351.1h0M197.0 352.8h0M197.3 354.6h0M197.1 356.0h0M197.3 357.3h0M197.4 358.9h0M197.2 360.7h0M197.2 362.5h0M197.1 364.5h0M197.4 366.3h0M197.3 368.3h0M197.6 370.4h0M197.2 372.5h0M197.4 373.9h0M197.1 375.1h0M197.4 376.4h0M197.6 377.9h0M197.3 379.9h0M197.2 381.4h0M197.1 382.6h0M197.2 384.7h0M197.6 385.8h0M197.5 387.4h0M197.6 389.0h0M197.3 390.2h0M197.0 392.1h0M197.2 394.2h0M197.0 396.1h0M197.1 397.3h0M197.6 399.3h0M197.3 401.5h0M197.5 402.7h0M197.5 404.4h0M197.3 406.2h0M197.1 407.5h0M197.3 408.7h0" stroke="#a8a8a8" stroke-width="0.70" stroke-linecap="round" stroke-opacity="0.75"/>
<path d="M204.3 347.0h0M204.2 348.0h0M203.8 349.1h0M203.8 351.0h0M204.1 352.6h0M203.9 353.9h0M204.1 355.1h0M204.1 356.4h0M203.7 358.2h0M203.9 359.6h0M204.1 361.5h0M204.0 362.7h0M204.0 363.6h0M203.8 364.7h0M204.0 366.2h0M204.1 367.4h0M204.1 368.6h0M204.2 369.7h0M203.8 371.1h0M204.1 372.4h0M204.2 373.4h0M203.9 374.6h0M204.0 375.7h0M203.8 377.6h0M204.0 378.8h0M203.8 380.4h0M204.1 381.6h0M203.7 382.8h0M204.2 384.4h0M204.2 386.2h0M203.9 387.4h0M204.1 389.0h0M204.0 390.6h0M203.8 391.8h0M203.7 392.8h0M203.8 394.4h0M204.3 396.2h0M204.3 397.3h0M203.7 398.9h0M203.9 400.3h0M203.7 401.6h0M203.7 402.8h0M204.0 404.2h0M204.3 405.4h0M204.0 407.3h0M203.9 409.0h0" stroke="#f48a8a" stroke-width="0.70" stroke-linecap="round" stroke-opacity="0.8"/>
<path d="M197.7 373.3h0M196.6 364.7h0M195.8 375.9h0M197.4 379.4h0M197.9 371.9h0M197.1 381.4h0M197.1 382.8h0M197.4 365.0h0M197.1 365.5h0M197.0 355.3h0M197.6 362.6h0M196.3 368.9h0M196.4 375.5h0M197.3 380.8h0M196.0 371.7h0M197.3 371.6h0M196.9 362.4h0M196.1 379.3h0M196.1 364.0h0M196.9 352.0h0M196.9 363.7h0M196.9 364.8h0M196.9 388.2h0M197.9 370.9h0M198.0 364.8h0M196.5 359.4h0M197.9 373.4h0M198.0 377.7h0M198.1 373.4h0M197.3 381.1h0M197.2 357.5h0M196.2 363.2h0M197.2 378.5h0M197.7 370.6h0M198.2 370.1h0M197.6 378.6h0M197.3 375.5h0M197.7 371.5h0M196.7 384.4h0M195.7 368.5h0M197.1 374.9h0M196.5 377.5h0M197.5 374.0h0M197.8 374.7h0M198.0 378.9h0M196.6 378.7h0M196.6 357.7h0M198.0 368.8h0M196.4 374.0h0M196.9 359.1h0M195.6 374.7h0M197.3 371.0h0M196.0 376.3h0M196.8 370.7h0M197.4 374.5h0M196.2 362.0h0M197.6 375.3h0M196.3 382.1h0M196.7 377.9h0M196.4 375.7h0" stroke="#b8b8b8" stroke-width="0.90" stroke-linecap="round" stroke-opacity="0.7"/>
<path d="M205.1 371.3h0M206.4 372.4h0M204.0 359.5h0M204.6 358.3h0M204.7 361.0h0M204.7 380.2h0M204.3 385.0h0M204.4 361.1h0M203.8 377.7h0M205.2 374.6h0M206.2 369.5h0M202.9 370.7h0M202.6 369.0h0M205.1 378.4h0M205.0 369.3h0M203.0 366.6h0M203.6 367.0h0M204.3 369.4h0M205.2 360.2h0M203.8 367.2h0M205.5 367.2h0M204.0 373.9h0M204.2 371.1h0M205.7 374.4h0M204.5 358.1h0M204.8 374.9h0M205.5 369.8h0M203.4 377.2h0M203.8 364.9h0M203.8 371.5h0M202.6 372.9h0M204.0 378.7h0M206.0 369.6h0M205.2 374.4h0M203.2 372.8h0M203.7 367.6h0M204.7 356.8h0M206.1 369.3h0M203.8 371.6h0M204.2 370.2h0M203.4 376.5h0M206.1 370.3h0M203.1 371.5h0M205.6 375.9h0M203.6 375.7h0M203.6 374.9h0M204.8 381.1h0M203.9 369.6h0M204.5 388.0h0M203.4 367.4h0M204.5 378.4h0M206.0 372.6h0M204.3 382.9h0M206.6 369.9h0M203.2 368.5h0M206.5 368.7h0M205.1 373.3h0M203.9 359.0h0M205.4 375.4h0M204.7 367.7h0M205.4 361.5h0M206.0 370.6h0M204.1 359.2h0M204.2 378.4h0M204.1 369.1h0M202.4 372.0h0M204.5 382.7h0M202.7 367.5h0M203.6 369.0h0M204.1 382.0h0M203.7 361.7h0M204.0 374.1h0M204.4 359.2h0M206.3 366.0h0M202.7 369.6h0M205.0 381.7h0M205.7 365.9h0M206.2 368.8h0M205.2 379.9h0M204.3 380.6h0" stroke="#f8a8a8" stroke-width="0.90" stroke-linecap="round" stroke-opacity="0.7"/>
<path d="M197.3 397.0h0M196.6 386.5h0M197.8 384.5h0M196.4 401.0h0M196.6 378.2h0M197.0 382.1h0M198.2 376.9h0M196.8 394.9h0M196.4 385.0h0M197.8 378.8h0M197.2 395.2h0M196.8 401.2h0M197.7 392.8h0M197.1 387.0h0M196.4 384.0h0M197.4 402.2h0M198.4 400.1h0M196.1 395.5h0M197.9 395.6h0M197.7 389.1h0" stroke="#c8c8c8" stroke-width="0.80" stroke-linecap="round" stroke-opacity="0.7"/>
<path d="M204.5 378.1h0M203.7 380.4h0M203.5 377.8h0M203.9 392.1h0M203.7 386.9h0M204.1 377.2h0M203.5 387.8h0M203.5 384.8h0M204.2 383.2h0M203.9 380.2h0M203.8 389.6h0M204.5 383.6h0M204.0 381.3h0M203.7 385.6h0M203.5 388.3h0M204.8 382.3h0M204.4 386.7h0M204.3 385.7h0M203.8 386.5h0M204.0 385.4h0" stroke="#f8a0a0" stroke-width="0.80" stroke-linecap="round" stroke-opacity="0.7"/>
<line x1="199.40" y1="398.90" x2="199.40" y2="404.90" stroke="#111" stroke-width="0.9"/>
<line x1="206.00" y1="390.00" x2="206.00" y2="395.00" stroke="#111" stroke-width="0.9"/>
<rect x="215.90" y="376.40" width="5.20" height="28.20" fill="#8c8c8c"/>
<rect x="223.00" y="376.40" width="5.20" height="13.30" fill="#ee3a3f"/>
<path d="M217.0 347.0h0M216.6 348.4h0M216.6 350.2h0M216.5 351.5h0M217.0 353.3h0M216.9 355.3h0M217.0 357.4h0M216.7 358.8h0M217.1 361.0h0M216.9 362.8h0M216.6 364.4h0M216.6 365.8h0M216.9 367.7h0M217.0 369.5h0M216.6 370.6h0M216.7 371.8h0M216.8 374.0h0M216.6 376.0h0M217.0 377.5h0M216.9 379.0h0M216.9 380.8h0M216.7 381.9h0M216.7 384.1h0M217.1 385.6h0M216.9 387.3h0M216.9 389.0h0M216.7 390.6h0M216.6 392.0h0M216.6 393.9h0M216.8 395.2h0M217.0 397.4h0M216.9 399.3h0M216.8 400.6h0M216.8 401.7h0M216.6 402.9h0M216.7 404.2h0M216.6 405.8h0M216.6 407.0h0M217.1 409.2h0" stroke="#a8a8a8" stroke-width="0.70" stroke-linecap="round" stroke-opacity="0.75"/>
<path d="M223.8 347.0h0M224.2 348.2h0M223.8 349.2h0M224.3 350.8h0M224.2 352.7h0M224.1 354.0h0M224.2 355.9h0M224.2 357.8h0M224.1 359.5h0M224.0 360.9h0M224.0 362.8h0M224.0 363.8h0M224.1 365.7h0M224.3 367.1h0M223.8 368.8h0M224.2 370.5h0M224.3 371.5h0M224.2 372.9h0M223.9 373.9h0M223.8 375.2h0M224.2 376.8h0M224.2 378.4h0M223.9 379.5h0M224.2 380.9h0M224.3 382.6h0M224.0 384.4h0M224.2 386.1h0M224.1 387.6h0M224.2 389.4h0M223.7 390.6h0M224.2 392.2h0M224.2 393.4h0M223.8 395.1h0M224.1 396.3h0M223.8 397.8h0M223.8 399.7h0M224.3 401.5h0M224.1 402.6h0M224.2 404.1h0M223.9 405.5h0M224.2 406.8h0M224.2 408.0h0M224.2 409.1h0" stroke="#f48a8a" stroke-width="0.70" stroke-linecap="round" stroke-opacity="0.8"/>
<path d="M215.9 368.8h0M216.4 352.7h0M217.4 369.5h0M216.4 373.5h0M215.3 372.7h0M215.6 370.0h0M214.9 372.7h0M216.0 370.4h0M216.8 360.3h0M216.0 382.1h0M217.3 371.6h0M216.7 364.5h0M216.3 380.1h0M216.3 375.8h0M216.3 360.5h0M216.5 367.8h0M215.6 377.6h0M215.9 361.3h0M216.1 369.3h0M216.5 391.5h0M216.3 384.1h0M217.1 369.3h0M216.4 352.3h0M216.8 371.8h0M215.5 367.5h0M216.5 361.7h0M216.7 361.1h0M215.6 377.3h0M217.7 367.8h0M216.4 376.5h0M216.4 352.3h0M217.2 378.4h0M216.0 367.8h0M215.1 371.9h0M216.4 364.9h0M217.6 377.1h0M215.5 367.3h0M217.0 371.0h0M216.4 363.8h0M216.1 371.2h0M215.2 367.3h0M216.4 362.4h0M216.3 372.0h0M216.7 382.6h0M216.5 384.8h0M216.4 369.1h0M215.9 381.8h0M216.2 380.5h0M217.3 366.6h0M216.5 368.8h0M216.3 373.7h0M215.8 371.7h0M216.5 361.7h0M217.5 366.8h0M216.9 364.8h0M216.6 374.8h0M215.6 369.9h0M216.3 389.9h0M216.5 354.9h0M217.3 367.8h0" stroke="#b8b8b8" stroke-width="0.90" stroke-linecap="round" stroke-opacity="0.7"/>
<path d="M223.9 363.6h0M223.4 364.6h0M224.5 357.6h0M226.2 374.6h0M224.9 372.7h0M224.3 361.7h0M224.1 381.0h0M225.5 362.7h0M225.5 367.1h0M224.3 364.1h0M225.0 367.1h0M225.5 362.2h0M224.2 376.2h0M225.2 364.9h0M224.5 368.4h0M223.6 367.3h0M223.7 367.5h0M223.5 366.6h0M226.1 368.3h0M224.8 378.9h0M224.2 362.8h0M224.4 360.6h0M225.5 367.2h0M226.1 366.1h0M226.3 371.9h0M223.3 368.3h0M224.1 376.6h0M223.7 377.1h0M224.6 363.2h0M224.5 364.5h0M224.9 361.0h0M225.0 361.9h0M225.0 373.7h0M223.5 363.0h0M225.0 376.7h0M223.5 373.8h0M224.5 375.6h0M224.4 368.5h0M223.6 374.0h0M225.1 369.3h0M223.1 365.8h0M225.9 374.9h0M224.0 361.4h0M226.2 373.3h0M223.6 378.5h0M224.6 376.7h0M224.4 362.2h0M224.6 385.3h0M226.2 375.0h0M223.9 370.9h0M224.0 375.3h0M224.6 371.3h0M224.4 365.6h0M224.4 374.0h0M224.8 373.5h0M224.7 377.7h0M223.2 369.5h0M225.6 362.3h0M224.2 374.4h0M224.2 374.0h0M223.7 373.4h0M224.5 383.5h0M224.2 367.1h0M223.0 367.7h0M225.0 359.1h0M226.3 367.0h0M225.0 375.9h0M224.1 375.1h0M225.4 377.7h0M222.7 367.2h0M225.2 361.7h0M224.5 377.0h0M224.3 377.4h0M224.9 360.8h0M226.1 366.6h0M226.0 369.6h0M225.5 374.0h0M222.7 366.8h0M224.5 364.1h0M224.0 370.0h0" stroke="#f8a8a8" stroke-width="0.90" stroke-linecap="round" stroke-opacity="0.7"/>
<path d="M216.0 391.9h0M217.3 395.0h0M217.0 384.2h0M217.3 385.6h0M215.9 388.4h0M216.9 404.1h0M216.7 383.8h0M217.6 376.6h0M217.7 394.3h0M217.1 393.0h0M217.4 387.2h0M216.9 376.9h0M217.0 379.4h0M217.9 397.3h0M217.2 386.4h0M216.7 382.8h0M215.9 392.5h0M216.7 385.1h0M216.3 401.8h0M216.2 392.6h0" stroke="#c8c8c8" stroke-width="0.80" stroke-linecap="round" stroke-opacity="0.7"/>
<path d="M222.7 379.2h0M223.4 376.6h0M223.8 380.8h0M224.4 386.7h0M224.6 385.0h0M224.7 388.1h0M224.8 377.3h0M224.1 388.1h0M223.4 383.7h0M224.0 383.9h0M223.2 388.5h0M223.4 382.6h0M224.1 388.2h0M223.3 380.4h0M224.8 380.4h0M223.9 377.3h0M223.3 383.3h0M224.4 380.2h0M222.9 388.4h0M224.1 379.9h0" stroke="#f8a0a0" stroke-width="0.80" stroke-linecap="round" stroke-opacity="0.7"/>
<line x1="218.90" y1="401.10" x2="218.90" y2="407.10" stroke="#111" stroke-width="0.9"/>
<line x1="226.00" y1="386.70" x2="226.00" y2="391.70" stroke="#111" stroke-width="0.9"/>
<rect x="139.60" y="423.00" width="4.00" height="4.00" fill="#1a1a1a"/>
<rect x="159.70" y="423.00" width="4.00" height="4.00" fill="#d2d82a"/>
<rect x="179.60" y="423.00" width="4.00" height="4.00" fill="#f7a540"/>
<rect x="199.70" y="423.00" width="4.00" height="4.00" fill="#ee5a24"/>
<rect x="220.00" y="423.00" width="4.00" height="4.00" fill="#b81c2e"/>
<polygon points="143.50,412.50 148.50,412.50 146.00,415.00" fill="#f4a0a0"/>
<polygon points="176.00,412.50 180.40,412.50 178.20,415.00" fill="#9a9a9a"/>
<polygon points="183.00,412.50 187.00,412.50 185.00,414.50" fill="#f4a0a0"/>
<polygon points="216.00,412.50 220.40,412.50 218.20,415.00" fill="#9a9a9a"/>
<polygon points="144.60,326.10 145.22,327.35 146.60,327.55 145.60,328.52 145.83,329.90 144.60,329.25 143.37,329.90 143.60,328.52 142.60,327.55 143.98,327.35" fill="#111"/>
<line x1="144.60" y1="331.30" x2="225.70" y2="331.30" stroke="#444" stroke-width="0.6"/>
<line x1="144.60" y1="332.80" x2="164.50" y2="332.80" stroke="#777" stroke-width="1.3"/>
<polygon points="157.90,335.90 158.52,337.15 159.90,337.35 158.90,338.32 159.13,339.70 157.90,339.05 156.67,339.70 156.90,338.32 155.90,337.35 157.28,337.15" fill="#111"/>
<line x1="159.10" y1="340.70" x2="164.40" y2="340.70" stroke="#555" stroke-width="0.75"/>
<polygon points="179.70,335.90 180.32,337.15 181.70,337.35 180.70,338.32 180.93,339.70 179.70,339.05 178.47,339.70 178.70,338.32 177.70,337.35 179.08,337.15" fill="#111"/>
<line x1="180.90" y1="340.70" x2="186.20" y2="340.70" stroke="#555" stroke-width="0.75"/>
<polygon points="199.60,335.90 200.22,337.15 201.60,337.35 200.60,338.32 200.83,339.70 199.60,339.05 198.37,339.70 198.60,338.32 197.60,337.35 198.98,337.15" fill="#111"/>
<line x1="200.80" y1="340.70" x2="206.10" y2="340.70" stroke="#555" stroke-width="0.75"/>
<polygon points="219.00,335.90 219.62,337.15 221.00,337.35 220.00,338.32 220.23,339.70 219.00,339.05 217.77,339.70 218.00,338.32 217.00,337.35 218.38,337.15" fill="#111"/>
<line x1="220.20" y1="340.70" x2="225.50" y2="340.70" stroke="#555" stroke-width="0.75"/>
<line x1="373.70" y1="221.70" x2="373.70" y2="282.10" stroke="#666" stroke-width="0.6"/>
<line x1="370.70" y1="221.70" x2="373.70" y2="221.70" stroke="#666" stroke-width="0.6"/>
<text x="368.20" y="224.08" font-size="6.6" fill="#231f20" text-anchor="end" stroke="#231f20" stroke-width="0.1">3</text>
<line x1="370.70" y1="236.80" x2="373.70" y2="236.80" stroke="#666" stroke-width="0.6"/>
<text x="368.20" y="239.18" font-size="6.6" fill="#231f20" text-anchor="end" stroke="#231f20" stroke-width="0.1">2</text>
<line x1="370.70" y1="251.90" x2="373.70" y2="251.90" stroke="#666" stroke-width="0.6"/>
<text x="368.20" y="254.28" font-size="6.6" fill="#231f20" text-anchor="end" stroke="#231f20" stroke-width="0.1">1</text>
<line x1="370.70" y1="267.00" x2="373.70" y2="267.00" stroke="#666" stroke-width="0.6"/>
<text x="368.20" y="269.38" font-size="6.6" fill="#231f20" text-anchor="end" stroke="#231f20" stroke-width="0.1">0</text>
<line x1="370.70" y1="282.10" x2="373.70" y2="282.10" stroke="#666" stroke-width="0.6"/>
<text x="368.20" y="284.48" font-size="6.6" fill="#231f20" text-anchor="end" stroke="#231f20" stroke-width="0.1">−1</text>
<line x1="373.70" y1="210.60" x2="373.70" y2="216.00" stroke="#666" stroke-width="0.6"/>
<line x1="370.70" y1="210.60" x2="373.70" y2="210.60" stroke="#666" stroke-width="0.6"/>
<text x="368.20" y="212.98" font-size="6.6" fill="#231f20" text-anchor="end" stroke="#231f20" stroke-width="0.1">6</text>
<text x="357.20" y="251.50" font-size="6.6" fill="#231f20" text-anchor="middle" stroke="#231f20" stroke-width="0.1" transform="rotate(-90 357.20 251.50)">AUC, 0–1 s</text>
<path d="M384.2 212.0h0M384.0 213.3h0M384.3 214.5h0M384.0 215.8h0M384.0 217.0h0M384.0 218.0h0M383.7 219.1h0M383.7 220.2h0M383.8 221.6h0M383.9 223.2h0M384.0 224.3h0M384.1 225.4h0M384.3 226.5h0M383.7 227.4h0M384.1 228.9h0M384.1 230.0h0M384.0 231.1h0M384.0 232.2h0M384.2 233.6h0M384.0 234.7h0M384.2 236.0h0M384.2 237.2h0M383.9 238.8h0M384.3 240.0h0M384.0 241.3h0M384.1 242.8h0M384.1 244.1h0M383.9 245.2h0M384.1 246.0h0M384.1 247.5h0M384.2 249.2h0M383.9 250.1h0M383.8 251.7h0M384.2 253.3h0M383.8 254.3h0M384.1 255.7h0M384.0 256.6h0M384.2 257.6h0M383.7 258.9h0M383.7 260.1h0M384.2 261.7h0M383.7 263.1h0M383.9 264.7h0M384.2 266.1h0M383.8 267.4h0M384.1 268.5h0M383.9 269.4h0M383.9 271.1h0M384.1 272.0h0M384.2 273.2h0M384.2 274.3h0M383.8 275.8h0M384.0 277.1h0M384.2 278.1h0M384.1 279.2h0" stroke="#8a8a8a" stroke-width="0.80" stroke-linecap="round" stroke-opacity="0.8"/>
<path d="M392.6 215.0h0M392.4 216.8h0M392.4 217.8h0M392.3 219.2h0M392.1 220.3h0M392.4 222.0h0M392.4 223.5h0M392.3 224.8h0M392.4 226.0h0M392.5 227.3h0M392.2 228.5h0M392.0 229.5h0M392.0 230.6h0M392.2 231.9h0M392.0 233.6h0M392.1 235.4h0M392.2 237.1h0M392.4 238.2h0M392.0 239.4h0M392.4 240.4h0M392.6 242.0h0M392.5 243.2h0M392.3 244.4h0M392.2 245.5h0M392.2 247.3h0M392.5 248.6h0M392.5 249.9h0M392.2 251.3h0M392.4 252.9h0M392.6 254.1h0M392.5 255.1h0M392.4 256.7h0M392.4 258.0h0M392.4 259.0h0M392.2 260.7h0M392.4 262.2h0M392.5 263.6h0M392.1 265.0h0M392.5 266.4h0M392.3 267.4h0M392.0 269.1h0M392.2 270.8h0M392.4 272.0h0M392.2 273.4h0M392.3 274.5h0M392.6 276.2h0M392.4 277.8h0M392.5 279.3h0M392.1 280.4h0M392.0 282.1h0" stroke="#f4a0a0" stroke-width="0.80" stroke-linecap="round" stroke-opacity="0.8"/>
<path d="M405.1 213.0h0M405.3 216.2h0M404.9 218.3h0M405.2 220.8h0M405.2 223.2h0M405.1 225.0h0M405.1 228.1h0M405.0 230.1h0M405.4 233.3h0M405.1 235.7h0M405.4 238.0h0M405.5 241.2h0M405.3 244.3h0M405.5 246.2h0M405.3 248.2h0M404.9 250.4h0M405.1 253.2h0M405.0 256.4h0M405.2 259.2h0M405.1 261.0h0M405.4 263.2h0M405.5 266.1h0M405.0 268.1h0M405.1 270.4h0M405.4 272.4h0M405.2 274.1h0M405.1 276.0h0M405.2 278.2h0M405.3 281.4h0" stroke="#b0b0b0" stroke-width="0.70" stroke-linecap="round" stroke-opacity="0.7"/>
<path d="M414.3 226.0h0M413.8 227.4h0M414.2 229.2h0M414.0 231.2h0M413.9 233.1h0M414.1 235.3h0M414.0 237.3h0M414.0 239.4h0M414.0 241.6h0M413.9 243.8h0M414.0 245.5h0M414.2 247.2h0M413.8 249.3h0M414.0 251.2h0M413.8 252.8h0M414.3 254.9h0M414.0 256.9h0M413.9 258.1h0M413.8 259.6h0M413.9 261.1h0M413.7 262.7h0M414.3 264.0h0M413.8 265.7h0M413.9 267.3h0M413.8 269.0h0M414.3 270.9h0M414.3 272.8h0M414.0 274.8h0M414.1 276.5h0" stroke="#f4a0a0" stroke-width="0.80" stroke-linecap="round" stroke-opacity="0.8"/>
<rect x="382.20" y="243.30" width="5.40" height="23.70" fill="#8a8a8a"/>
<path d="M383.8 266.4h0M383.4 264.3h0M381.2 270.2h0M382.2 264.1h0M379.7 263.7h0M382.8 265.4h0M382.0 257.7h0M382.0 244.8h0M378.9 263.8h0M379.1 262.4h0M385.0 260.6h0M380.9 264.5h0M382.0 247.1h0M382.0 263.0h0M384.1 267.0h0M382.6 263.3h0M382.0 258.1h0M382.0 268.0h0M382.5 253.2h0M382.3 251.8h0M382.3 270.0h0M383.9 258.3h0M385.0 263.0h0M381.5 264.8h0M381.1 269.4h0M380.0 263.0h0M384.5 264.6h0M380.2 259.4h0M382.5 263.2h0M382.3 253.9h0M383.5 260.8h0M380.7 256.3h0M378.9 262.3h0M381.8 269.8h0M380.2 266.5h0M381.1 265.9h0M382.0 266.8h0M377.9 260.8h0M383.1 261.7h0M379.2 264.1h0M384.1 263.1h0M383.2 264.2h0M380.2 260.1h0M382.3 265.8h0M380.0 257.9h0M383.0 260.1h0M379.5 259.6h0M380.7 268.5h0M382.1 270.0h0M379.0 265.8h0M381.4 254.5h0M383.6 267.0h0M382.3 267.5h0M379.2 262.2h0M380.5 267.6h0M384.3 261.1h0M383.0 268.7h0M383.2 263.2h0M384.8 263.6h0M385.1 262.2h0M384.4 259.6h0M381.7 272.3h0M380.4 262.6h0M379.4 261.1h0M378.1 263.3h0M384.2 267.1h0M380.8 263.7h0M383.3 268.6h0M382.3 252.7h0M382.4 258.3h0M383.4 257.0h0M383.1 262.8h0M382.0 237.1h0M383.7 265.0h0M383.0 264.2h0M380.4 265.6h0M382.0 275.7h0M384.0 261.4h0M385.0 260.0h0M381.9 269.7h0M381.9 250.6h0M379.8 257.0h0M383.1 264.3h0M383.7 267.0h0M381.3 261.4h0M379.5 264.7h0M383.7 261.4h0M380.2 267.2h0M382.2 264.3h0M380.2 266.5h0M383.8 256.1h0M382.5 252.7h0M382.2 259.4h0M380.3 259.4h0M383.7 261.4h0M383.3 263.8h0M386.3 261.0h0M382.4 265.2h0M385.6 259.9h0M382.8 255.9h0M381.6 257.8h0M377.7 261.8h0M378.8 263.9h0M381.4 269.6h0M381.9 249.8h0M381.9 271.9h0M382.5 259.4h0M378.2 261.5h0M385.5 258.8h0M381.6 265.6h0M380.4 259.7h0M379.9 265.8h0M381.3 256.7h0M381.1 268.3h0M381.6 269.7h0M380.1 263.9h0M382.1 268.9h0M382.0 243.6h0M379.0 265.9h0M382.0 249.6h0M379.5 264.6h0M382.8 253.6h0M383.7 262.7h0M385.6 264.8h0M377.7 261.5h0M379.6 260.4h0M381.8 251.0h0M382.0 243.4h0M385.5 261.1h0M380.5 260.1h0M382.0 251.3h0M382.5 267.7h0M380.7 267.9h0M384.6 264.2h0M383.3 263.0h0M382.1 249.8h0M381.1 265.4h0M381.9 250.1h0M378.2 263.6h0M382.9 262.0h0M380.5 266.9h0M377.7 261.6h0M380.8 264.3h0M380.5 265.6h0M382.1 274.5h0M382.0 239.4h0M381.7 260.3h0M382.0 257.2h0M381.0 256.0h0M382.8 269.2h0M378.2 262.6h0M381.9 250.0h0M380.4 265.9h0M382.0 241.8h0M378.7 262.5h0M382.0 244.8h0M381.5 268.4h0M383.5 264.7h0M380.4 265.3h0M381.7 267.5h0M382.0 244.3h0M382.1 250.7h0M383.5 264.7h0M378.3 262.9h0M380.7 267.1h0M382.0 246.9h0M382.0 248.0h0M382.0 243.0h0M385.2 264.6h0M381.3 257.3h0M382.0 248.4h0M380.4 266.7h0M382.0 248.1h0M382.0 240.5h0M381.8 254.4h0M382.0 250.7h0M380.7 264.8h0M383.2 267.7h0M381.2 269.3h0M385.0 264.1h0M378.7 263.9h0M381.3 254.8h0M384.1 265.3h0M381.9 274.0h0M381.8 267.8h0M382.5 262.3h0M380.1 266.7h0M382.0 248.3h0M381.6 252.7h0M379.7 263.3h0M382.4 263.4h0M380.4 265.4h0M378.1 261.5h0M385.3 264.2h0M381.5 253.3h0M386.0 263.9h0M381.1 269.9h0M380.1 262.6h0M382.2 252.6h0M382.6 262.4h0M380.2 261.1h0M380.4 259.0h0M381.5 253.2h0M378.7 262.5h0M383.3 263.4h0M386.1 262.6h0M382.6 257.3h0M382.0 258.9h0M380.3 258.8h0M381.6 269.9h0M384.9 265.2h0M381.8 262.9h0M380.0 260.7h0M381.9 252.2h0M382.0 254.7h0M377.7 261.6h0M381.9 258.8h0M382.3 263.4h0M382.8 269.7h0M381.9 252.8h0M380.0 257.4h0M381.8 270.4h0M382.5 269.6h0M385.0 265.1h0M383.3 265.4h0M382.1 269.9h0M382.0 247.5h0M385.3 264.8h0M382.2 265.8h0M381.5 258.3h0M381.8 269.2h0M381.9 252.3h0M382.8 256.8h0M382.4 268.1h0M381.9 249.4h0M381.8 260.3h0M383.6 257.2h0M382.0 249.0h0M382.1 272.6h0M382.2 252.0h0M379.5 263.0h0M382.3 264.7h0M385.0 265.3h0M383.6 257.1h0M386.4 263.1h0M382.0 262.3h0M380.3 263.6h0M382.0 245.3h0M381.7 269.0h0M382.0 247.3h0M382.1 272.6h0M386.2 262.8h0M379.7 259.0h0M382.0 254.5h0M382.3 265.7h0M381.5 254.1h0M380.4 264.0h0M381.8 264.6h0M380.1 265.3h0M383.9 259.6h0M380.6 265.1h0M381.3 259.6h0M382.4 263.8h0M379.7 262.7h0M381.8 262.8h0M382.1 270.1h0M382.8 254.2h0M382.1 250.3h0M380.0 267.6h0M380.1 266.8h0M378.9 261.8h0M379.9 264.4h0M382.0 265.0h0M382.0 248.1h0M378.2 261.8h0M382.0 250.6h0M386.1 263.5h0M380.5 266.9h0M382.8 257.0h0M381.1 267.3h0M382.8 254.1h0M378.9 265.2h0M384.3 266.4h0M381.7 255.1h0M379.6 260.9h0M383.3 260.5h0M384.4 257.1h0M382.3 266.8h0M380.9 256.6h0M382.4 252.4h0M381.4 260.6h0M381.2 262.7h0M378.3 263.3h0M384.4 266.6h0M382.1 255.0h0M382.8 261.1h0M382.0 250.1h0M383.9 267.3h0M379.0 262.7h0M382.0 248.9h0" stroke="#787878" stroke-width="1.20" stroke-linecap="round" stroke-opacity="0.8"/>
<rect x="389.70" y="255.30" width="7.60" height="11.70" fill="#ee3a3f"/>
<path d="M391.2 270.1h0M390.1 259.0h0M393.2 268.4h0M393.8 261.1h0M393.2 255.5h0M392.1 251.9h0M391.7 261.9h0M392.8 256.3h0M394.0 266.8h0M388.6 263.7h0M395.6 259.7h0M392.1 247.5h0M391.9 253.5h0M391.9 252.3h0M393.3 254.8h0M392.3 256.4h0M392.3 251.6h0M394.9 263.4h0M390.0 264.1h0M391.8 248.7h0M392.1 262.5h0M388.1 262.4h0M392.0 246.9h0M395.4 262.4h0M391.0 254.8h0M389.6 265.4h0M389.5 257.1h0M390.1 258.9h0M389.8 257.8h0M392.0 237.6h0M393.2 267.5h0M396.4 258.9h0M395.6 257.6h0M394.1 255.6h0M392.0 274.1h0M389.4 261.2h0M393.0 253.9h0M391.0 261.7h0M391.7 270.0h0M390.2 266.4h0M393.0 259.6h0M391.6 256.7h0M392.4 270.0h0M391.0 269.6h0M393.6 266.8h0M392.9 253.8h0M389.1 263.1h0M394.2 264.8h0M392.7 267.2h0M395.5 257.4h0M391.6 251.9h0M396.5 259.8h0M395.0 263.3h0M387.9 263.3h0M389.7 263.0h0M391.4 266.8h0M390.6 268.3h0M390.0 262.2h0M390.7 267.2h0M392.3 265.6h0M391.3 267.3h0M395.8 262.3h0M395.4 262.5h0M388.9 264.9h0M391.7 251.2h0M388.8 261.3h0M387.7 258.9h0M389.9 261.0h0M393.3 256.3h0M391.3 263.7h0M392.4 252.2h0M393.5 253.8h0M392.0 248.9h0M389.5 256.1h0M388.3 264.1h0M392.5 252.0h0M392.0 240.4h0M391.7 260.8h0M392.5 270.1h0M392.0 249.1h0M392.2 248.4h0M391.7 264.4h0M392.4 257.8h0M391.7 250.6h0M396.5 259.7h0M388.6 264.8h0M395.0 261.7h0M393.3 264.3h0M393.6 259.6h0M394.1 263.2h0M392.2 252.5h0M391.5 250.5h0M389.3 263.8h0M392.0 244.5h0M392.1 274.6h0M394.9 258.6h0M393.6 266.6h0M391.3 269.5h0M393.2 268.8h0M393.0 252.8h0M394.6 263.5h0M389.0 262.7h0M392.7 252.3h0M391.7 268.2h0M392.4 249.8h0M392.9 265.0h0M389.7 257.4h0M392.9 264.0h0M394.3 259.9h0M392.5 255.1h0M391.9 251.7h0M388.9 256.4h0M392.2 248.8h0M395.8 258.1h0M394.9 258.0h0M391.4 257.0h0M391.7 272.7h0M389.2 256.3h0M392.0 268.1h0M393.1 263.3h0M389.7 255.8h0M390.6 267.0h0M388.3 260.4h0M392.7 254.9h0M392.2 272.6h0M393.9 258.9h0M392.7 263.9h0M392.3 261.1h0M393.2 261.6h0M388.2 259.2h0M391.9 261.1h0M394.0 257.3h0M392.6 269.9h0M390.1 259.6h0M392.0 254.2h0M392.2 252.9h0M392.7 253.2h0M393.3 262.7h0M392.2 272.3h0M388.9 258.0h0M392.4 251.0h0M395.9 260.8h0M395.5 261.2h0M396.5 261.7h0M391.5 254.9h0M391.4 266.8h0M392.9 252.5h0M391.8 251.1h0M392.8 251.7h0M392.2 261.2h0M391.7 272.4h0M392.2 250.0h0M392.8 265.5h0M389.0 264.8h0M391.9 249.5h0M392.2 254.8h0M390.3 257.1h0M396.0 262.7h0M393.1 254.1h0M392.9 253.0h0M392.4 261.2h0M391.6 252.4h0M391.5 271.5h0M391.2 265.5h0M395.5 263.6h0M389.7 255.1h0M393.1 264.2h0M393.9 265.4h0M391.0 268.4h0M392.8 251.5h0M391.2 266.4h0M387.7 262.6h0M394.9 265.6h0M392.0 276.2h0M390.8 269.2h0M393.0 261.0h0M394.0 262.1h0M389.9 264.9h0M390.3 260.5h0M390.1 261.4h0M391.2 262.7h0M388.2 262.5h0M391.0 264.6h0M388.3 258.4h0M388.1 262.2h0M391.3 255.9h0M391.9 270.5h0M392.1 251.1h0M392.4 270.7h0M390.5 265.8h0M391.8 262.6h0M390.6 256.8h0M392.2 255.1h0M390.0 258.3h0M394.5 263.4h0M391.5 261.2h0M391.9 248.6h0M389.1 260.0h0M392.1 249.1h0M391.7 265.6h0M394.6 255.9h0M393.0 256.9h0M392.7 262.6h0M392.6 253.3h0M392.0 246.9h0M394.3 258.1h0M389.6 256.8h0M391.5 266.5h0M389.1 261.9h0M392.4 259.6h0M392.7 253.9h0M392.2 250.2h0M392.3 257.1h0M390.2 258.1h0M394.2 266.9h0M391.7 261.2h0M387.6 261.4h0M392.0 249.1h0M391.3 268.3h0M395.8 260.1h0M392.5 251.4h0M392.0 243.7h0M391.8 250.8h0M395.3 262.2h0M391.8 271.5h0M391.9 271.8h0M392.5 255.3h0M389.2 256.4h0M395.4 262.6h0M394.9 258.1h0M389.2 262.9h0M392.0 247.2h0M392.9 268.7h0M389.7 264.1h0M393.3 257.5h0M393.9 261.8h0M393.6 267.4h0M389.3 263.5h0M388.3 264.3h0M389.0 257.3h0M395.5 261.1h0M391.7 255.4h0M391.5 269.0h0M389.7 265.6h0M391.7 265.2h0M392.0 261.1h0M388.0 258.0h0M395.5 259.3h0M392.2 248.9h0M392.7 264.6h0M389.2 260.7h0M392.1 255.0h0M391.9 274.3h0M393.2 259.0h0M390.1 259.0h0M395.1 265.6h0M390.5 253.9h0M394.5 264.7h0M391.3 269.1h0M390.4 265.8h0M394.9 265.5h0M390.7 262.2h0M391.0 254.1h0M392.9 268.2h0M391.3 270.6h0M394.1 257.5h0M392.7 263.2h0M391.9 246.3h0M391.9 256.0h0M392.3 251.0h0M393.2 263.0h0M394.6 265.4h0M391.7 271.4h0M391.3 259.9h0M391.3 251.7h0M390.8 259.5h0M394.5 265.4h0M395.0 257.5h0M392.0 242.1h0M387.6 259.3h0M392.0 243.2h0M391.9 249.6h0M392.3 267.0h0M392.2 269.4h0M392.0 246.1h0M392.1 250.6h0M393.6 253.7h0M393.3 262.5h0M393.0 257.3h0M387.6 261.1h0M391.5 255.2h0M389.3 261.6h0M388.4 261.9h0M390.6 266.3h0M395.3 260.3h0M391.4 257.1h0M390.9 263.0h0M391.7 269.4h0M395.4 264.1h0M391.9 261.0h0M391.5 250.6h0M389.1 263.6h0M390.9 265.6h0M392.7 251.9h0M394.4 258.6h0M393.9 266.3h0M390.2 256.4h0M392.0 274.9h0M392.0 250.1h0M391.7 260.0h0M391.4 261.7h0M392.8 254.6h0M390.8 264.0h0M391.8 256.9h0M396.1 259.9h0M390.7 267.0h0M391.9 266.1h0M392.0 245.4h0M394.1 265.7h0M391.2 265.3h0M388.7 260.5h0M392.1 270.4h0M390.0 261.6h0M392.1 250.9h0M393.2 254.5h0M393.3 267.4h0M389.8 261.4h0M393.1 256.7h0M392.0 249.2h0M391.9 247.4h0" stroke="#f59a9a" stroke-width="1.20" stroke-linecap="round" stroke-opacity="0.8"/>
<rect x="403.50" y="230.50" width="5.40" height="36.50" fill="#8a8a8a"/>
<path d="M405.6 263.7h0M404.9 262.8h0M405.3 274.8h0M405.0 265.1h0M404.5 263.4h0M406.0 253.0h0M405.4 251.4h0M405.9 265.6h0M405.7 264.0h0M405.8 261.4h0M405.1 270.0h0M404.2 260.3h0M405.0 258.6h0M407.1 260.8h0M406.1 263.7h0M405.5 265.7h0M406.2 266.5h0M405.2 259.1h0M405.4 275.4h0M405.0 261.5h0M405.7 255.3h0M406.2 263.1h0M406.3 267.1h0M405.3 269.0h0M405.9 261.4h0M404.5 266.5h0M406.2 263.2h0M406.1 266.9h0M405.0 258.7h0M403.9 261.1h0M406.2 268.7h0M404.6 261.9h0M405.1 261.5h0M406.1 265.3h0M404.6 257.0h0M404.7 260.3h0M407.3 262.5h0M406.5 258.3h0M406.7 262.2h0M403.9 262.4h0" stroke="#a0a0a0" stroke-width="0.90" stroke-linecap="round" stroke-opacity="0.6"/>
<rect x="410.50" y="248.60" width="8.50" height="18.40" fill="#ee3a3f"/>
<path d="M412.0 253.8h0M412.6 248.8h0M413.3 269.9h0M408.1 261.1h0M410.2 255.9h0M411.9 271.3h0M415.3 266.1h0M412.5 229.2h0M408.9 260.6h0M410.9 260.6h0M411.7 269.8h0M411.8 255.5h0M409.9 254.0h0M409.7 258.1h0M417.0 259.1h0M416.9 261.6h0M412.6 248.7h0M415.7 261.1h0M412.5 239.4h0M411.5 267.2h0M412.5 236.2h0M413.0 247.2h0M412.4 243.9h0M411.5 259.9h0M416.1 255.9h0M411.9 253.9h0M412.5 242.9h0M413.4 252.3h0M410.8 258.0h0M412.5 241.4h0M412.4 249.8h0M412.9 254.1h0M409.7 260.2h0M410.3 254.0h0M414.5 252.7h0M409.7 259.2h0M412.5 242.5h0M409.0 263.3h0M411.1 261.1h0M413.8 269.3h0M412.5 262.9h0M411.3 264.2h0M412.6 258.6h0M414.7 262.7h0M412.5 238.8h0M412.4 272.7h0M410.1 254.2h0M412.3 263.6h0M412.5 241.2h0M408.9 255.9h0M414.1 264.7h0M414.8 254.4h0M415.1 258.7h0M410.9 263.7h0M413.3 259.5h0M411.9 260.0h0M416.5 261.0h0M415.6 263.8h0M411.2 256.5h0M411.4 264.9h0M412.5 239.6h0M412.2 270.2h0M412.4 245.8h0M414.1 255.5h0M415.1 254.5h0M409.8 261.5h0M410.9 252.9h0M412.5 236.1h0M416.4 261.0h0M411.6 250.2h0M412.5 230.2h0M415.5 256.5h0M412.5 247.3h0M413.9 265.0h0M414.9 258.3h0M412.5 242.9h0M412.9 249.0h0M412.4 244.3h0M416.8 258.2h0M413.9 259.4h0M410.7 260.2h0M412.7 268.1h0M416.7 262.7h0M412.5 239.2h0M412.1 247.4h0M408.6 256.9h0M412.9 272.4h0M412.5 241.3h0M411.3 255.0h0M414.5 254.9h0M415.2 260.9h0M414.5 259.3h0M411.1 258.0h0M414.0 254.2h0M412.3 261.0h0M409.8 263.5h0M409.7 259.5h0M409.3 263.5h0M411.2 251.6h0M409.7 262.8h0M410.8 256.6h0M408.2 261.3h0M412.2 259.6h0M410.2 254.5h0M412.8 248.0h0M412.5 233.5h0M416.1 261.2h0M409.1 263.4h0M415.7 260.8h0M412.5 241.5h0M413.0 251.3h0M412.4 262.8h0M415.4 256.8h0M412.7 248.9h0M410.0 258.6h0M414.8 266.2h0M412.1 265.8h0M413.5 261.8h0M410.8 267.1h0M411.1 265.4h0M417.1 258.4h0M408.6 262.2h0M414.4 267.5h0M412.8 250.6h0M412.6 248.8h0M411.1 256.5h0M414.9 263.5h0M414.8 267.1h0M411.0 266.8h0M412.7 252.0h0M413.9 266.2h0M412.2 270.1h0M412.3 249.9h0M411.8 271.3h0M410.1 254.4h0M413.4 250.2h0M412.8 261.0h0M410.5 263.8h0M415.0 254.1h0M413.1 265.7h0M412.5 241.5h0M415.4 264.7h0M413.0 270.7h0M414.5 261.7h0M409.9 257.7h0M412.6 244.3h0M412.8 261.2h0M411.2 252.3h0M409.1 260.8h0M410.7 268.4h0M413.2 249.0h0M411.4 249.9h0M416.3 258.0h0M415.1 262.8h0M414.0 263.9h0M413.3 265.5h0M412.3 246.6h0M408.3 260.8h0M409.7 263.9h0M414.7 266.0h0M413.9 259.5h0M414.1 260.9h0M416.5 259.6h0M412.8 248.3h0M411.9 269.8h0M412.2 252.2h0M411.5 262.3h0M412.4 268.2h0M413.1 255.5h0M414.4 262.8h0M413.4 256.7h0M413.6 262.6h0M412.5 240.7h0M414.0 253.9h0M412.5 239.2h0M412.5 245.1h0M411.2 261.4h0M410.9 265.1h0M408.8 259.0h0M412.9 263.8h0M412.5 242.1h0M415.7 264.2h0M413.9 262.4h0M416.2 257.2h0M408.4 262.8h0M409.5 261.6h0M412.0 271.7h0M410.2 252.7h0M412.0 269.4h0M412.8 267.5h0M413.1 252.8h0M415.6 264.8h0M413.8 265.8h0M415.0 262.5h0M409.8 253.9h0M411.0 253.7h0M412.5 238.7h0M412.8 251.6h0M412.9 246.6h0M412.4 266.7h0M411.6 251.7h0M413.4 249.6h0M415.1 265.6h0M413.1 262.8h0M411.7 254.3h0M414.7 262.6h0M415.0 253.7h0M412.4 246.3h0M416.1 256.8h0M413.3 268.2h0M410.2 267.0h0M412.5 244.2h0M415.3 260.2h0M413.4 269.1h0M409.4 262.1h0M414.6 265.4h0M412.9 256.1h0M412.7 246.7h0M414.9 253.5h0M415.1 261.1h0M412.3 246.1h0M409.9 260.2h0M413.6 268.4h0M410.5 262.9h0M410.6 262.2h0M414.0 266.0h0M411.6 260.1h0M415.1 264.7h0M409.1 258.7h0M409.6 254.8h0M411.1 252.3h0M412.3 246.3h0M414.7 261.1h0M415.3 257.2h0M414.0 254.6h0M414.2 252.2h0M412.6 245.9h0M415.3 254.6h0M412.5 268.7h0M409.2 257.4h0M412.8 248.7h0M412.4 260.5h0M414.9 260.2h0M413.0 264.0h0M412.0 260.5h0M410.6 253.0h0M410.5 262.6h0M415.6 264.9h0M410.0 265.7h0M415.3 264.4h0M412.0 269.4h0M411.8 267.2h0M410.4 266.9h0M413.7 264.9h0M413.0 251.5h0M414.4 258.2h0M413.0 272.2h0M414.4 265.3h0M409.9 264.9h0M412.0 255.4h0M410.9 267.9h0M413.5 251.9h0M413.8 262.4h0M413.1 248.8h0M412.5 243.1h0M414.5 264.9h0M409.7 261.9h0M413.1 255.0h0M409.2 254.8h0M412.1 264.1h0M410.9 266.1h0M411.3 259.9h0M409.5 258.0h0M412.7 258.5h0M411.8 249.0h0M410.4 267.0h0M413.0 268.5h0M412.8 250.6h0M412.0 261.2h0M414.0 263.2h0M412.0 247.6h0M416.6 261.6h0M415.4 260.4h0M415.1 265.9h0M413.8 252.0h0M412.4 264.8h0M411.1 263.1h0M408.2 262.8h0M413.0 271.7h0M414.8 264.9h0M416.1 256.7h0M409.6 265.2h0M413.2 250.6h0M414.1 262.3h0M412.5 275.6h0M416.4 259.0h0M412.5 254.0h0M410.8 255.8h0M411.3 269.1h0M412.8 249.5h0M412.0 248.6h0M412.5 245.4h0M411.5 264.9h0M411.4 264.0h0M411.8 249.1h0M412.7 263.9h0M410.8 268.3h0M412.4 264.2h0M413.4 270.5h0M414.9 260.2h0M412.9 248.4h0M408.6 261.8h0M411.1 252.4h0M412.2 265.4h0M413.2 256.5h0M411.9 262.6h0M410.7 265.2h0M412.9 265.3h0M413.0 252.8h0M410.8 268.7h0M412.0 250.6h0M413.4 268.7h0M413.3 268.8h0M412.5 241.2h0M411.0 255.5h0M410.2 260.3h0M413.6 263.1h0M412.5 241.9h0M412.4 246.0h0M408.6 263.6h0M412.5 238.1h0M415.9 256.8h0M410.6 253.7h0M411.9 263.0h0M410.8 258.1h0M416.4 262.7h0M410.0 261.2h0M412.5 248.9h0M411.5 252.5h0M413.1 267.2h0M409.8 260.5h0M412.7 251.3h0M412.5 240.0h0M412.4 250.1h0M412.5 241.0h0M408.9 260.4h0M413.8 256.1h0M415.0 262.0h0M411.7 257.6h0M408.3 257.3h0" stroke="#f59a9a" stroke-width="1.20" stroke-linecap="round" stroke-opacity="0.8"/>
<line x1="385.50" y1="240.00" x2="385.50" y2="246.50" stroke="#111" stroke-width="0.9"/>
<circle cx="395.30" cy="255.30" r="0.8" fill="#111"/>
<line x1="406.40" y1="227.00" x2="406.40" y2="234.00" stroke="#111" stroke-width="0.9"/>
<circle cx="416.50" cy="248.60" r="0.8" fill="#111"/>
<line x1="373.70" y1="267.00" x2="424.00" y2="267.00" stroke="#444" stroke-width="0.6" stroke-dasharray="0.9,0.9"/>
<rect x="393.80" y="291.60" width="4.00" height="4.00" fill="#b81c2e"/>
<rect x="416.50" y="291.60" width="4.00" height="4.00" fill="#1c73bf"/>
<polygon points="379.20,189.70 379.82,190.95 381.20,191.15 380.20,192.12 380.43,193.50 379.20,192.85 377.97,193.50 378.20,192.12 377.20,191.15 378.58,190.95" fill="#111"/>
<line x1="379.50" y1="196.00" x2="390.00" y2="196.00" stroke="#444" stroke-width="1.3"/>
<line x1="390.00" y1="196.10" x2="405.00" y2="196.10" stroke="#444" stroke-width="0.75"/>
<polygon points="390.00,186.20 390.62,187.45 392.00,187.65 391.00,188.62 391.23,190.00 390.00,189.35 388.77,190.00 389.00,188.62 388.00,187.65 389.38,187.45" fill="#111"/>
<line x1="390.20" y1="191.20" x2="416.00" y2="191.20" stroke="#555" stroke-width="0.75"/>
<polygon points="405.00,198.70 405.62,199.95 407.00,200.15 406.00,201.12 406.23,202.50 405.00,201.85 403.77,202.50 404.00,201.12 403.00,200.15 404.38,199.95" fill="#111"/>
<line x1="405.50" y1="203.80" x2="416.00" y2="203.80" stroke="#666" stroke-width="0.75"/>
<line x1="373.50" y1="347.30" x2="373.50" y2="407.30" stroke="#666" stroke-width="0.6"/>
<line x1="370.50" y1="347.30" x2="373.50" y2="347.30" stroke="#666" stroke-width="0.6"/>
<text x="368.00" y="349.68" font-size="6.6" fill="#231f20" text-anchor="end" stroke="#231f20" stroke-width="0.1">1</text>
<line x1="370.50" y1="367.30" x2="373.50" y2="367.30" stroke="#666" stroke-width="0.6"/>
<text x="368.00" y="369.68" font-size="6.6" fill="#231f20" text-anchor="end" stroke="#231f20" stroke-width="0.1">0</text>
<line x1="370.50" y1="387.30" x2="373.50" y2="387.30" stroke="#666" stroke-width="0.6"/>
<text x="368.00" y="389.68" font-size="6.6" fill="#231f20" text-anchor="end" stroke="#231f20" stroke-width="0.1">−1</text>
<line x1="370.50" y1="407.30" x2="373.50" y2="407.30" stroke="#666" stroke-width="0.6"/>
<text x="368.00" y="409.68" font-size="6.6" fill="#231f20" text-anchor="end" stroke="#231f20" stroke-width="0.1">−2</text>
<line x1="373.50" y1="412.60" x2="373.50" y2="418.40" stroke="#666" stroke-width="0.6"/>
<line x1="370.50" y1="418.40" x2="373.50" y2="418.40" stroke="#666" stroke-width="0.6"/>
<text x="368.00" y="420.78" font-size="6.6" fill="#231f20" text-anchor="end" stroke="#231f20" stroke-width="0.1">−3</text>
<text x="357.20" y="383.00" font-size="6.6" fill="#231f20" text-anchor="middle" stroke="#231f20" stroke-width="0.1" transform="rotate(-90 357.20 383.00)">AUC, 0–1 s</text>
<path d="M381.6 345.0h0M381.3 347.0h0M381.2 348.9h0M381.8 350.2h0M381.6 351.5h0M381.7 353.7h0M381.5 355.3h0M381.3 356.9h0M381.5 358.9h0M381.5 360.9h0M381.4 362.3h0M381.6 363.5h0M381.4 365.2h0M381.4 367.4h0M381.3 368.9h0M381.3 370.4h0M381.5 372.0h0M381.7 373.7h0M381.6 375.2h0M381.8 376.9h0M381.8 378.7h0M381.3 380.2h0M381.7 381.6h0M381.4 382.8h0M381.2 384.9h0M381.4 386.8h0M381.8 388.2h0M381.3 390.2h0M381.5 391.5h0M381.8 392.7h0M381.4 394.2h0M381.5 395.4h0M381.3 397.1h0M381.5 399.0h0M381.8 401.1h0M381.5 403.2h0M381.6 404.7h0M381.5 406.2h0M381.3 407.6h0M381.6 408.9h0M381.8 411.0h0" stroke="#c0c0c0" stroke-width="0.80" stroke-linecap="round" stroke-opacity="0.8"/>
<path d="M391.8 348.0h0M391.8 349.0h0M391.9 350.6h0M391.8 351.9h0M391.8 353.4h0M391.7 355.2h0M391.9 357.0h0M392.0 358.3h0M392.2 359.4h0M392.0 360.8h0M392.1 362.5h0M391.8 364.2h0M391.8 365.4h0M391.9 366.7h0M391.8 368.5h0M391.9 369.7h0M392.1 370.9h0M392.2 372.3h0M392.2 373.5h0M391.9 375.2h0M392.3 376.9h0M392.0 378.1h0M391.8 379.8h0M391.9 381.5h0M391.9 383.1h0M392.2 384.9h0M391.7 386.1h0M392.0 387.6h0M392.2 388.8h0M392.0 390.1h0M392.1 391.2h0M391.8 392.6h0M391.9 394.4h0M392.1 395.4h0M392.2 396.7h0M392.0 398.0h0M392.2 399.5h0M391.8 400.6h0M391.8 401.9h0M391.9 403.6h0M391.8 404.8h0" stroke="#f8b0b0" stroke-width="0.80" stroke-linecap="round" stroke-opacity="0.8"/>
<path d="M405.9 352.0h0M405.8 354.3h0M406.1 356.6h0M406.0 358.7h0M405.7 361.7h0M406.2 365.0h0M405.7 367.3h0M406.2 369.2h0M406.1 371.1h0M406.1 374.0h0M406.0 376.6h0M406.2 379.3h0M405.9 381.3h0M405.9 384.0h0M405.9 386.9h0M405.8 390.5h0M405.7 394.0h0M405.8 397.3h0M406.0 399.7h0M405.8 403.1h0M406.2 405.9h0M406.1 408.6h0M406.2 412.2h0M405.9 414.5h0" stroke="#c8c8c8" stroke-width="0.70" stroke-linecap="round" stroke-opacity="0.7"/>
<path d="M413.7 347.0h0M413.7 348.8h0M413.6 350.4h0M413.7 352.0h0M413.3 353.6h0M413.4 354.7h0M413.4 356.5h0M413.4 358.2h0M413.7 359.7h0M413.5 361.5h0M413.3 363.0h0M413.3 364.7h0M413.7 365.7h0M413.5 367.1h0M413.8 368.2h0M413.7 369.7h0M413.5 371.0h0M413.3 372.3h0M413.6 373.3h0M413.7 374.5h0M413.6 376.1h0M413.3 377.5h0M413.6 379.0h0M413.5 380.1h0M413.6 381.1h0M413.3 382.4h0M413.7 384.0h0M413.2 385.1h0M413.8 386.5h0M413.7 387.5h0M413.6 389.0h0M413.4 389.9h0M413.8 390.8h0M413.6 392.6h0M413.7 394.1h0M413.8 395.1h0M413.5 396.4h0M413.2 397.3h0M413.3 399.1h0" stroke="#f8b0b0" stroke-width="0.80" stroke-linecap="round" stroke-opacity="0.8"/>
<path d="M381.3 377.0h0M381.7 360.8h0M381.0 384.1h0M381.8 373.0h0M379.6 374.5h0M381.0 365.5h0M381.7 365.0h0M381.2 398.8h0M383.0 370.8h0M382.3 375.9h0M380.3 388.7h0M382.5 371.8h0M382.3 389.9h0M381.8 401.3h0M380.6 364.5h0M380.7 372.4h0M381.6 383.2h0M379.6 383.0h0M380.3 373.0h0M382.8 380.2h0M381.7 396.9h0M380.1 378.6h0M381.2 357.6h0M381.2 391.5h0M380.0 380.4h0M382.3 388.5h0M381.3 361.5h0M381.5 409.6h0M380.5 366.5h0M382.4 395.5h0M380.7 380.3h0M380.9 399.7h0M382.6 374.0h0M380.3 378.5h0M381.7 394.2h0M382.1 384.6h0M383.3 379.1h0M382.8 376.2h0M380.6 380.0h0M380.2 378.7h0M381.1 387.0h0M380.4 373.6h0M381.3 379.3h0M382.5 374.0h0M381.5 374.4h0M380.3 386.6h0M380.4 376.9h0M381.1 358.2h0M383.0 378.7h0M383.5 381.3h0M381.7 367.8h0M381.0 372.0h0M382.1 364.0h0M380.7 375.8h0M379.9 387.8h0M380.9 390.4h0M381.6 356.5h0M383.6 378.5h0M382.9 387.6h0M381.5 346.1h0M382.3 388.0h0M381.3 396.8h0M382.7 387.4h0M380.6 364.4h0M380.9 393.1h0M381.8 359.1h0M382.9 378.0h0M381.7 403.3h0M381.7 386.5h0M380.4 384.4h0M381.8 357.8h0M381.2 400.8h0M381.7 390.3h0M380.8 398.1h0M380.0 387.4h0M383.2 378.1h0M381.8 382.5h0M383.3 375.1h0M381.6 406.2h0M383.4 379.3h0M382.2 364.8h0M382.4 391.2h0M381.8 361.2h0M382.5 366.8h0M381.2 400.3h0M381.1 366.5h0M380.6 378.9h0M383.1 380.0h0M381.5 393.8h0M379.8 377.9h0" stroke="#c4c4c4" stroke-width="1.00" stroke-linecap="round" stroke-opacity="0.7"/>
<rect x="383.00" y="367.30" width="5.20" height="14.40" fill="#8a8a8a"/>
<path d="M392.9 356.2h0M393.9 368.3h0M392.6 375.1h0M393.9 365.0h0M391.3 374.8h0M390.9 377.7h0M394.7 372.5h0M392.9 385.2h0M392.0 378.3h0M393.6 377.5h0M392.0 376.1h0M394.7 366.8h0M392.3 378.7h0M394.4 363.6h0M393.0 391.2h0M391.5 380.1h0M395.0 378.1h0M392.2 382.9h0M393.4 361.9h0M394.2 362.6h0M390.4 375.1h0M395.4 369.0h0M396.1 372.3h0M392.9 386.3h0M393.1 372.5h0M391.0 367.2h0M392.5 369.3h0M390.0 369.2h0M392.6 381.6h0M391.2 370.7h0M393.4 373.7h0M391.4 364.0h0M394.8 366.8h0M391.6 377.9h0M392.0 380.3h0M390.1 374.7h0M392.7 378.2h0M391.8 377.0h0M391.6 371.4h0M393.0 369.8h0M391.9 372.7h0M393.0 390.2h0M392.1 380.1h0M392.8 369.4h0M392.8 385.2h0M390.1 371.3h0M390.9 377.3h0M392.5 369.3h0M395.1 372.6h0M394.9 365.3h0M393.4 365.2h0M392.5 359.2h0M395.0 369.6h0M395.1 367.2h0M392.0 361.3h0M393.5 374.3h0M391.6 363.6h0M392.7 358.8h0M392.7 372.7h0M394.2 362.4h0M392.5 384.8h0M391.8 378.1h0M394.8 370.8h0M391.7 370.1h0M391.5 374.7h0M393.9 362.9h0M392.2 382.8h0M392.7 365.9h0M392.1 379.0h0M393.2 375.1h0M394.1 379.8h0M391.6 363.4h0M393.9 364.8h0M395.6 372.7h0M392.8 385.9h0M389.8 372.7h0M395.1 365.7h0M394.4 366.1h0M393.6 360.1h0M393.1 374.4h0M395.0 367.8h0M393.6 381.3h0M394.4 368.9h0M393.6 369.2h0M389.9 370.7h0M392.1 364.3h0M391.9 368.6h0M392.4 369.8h0M392.7 375.6h0M395.3 376.4h0M392.3 371.4h0M394.9 368.8h0M393.4 383.0h0M391.3 372.0h0M392.2 378.0h0M394.1 372.5h0M394.3 375.7h0M390.0 373.9h0M392.2 366.4h0M392.5 368.2h0M394.8 365.3h0M393.2 382.5h0M391.0 366.6h0M393.0 359.6h0M393.7 383.6h0M390.6 374.0h0M393.1 363.4h0M390.5 376.6h0M393.5 366.7h0M395.4 375.5h0M392.9 379.7h0M392.4 376.1h0M390.6 374.7h0M393.7 379.2h0M391.5 368.1h0M392.7 385.6h0M394.9 376.3h0M393.8 382.4h0M392.6 362.1h0M393.2 371.0h0M392.8 382.8h0M392.9 381.2h0M391.7 378.7h0M395.5 377.1h0M391.0 377.8h0M391.1 374.9h0M393.8 369.4h0M393.7 372.0h0M393.9 372.6h0M392.3 365.6h0M391.8 364.1h0M393.0 352.8h0M390.0 373.5h0M393.1 366.9h0M393.7 362.4h0M391.9 371.4h0M391.5 375.8h0M392.4 361.6h0M393.4 358.8h0M393.2 376.0h0M393.9 364.0h0M389.8 370.5h0M393.4 369.8h0M394.2 363.9h0M395.0 378.5h0M391.7 377.3h0M394.5 367.8h0M393.8 368.2h0M392.0 374.5h0M392.7 374.9h0M393.3 376.9h0M392.8 356.0h0M392.8 355.7h0M392.7 376.3h0M391.1 371.0h0M391.9 382.0h0M392.5 375.3h0M394.2 379.9h0M395.7 374.4h0M391.8 381.9h0M392.4 367.2h0M391.4 372.3h0M396.3 372.3h0M391.5 366.6h0M390.6 369.2h0M392.1 381.6h0M394.7 366.8h0M393.3 380.9h0M396.1 370.0h0M392.6 380.8h0M392.7 373.5h0M396.0 373.3h0M392.4 382.1h0M392.3 368.1h0M394.8 373.7h0M391.2 379.3h0M393.6 367.2h0M395.0 371.4h0M395.7 372.6h0M390.8 365.6h0M394.2 370.9h0M392.9 375.8h0M390.4 370.1h0M394.7 370.6h0M392.8 362.6h0M393.1 359.4h0M392.7 359.1h0M393.0 378.2h0M392.6 373.6h0M391.2 365.4h0M392.9 380.0h0M390.8 370.0h0M391.4 366.5h0M392.2 375.5h0M391.0 365.9h0M394.8 380.0h0M392.7 372.6h0M394.6 371.2h0M393.4 386.2h0M390.5 375.7h0M392.3 363.9h0M393.1 388.5h0M392.9 372.2h0M391.8 371.4h0M394.1 373.3h0M390.0 369.5h0M395.0 365.8h0M395.6 367.0h0M392.3 376.8h0M393.2 362.3h0M394.1 361.8h0M393.8 377.3h0M393.2 377.3h0M394.6 379.1h0M394.2 369.0h0M393.5 378.3h0M392.3 362.5h0M390.2 372.4h0M393.8 364.1h0M392.4 375.4h0M394.2 363.0h0M392.8 387.2h0M390.4 375.9h0M394.6 366.9h0M393.0 356.0h0M390.1 369.3h0M392.1 363.6h0M393.7 378.8h0M389.7 373.4h0M393.5 382.3h0M396.1 374.0h0M391.3 378.6h0M393.1 388.4h0M393.2 380.4h0M393.5 364.3h0M395.1 370.8h0M393.0 376.3h0M391.2 377.0h0M394.8 379.8h0M394.4 378.3h0M396.1 369.4h0M394.6 377.8h0M390.6 369.6h0M394.6 370.4h0M391.6 365.1h0M393.7 379.6h0M390.7 368.6h0M391.3 371.7h0M394.9 365.2h0M391.4 377.4h0M391.3 375.0h0M391.3 380.1h0M393.6 364.8h0M393.1 371.7h0M391.3 378.7h0M390.4 375.4h0M394.2 381.6h0M393.4 360.2h0M393.1 365.7h0M392.1 366.6h0" stroke="#f8aaaa" stroke-width="1.10" stroke-linecap="round" stroke-opacity="0.7"/>
<rect x="391.50" y="367.30" width="6.00" height="7.20" fill="#ee3a3f"/>
<path d="M407.1 379.8h0M405.6 364.0h0M406.7 372.0h0M406.0 386.3h0M406.5 372.8h0M404.8 376.1h0M406.7 378.3h0M405.5 362.9h0M407.5 378.2h0M404.6 367.9h0M407.6 371.3h0M406.3 363.6h0M406.9 370.7h0M405.6 359.5h0M405.1 361.4h0M405.5 382.2h0M405.1 374.0h0M404.6 377.9h0M406.5 362.2h0M407.6 368.4h0M406.7 360.0h0M407.2 363.6h0M406.0 353.3h0M405.9 379.0h0M405.1 371.5h0M405.8 388.5h0M407.1 370.3h0M404.2 372.6h0M406.4 386.2h0M405.5 387.9h0M404.3 373.9h0M405.4 382.1h0M405.5 356.2h0M406.0 395.2h0M404.3 375.3h0M406.4 385.6h0M407.6 375.2h0M407.3 370.3h0M404.4 367.9h0M405.4 382.7h0" stroke="#c8c8c8" stroke-width="0.90" stroke-linecap="round" stroke-opacity="0.6"/>
<rect x="404.80" y="367.30" width="5.20" height="20.50" fill="#8a8a8a"/>
<path d="M413.8 379.3h0M412.1 374.7h0M412.3 377.0h0M412.5 374.1h0M412.4 376.7h0M416.8 364.4h0M411.9 374.8h0M417.0 377.3h0M415.0 361.4h0M417.3 375.6h0M415.1 384.5h0M415.8 363.2h0M415.1 375.5h0M414.5 388.6h0M414.2 362.0h0M414.7 390.1h0M415.3 380.9h0M414.0 371.2h0M418.1 371.5h0M414.9 379.5h0M413.3 369.2h0M416.2 360.6h0M412.1 376.0h0M416.6 369.7h0M415.0 382.0h0M415.0 385.8h0M413.7 370.3h0M413.4 382.7h0M415.2 355.2h0M414.8 368.2h0M413.0 373.6h0M414.1 369.8h0M417.0 375.7h0M414.8 372.5h0M417.8 368.9h0M417.6 367.5h0M414.0 369.0h0M413.7 376.8h0M416.0 362.4h0M416.7 380.7h0M415.4 360.2h0M413.6 361.6h0M412.3 374.9h0M413.6 377.5h0M414.7 365.2h0M415.1 359.7h0M414.7 363.9h0M414.5 362.0h0M413.9 360.9h0M414.7 370.5h0M414.6 357.6h0M418.3 371.9h0M415.0 370.0h0M414.1 360.3h0M414.8 368.0h0M412.6 378.2h0M415.0 400.9h0M413.7 375.8h0M414.9 351.4h0M414.6 386.3h0M416.0 360.1h0M416.4 373.1h0M415.5 388.3h0M413.3 380.4h0M416.6 380.0h0M415.4 355.0h0M416.8 367.7h0M416.0 383.3h0M415.3 357.9h0M414.6 361.3h0M413.2 380.2h0M417.8 369.1h0M416.3 361.6h0M415.9 382.9h0M415.1 369.2h0M414.5 365.0h0M414.6 374.7h0M416.4 365.1h0M415.2 383.3h0M415.7 381.8h0M417.7 369.3h0M415.7 366.2h0M413.0 369.5h0M411.9 375.2h0M411.6 370.8h0M412.2 376.5h0M412.5 376.8h0M413.7 375.6h0M415.5 375.9h0M414.2 375.1h0M416.0 369.5h0M413.7 366.4h0M412.7 366.1h0M418.4 374.8h0M415.8 372.0h0M411.8 372.6h0M413.2 376.9h0M414.2 375.7h0M416.8 368.3h0M414.3 378.3h0M416.3 382.7h0M414.7 364.2h0M417.8 366.2h0M413.4 381.6h0M415.3 365.4h0M414.4 357.6h0M417.0 379.6h0M414.8 371.9h0M414.0 379.7h0M414.0 379.1h0M415.1 386.2h0M415.4 360.4h0M416.6 367.3h0M415.5 364.0h0M415.6 387.3h0M411.7 371.3h0M413.8 367.2h0M411.9 373.0h0M415.3 378.4h0M416.7 365.1h0M411.8 374.1h0M414.6 355.0h0M416.5 360.9h0M414.0 373.8h0M412.6 376.1h0M416.5 376.9h0M416.4 365.8h0M414.2 370.2h0M417.0 373.1h0M417.2 375.1h0M417.7 366.7h0M414.8 351.2h0M415.1 378.7h0M414.3 379.5h0M418.4 373.4h0M415.0 378.5h0M415.6 359.7h0M416.6 378.6h0M413.2 373.5h0M415.0 364.9h0M417.9 371.5h0M413.0 365.3h0M412.7 372.9h0M413.4 380.3h0M415.7 371.6h0M415.3 373.0h0M414.6 380.7h0M415.1 382.9h0M413.1 379.5h0M414.1 365.4h0M414.1 382.1h0M414.3 386.6h0M416.4 364.7h0M411.7 374.3h0M412.2 373.2h0M415.1 379.3h0M415.1 387.2h0M413.7 360.2h0M415.2 368.9h0M415.8 368.3h0M414.2 382.4h0M412.3 368.4h0M413.7 372.1h0M415.2 364.1h0M412.1 366.5h0M416.2 361.8h0M415.7 362.9h0M415.3 357.4h0M418.1 371.0h0M414.1 379.8h0M414.7 377.6h0M418.1 368.5h0M412.4 365.4h0M414.5 364.1h0M417.3 379.5h0M413.9 380.1h0M414.7 389.5h0M416.7 363.7h0M412.5 370.8h0M415.7 367.0h0M416.6 377.0h0M415.8 366.8h0M414.2 381.3h0M413.7 381.5h0M417.6 369.8h0M411.7 372.6h0M415.0 396.8h0M415.7 369.6h0M414.1 374.6h0M414.8 371.8h0M416.7 378.8h0M414.8 383.0h0M416.8 379.2h0M418.3 374.6h0M417.6 370.9h0M416.5 372.9h0M414.5 381.7h0M418.4 374.5h0M414.9 354.4h0M414.3 363.5h0M414.4 368.4h0M413.7 371.3h0M415.4 379.2h0M415.4 386.5h0M413.6 367.2h0M412.9 368.3h0M412.8 367.0h0M416.9 366.7h0M414.8 387.9h0M415.2 388.9h0M417.1 378.3h0M413.8 371.4h0M415.2 362.9h0M416.3 369.9h0M416.4 372.9h0M416.7 363.7h0M414.9 362.4h0M412.7 371.4h0M414.2 366.8h0M417.7 367.8h0M416.1 370.2h0M415.5 379.4h0M413.4 374.6h0M412.9 368.4h0M416.6 377.3h0M416.8 378.6h0M413.0 376.3h0M414.9 384.6h0M417.0 376.4h0M416.4 376.5h0M414.7 354.3h0M413.5 372.6h0M414.6 370.0h0M414.5 368.0h0M413.4 375.1h0M415.2 378.1h0M414.0 366.2h0M415.9 381.3h0M416.5 380.5h0M414.8 363.8h0M414.6 387.6h0M413.3 381.1h0M415.1 371.9h0M414.5 368.2h0M413.4 380.9h0M416.4 375.0h0M415.4 376.9h0M414.5 364.6h0M414.8 353.7h0M415.2 359.1h0M414.7 390.9h0M414.5 373.6h0M413.7 364.8h0M413.5 379.9h0M415.7 356.6h0M414.4 369.3h0M412.3 372.3h0M416.8 379.5h0M417.9 373.5h0M415.0 367.6h0M415.9 362.0h0M413.5 365.4h0M415.7 365.4h0M416.0 380.5h0M416.3 372.9h0M414.6 377.5h0M415.2 393.0h0M418.2 368.7h0M413.7 383.4h0M416.1 362.0h0M412.3 374.8h0M417.5 367.6h0M414.0 373.2h0M414.0 374.4h0M414.7 370.2h0M417.1 377.2h0M416.7 381.5h0M417.2 374.1h0M414.0 382.9h0M412.6 373.9h0M416.2 384.6h0M414.1 357.9h0M414.4 379.7h0M412.2 372.8h0M417.2 380.2h0M412.2 367.1h0M418.1 368.1h0M417.8 372.8h0M417.7 377.9h0M415.6 377.3h0M414.9 362.6h0M416.8 378.9h0M416.6 381.4h0M412.4 378.0h0M415.7 368.7h0M416.5 380.2h0M418.0 368.5h0M412.7 371.1h0M412.2 373.4h0M416.1 368.1h0" stroke="#f8a8a8" stroke-width="1.10" stroke-linecap="round" stroke-opacity="0.7"/>
<rect x="413.60" y="367.30" width="6.00" height="14.70" fill="#ee3a3f"/>
<line x1="385.60" y1="379.50" x2="385.60" y2="384.20" stroke="#111" stroke-width="0.9"/>
<circle cx="394.50" cy="374.50" r="0.7" fill="#111"/>
<line x1="407.40" y1="385.50" x2="407.40" y2="391.00" stroke="#111" stroke-width="0.9"/>
<circle cx="416.60" cy="382.00" r="0.7" fill="#111"/>
<line x1="373.50" y1="367.30" x2="430.00" y2="367.30" stroke="#333" stroke-width="0.6" stroke-dasharray="0.9,0.9"/>
<rect x="393.80" y="423.00" width="4.00" height="4.00" fill="#b81c2e"/>
<rect x="416.50" y="423.00" width="4.00" height="4.00" fill="#1c73bf"/>
<polygon points="382.20,325.30 382.82,326.55 384.20,326.75 383.20,327.72 383.43,329.10 382.20,328.45 380.97,329.10 381.20,327.72 380.20,326.75 381.58,326.55" fill="#111"/>
<line x1="383.60" y1="331.00" x2="393.00" y2="331.00" stroke="#555" stroke-width="1.2"/>
<line x1="393.00" y1="331.20" x2="408.80" y2="331.20" stroke="#555" stroke-width="0.75"/>
<polygon points="393.40,322.70 394.02,323.95 395.40,324.15 394.40,325.12 394.63,326.50 393.40,325.85 392.17,326.50 392.40,325.12 391.40,324.15 392.78,323.95" fill="#111"/>
<line x1="394.00" y1="327.60" x2="419.50" y2="327.60" stroke="#555" stroke-width="0.75"/>
<polygon points="408.30,333.30 408.92,334.55 410.30,334.75 409.30,335.72 409.53,337.10 408.30,336.45 407.07,337.10 407.30,335.72 406.30,334.75 407.68,334.55" fill="#111"/>
<line x1="409.60" y1="338.60" x2="419.50" y2="338.60" stroke="#444" stroke-width="0.75"/>
<text x="453.30" y="194.20" font-size="6.6" fill="#231f20" stroke="#231f20" stroke-width="0.1" textLength="65.2" lengthAdjust="spacingAndGlyphs">Positive lick-encoding</text>
<text x="486.00" y="202.20" font-size="6.6" fill="#231f20" text-anchor="middle" stroke="#231f20" stroke-width="0.1">neurons</text>
<line x1="476.00" y1="210.60" x2="476.00" y2="281.00" stroke="#666" stroke-width="0.6"/>
<line x1="473.00" y1="210.60" x2="476.00" y2="210.60" stroke="#666" stroke-width="0.6"/>
<text x="470.80" y="212.98" font-size="6.6" fill="#231f20" text-anchor="end" stroke="#231f20" stroke-width="0.1">0.75</text>
<line x1="473.00" y1="246.00" x2="476.00" y2="246.00" stroke="#666" stroke-width="0.6"/>
<text x="470.80" y="248.38" font-size="6.6" fill="#231f20" text-anchor="end" stroke="#231f20" stroke-width="0.1">0.63</text>
<line x1="473.00" y1="281.00" x2="476.00" y2="281.00" stroke="#666" stroke-width="0.6"/>
<text x="470.80" y="283.38" font-size="6.6" fill="#231f20" text-anchor="end" stroke="#231f20" stroke-width="0.1">0.5</text>
<text x="452.60" y="245.50" font-size="6.6" fill="#231f20" text-anchor="middle" stroke="#231f20" stroke-width="0.1" transform="rotate(-90 452.60 245.50)">Ca<tspan font-size="4" dy="-2.5">2+</tspan><tspan dy="2.5"> event rate</tspan></text>
<line x1="485.70" y1="236.40" x2="497.20" y2="239.80" stroke="#a0a0a0" stroke-width="0.7"/>
<line x1="485.70" y1="229.00" x2="485.70" y2="242.50" stroke="#a0a0a0" stroke-width="0.9"/>
<circle cx="485.70" cy="236.40" r="1.9" fill="#a0a0a0"/>
<line x1="497.20" y1="233.00" x2="497.20" y2="246.50" stroke="#a0a0a0" stroke-width="0.9"/>
<circle cx="497.20" cy="239.80" r="1.9" fill="#a0a0a0"/>
<line x1="485.70" y1="245.70" x2="497.20" y2="259.80" stroke="#ee3a3f" stroke-width="0.8"/>
<line x1="485.70" y1="244.00" x2="485.70" y2="247.50" stroke="#ee3a3f" stroke-width="0.9"/>
<circle cx="485.70" cy="245.70" r="1.9" fill="#ee3a3f"/>
<line x1="497.20" y1="257.50" x2="497.20" y2="262.00" stroke="#ee3a3f" stroke-width="0.9"/>
<circle cx="497.20" cy="259.80" r="1.9" fill="#ee3a3f"/>
<polygon points="497.20,264.30 497.82,265.55 499.20,265.75 498.20,266.72 498.43,268.10 497.20,267.45 495.97,268.10 496.20,266.72 495.20,265.75 496.58,265.55" fill="#a0a0a0"/>
<polygon points="485.20,218.30 485.82,219.55 487.20,219.75 486.20,220.72 486.43,222.10 485.20,221.45 483.97,222.10 484.20,220.72 483.20,219.75 484.58,219.55" fill="#111"/>
<line x1="486.50" y1="223.00" x2="497.20" y2="223.00" stroke="#777" stroke-width="1.1"/>
<rect x="483.20" y="291.60" width="4.00" height="4.00" fill="#b81c2e"/>
<rect x="493.80" y="291.60" width="4.00" height="4.00" fill="#1c73bf"/>
<text x="452.80" y="329.60" font-size="6.6" fill="#231f20" stroke="#231f20" stroke-width="0.1" textLength="67" lengthAdjust="spacingAndGlyphs">Negative lick-encoding</text>
<text x="486.00" y="337.60" font-size="6.6" fill="#231f20" text-anchor="middle" stroke="#231f20" stroke-width="0.1">neurons</text>
<line x1="476.00" y1="347.40" x2="476.00" y2="418.20" stroke="#666" stroke-width="0.6"/>
<line x1="473.00" y1="347.40" x2="476.00" y2="347.40" stroke="#666" stroke-width="0.6"/>
<text x="470.80" y="349.78" font-size="6.6" fill="#231f20" text-anchor="end" stroke="#231f20" stroke-width="0.1">0.75</text>
<line x1="473.00" y1="382.30" x2="476.00" y2="382.30" stroke="#666" stroke-width="0.6"/>
<text x="470.80" y="384.68" font-size="6.6" fill="#231f20" text-anchor="end" stroke="#231f20" stroke-width="0.1">0.63</text>
<line x1="473.00" y1="418.20" x2="476.00" y2="418.20" stroke="#666" stroke-width="0.6"/>
<text x="470.80" y="420.58" font-size="6.6" fill="#231f20" text-anchor="end" stroke="#231f20" stroke-width="0.1">0.5</text>
<text x="452.60" y="381.50" font-size="6.6" fill="#231f20" text-anchor="middle" stroke="#231f20" stroke-width="0.1" transform="rotate(-90 452.60 381.50)">Ca<tspan font-size="4" dy="-2.5">2+</tspan><tspan dy="2.5"> event rate</tspan></text>
<line x1="485.70" y1="382.30" x2="497.20" y2="384.70" stroke="#a0a0a0" stroke-width="0.7"/>
<line x1="485.70" y1="378.00" x2="485.70" y2="387.30" stroke="#a0a0a0" stroke-width="0.9"/>
<circle cx="485.70" cy="382.30" r="1.9" fill="#a0a0a0"/>
<line x1="497.20" y1="380.00" x2="497.20" y2="389.50" stroke="#a0a0a0" stroke-width="0.9"/>
<circle cx="497.20" cy="384.70" r="1.9" fill="#a0a0a0"/>
<line x1="485.70" y1="393.00" x2="497.20" y2="397.00" stroke="#ee3a3f" stroke-width="0.8"/>
<line x1="485.70" y1="391.00" x2="485.70" y2="395.00" stroke="#ee3a3f" stroke-width="0.9"/>
<circle cx="485.70" cy="393.00" r="1.9" fill="#ee3a3f"/>
<line x1="497.20" y1="395.00" x2="497.20" y2="399.00" stroke="#ee3a3f" stroke-width="0.9"/>
<circle cx="497.20" cy="397.00" r="1.9" fill="#ee3a3f"/>
<polygon points="485.20,368.10 485.82,369.35 487.20,369.55 486.20,370.52 486.43,371.90 485.20,371.25 483.97,371.90 484.20,370.52 483.20,369.55 484.58,369.35" fill="#111"/>
<line x1="486.50" y1="372.70" x2="497.20" y2="372.70" stroke="#111" stroke-width="0.6"/>
<rect x="483.20" y="422.80" width="4.00" height="4.00" fill="#b81c2e"/>
<rect x="493.80" y="422.80" width="4.00" height="4.00" fill="#1c73bf"/>
<circle cx="594.20" cy="175.50" r="2.0" fill="#7030a0"/>
<text x="599.30" y="177.80" font-size="6.6" fill="#231f20" stroke="#231f20" stroke-width="0.1">Lick rate</text>
<circle cx="594.20" cy="182.50" r="2.0" fill="#a0a0a0"/>
<text x="599.30" y="184.80" font-size="6.6" fill="#231f20" stroke="#231f20" stroke-width="0.1" textLength="62.9" lengthAdjust="spacingAndGlyphs">Pain state occupancy</text>
<polyline points="598.00,226.00 648.00,231.00" stroke="#999" stroke-width="0.5" fill="none" stroke-linejoin="round"/>
<polyline points="598.00,231.00 648.00,235.50" stroke="#999" stroke-width="0.5" fill="none" stroke-linejoin="round"/>
<polyline points="598.00,236.00 630.00,239.50" stroke="#999" stroke-width="0.5" fill="none" stroke-linejoin="round"/>
<polyline points="598.20,202.20 647.70,220.40" stroke="#7a40b0" stroke-width="0.55" fill="none" stroke-linejoin="round"/>
<polyline points="598.20,204.60 647.70,229.70" stroke="#7a40b0" stroke-width="0.55" fill="none" stroke-linejoin="round"/>
<polyline points="598.20,210.40 647.70,237.10" stroke="#7a40b0" stroke-width="0.55" fill="none" stroke-linejoin="round"/>
<circle cx="598.20" cy="226.00" r="2.1" fill="#a0a0a0"/>
<circle cx="601.00" cy="227.40" r="2.1" fill="#a0a0a0"/>
<circle cx="604.00" cy="225.00" r="2.1" fill="#a0a0a0"/>
<circle cx="608.70" cy="229.70" r="2.1" fill="#a0a0a0"/>
<circle cx="607.00" cy="233.20" r="2.1" fill="#a0a0a0"/>
<circle cx="610.30" cy="233.20" r="2.1" fill="#a0a0a0"/>
<circle cx="620.30" cy="233.00" r="2.1" fill="#a0a0a0"/>
<circle cx="647.70" cy="235.50" r="2.1" fill="#a0a0a0"/>
<circle cx="598.20" cy="202.70" r="1.6" fill="#7030a0"/>
<circle cx="601.20" cy="206.40" r="1.6" fill="#7030a0"/>
<circle cx="603.30" cy="206.40" r="1.6" fill="#7030a0"/>
<circle cx="608.90" cy="208.50" r="1.6" fill="#7030a0"/>
<circle cx="611.00" cy="208.50" r="1.6" fill="#7030a0"/>
<circle cx="620.30" cy="213.90" r="1.6" fill="#7030a0"/>
<circle cx="607.00" cy="216.70" r="1.6" fill="#7030a0"/>
<circle cx="608.70" cy="218.00" r="1.6" fill="#7030a0"/>
<circle cx="647.70" cy="229.00" r="1.6" fill="#7030a0"/>
<line x1="588.20" y1="187.80" x2="588.20" y2="239.50" stroke="#666" stroke-width="0.6"/>
<line x1="585.20" y1="187.80" x2="588.20" y2="187.80" stroke="#666" stroke-width="0.6"/>
<text x="582.70" y="190.18" font-size="6.6" fill="#231f20" text-anchor="end" stroke="#231f20" stroke-width="0.1">3</text>
<line x1="585.20" y1="205.00" x2="588.20" y2="205.00" stroke="#666" stroke-width="0.6"/>
<text x="582.70" y="207.38" font-size="6.6" fill="#231f20" text-anchor="end" stroke="#231f20" stroke-width="0.1">2</text>
<line x1="585.20" y1="222.00" x2="588.20" y2="222.00" stroke="#666" stroke-width="0.6"/>
<text x="582.70" y="224.38" font-size="6.6" fill="#231f20" text-anchor="end" stroke="#231f20" stroke-width="0.1">1</text>
<line x1="585.20" y1="239.50" x2="588.20" y2="239.50" stroke="#666" stroke-width="0.6"/>
<text x="582.70" y="241.88" font-size="6.6" fill="#231f20" text-anchor="end" stroke="#231f20" stroke-width="0.1">0</text>
<line x1="588.20" y1="239.50" x2="646.60" y2="239.50" stroke="#666" stroke-width="0.6"/>
<line x1="588.20" y1="239.50" x2="588.20" y2="241.50" stroke="#666" stroke-width="0.6"/>
<text x="588.20" y="248.65" font-size="6.6" fill="#231f20" text-anchor="middle" stroke="#231f20" stroke-width="0.1">0</text>
<line x1="607.50" y1="239.50" x2="607.50" y2="241.50" stroke="#666" stroke-width="0.6"/>
<text x="607.50" y="248.65" font-size="6.6" fill="#231f20" text-anchor="middle" stroke="#231f20" stroke-width="0.1">0.5</text>
<line x1="626.80" y1="239.50" x2="626.80" y2="241.50" stroke="#666" stroke-width="0.6"/>
<text x="626.80" y="248.65" font-size="6.6" fill="#231f20" text-anchor="middle" stroke="#231f20" stroke-width="0.1">1.0</text>
<line x1="646.60" y1="239.50" x2="646.60" y2="241.50" stroke="#666" stroke-width="0.6"/>
<text x="646.60" y="248.65" font-size="6.6" fill="#231f20" text-anchor="middle" stroke="#231f20" stroke-width="0.1">1.5</text>
<text x="619.40" y="259.40" font-size="6.6" fill="#231f20" text-anchor="middle" stroke="#231f20" stroke-width="0.1">Mean magnitude AUC</text>
<text x="619.40" y="267.50" font-size="6.6" fill="#231f20" text-anchor="middle" stroke="#231f20" stroke-width="0.1" textLength="72.2" lengthAdjust="spacingAndGlyphs">in lick-encoding neurons</text>
<text x="574.30" y="213.65" font-size="6.6" fill="#231f20" text-anchor="middle" stroke="#231f20" stroke-width="0.1" transform="rotate(-90 574.30 213.65)">Occupancy/lick rate</text>
<text x="634.30" y="201.60" font-size="6.6" fill="#231f20" stroke="#231f20" stroke-width="0.1"><tspan font-style="italic">R</tspan><tspan font-size="4" dy="-2.5">2</tspan><tspan dy="2.5"> = </tspan><tspan fill="#7030a0" stroke="#7030a0">0.76</tspan>/<tspan fill="#aaa" stroke="#aaa">0.48</tspan></text>
<text x="634.30" y="209.20" font-size="6.6" fill="#231f20" stroke="#231f20" stroke-width="0.1"><tspan font-style="italic">P</tspan> = <tspan fill="#7030a0" stroke="#7030a0">0.0042</tspan>/<tspan fill="#aaa" stroke="#aaa">0.076</tspan></text>
<text x="551.30" y="213.00" font-size="6.6" fill="#231f20" text-anchor="middle" stroke="#231f20" stroke-width="0.1" transform="rotate(-90 551.30 213.00)">21 days</text>
<rect x="546.80" y="227.80" width="4.00" height="4.00" fill="#b81c2e"/>
<polyline points="600.30,313.30 646.90,322.20" stroke="#999" stroke-width="0.5" fill="none" stroke-linejoin="round"/>
<polyline points="600.30,317.90 646.90,327.00" stroke="#999" stroke-width="0.5" fill="none" stroke-linejoin="round"/>
<polyline points="600.30,321.50 646.90,328.50" stroke="#999" stroke-width="0.5" fill="none" stroke-linejoin="round"/>
<polyline points="600.30,284.50 601.20,285.05 602.38,285.80 603.79,286.69 605.36,287.67 607.03,288.69 608.73,289.71 610.41,290.66 612.00,291.50 613.55,292.26 615.14,292.99 616.75,293.70 618.38,294.39 620.00,295.04 621.60,295.66 623.17,296.25 624.70,296.80 626.18,297.31 627.63,297.79 629.06,298.23 630.46,298.64 631.85,299.02 633.24,299.38 634.62,299.70 636.00,300.00 637.46,300.27 639.01,300.51 640.60,300.72 642.16,300.90 643.63,301.06 644.95,301.19 646.06,301.30 646.90,301.40" stroke="#7a40b0" stroke-width="0.55" fill="none" stroke-linejoin="round"/>
<polyline points="600.30,294.20 646.90,312.00" stroke="#7a40b0" stroke-width="0.55" fill="none" stroke-linejoin="round"/>
<polyline points="600.30,304.20 601.20,304.25 602.40,304.29 603.82,304.34 605.40,304.41 607.08,304.50 608.78,304.63 610.44,304.79 612.00,305.00 613.49,305.26 614.98,305.55 616.48,305.88 617.98,306.24 619.49,306.63 620.99,307.06 622.50,307.51 624.00,308.00 625.51,308.52 627.03,309.09 628.55,309.68 630.07,310.31 631.58,310.96 633.08,311.63 634.55,312.31 636.00,313.00 637.49,313.74 639.06,314.57 640.65,315.44 642.20,316.31 643.66,317.15 644.97,317.90 646.07,318.53 646.90,319.00" stroke="#7a40b0" stroke-width="0.55" fill="none" stroke-linejoin="round"/>
<circle cx="599.70" cy="315.20" r="2.1" fill="#a0a0a0"/>
<circle cx="602.90" cy="313.70" r="2.1" fill="#a0a0a0"/>
<circle cx="605.60" cy="320.70" r="2.1" fill="#a0a0a0"/>
<circle cx="620.00" cy="323.20" r="2.1" fill="#a0a0a0"/>
<circle cx="620.00" cy="325.80" r="2.1" fill="#a0a0a0"/>
<circle cx="628.50" cy="321.50" r="2.1" fill="#a0a0a0"/>
<circle cx="636.70" cy="322.60" r="2.1" fill="#a0a0a0"/>
<circle cx="644.10" cy="322.20" r="2.1" fill="#a0a0a0"/>
<circle cx="647.50" cy="326.40" r="2.1" fill="#a0a0a0"/>
<circle cx="599.70" cy="290.40" r="1.6" fill="#7030a0"/>
<circle cx="602.90" cy="291.50" r="1.6" fill="#7030a0"/>
<circle cx="605.60" cy="293.00" r="1.6" fill="#7030a0"/>
<circle cx="620.00" cy="308.80" r="1.6" fill="#7030a0"/>
<circle cx="620.00" cy="311.60" r="1.6" fill="#7030a0"/>
<circle cx="628.50" cy="313.30" r="1.6" fill="#7030a0"/>
<circle cx="636.70" cy="302.00" r="1.6" fill="#7030a0"/>
<circle cx="644.10" cy="300.60" r="1.6" fill="#7030a0"/>
<circle cx="647.50" cy="316.20" r="1.6" fill="#7030a0"/>
<line x1="589.10" y1="278.10" x2="589.10" y2="330.00" stroke="#666" stroke-width="0.6"/>
<line x1="586.10" y1="278.10" x2="589.10" y2="278.10" stroke="#666" stroke-width="0.6"/>
<text x="583.60" y="280.48" font-size="6.6" fill="#231f20" text-anchor="end" stroke="#231f20" stroke-width="0.1">2.5</text>
<line x1="586.10" y1="288.30" x2="589.10" y2="288.30" stroke="#666" stroke-width="0.6"/>
<text x="583.60" y="290.68" font-size="6.6" fill="#231f20" text-anchor="end" stroke="#231f20" stroke-width="0.1">2.0</text>
<line x1="586.10" y1="298.90" x2="589.10" y2="298.90" stroke="#666" stroke-width="0.6"/>
<text x="583.60" y="301.28" font-size="6.6" fill="#231f20" text-anchor="end" stroke="#231f20" stroke-width="0.1">1.5</text>
<line x1="586.10" y1="309.50" x2="589.10" y2="309.50" stroke="#666" stroke-width="0.6"/>
<text x="583.60" y="311.88" font-size="6.6" fill="#231f20" text-anchor="end" stroke="#231f20" stroke-width="0.1">1.0</text>
<line x1="586.10" y1="319.60" x2="589.10" y2="319.60" stroke="#666" stroke-width="0.6"/>
<text x="583.60" y="321.98" font-size="6.6" fill="#231f20" text-anchor="end" stroke="#231f20" stroke-width="0.1">0.5</text>
<line x1="586.10" y1="330.00" x2="589.10" y2="330.00" stroke="#666" stroke-width="0.6"/>
<text x="583.60" y="332.38" font-size="6.6" fill="#231f20" text-anchor="end" stroke="#231f20" stroke-width="0.1">0</text>
<line x1="589.10" y1="330.00" x2="646.90" y2="330.00" stroke="#666" stroke-width="0.6"/>
<line x1="589.10" y1="330.00" x2="589.10" y2="332.00" stroke="#666" stroke-width="0.6"/>
<text x="589.10" y="339.15" font-size="6.6" fill="#231f20" text-anchor="middle" stroke="#231f20" stroke-width="0.1">0</text>
<line x1="608.40" y1="330.00" x2="608.40" y2="332.00" stroke="#666" stroke-width="0.6"/>
<text x="608.40" y="339.15" font-size="6.6" fill="#231f20" text-anchor="middle" stroke="#231f20" stroke-width="0.1">0.5</text>
<line x1="627.80" y1="330.00" x2="627.80" y2="332.00" stroke="#666" stroke-width="0.6"/>
<text x="627.80" y="339.15" font-size="6.6" fill="#231f20" text-anchor="middle" stroke="#231f20" stroke-width="0.1">1.0</text>
<line x1="646.90" y1="330.00" x2="646.90" y2="332.00" stroke="#666" stroke-width="0.6"/>
<text x="646.90" y="339.15" font-size="6.6" fill="#231f20" text-anchor="middle" stroke="#231f20" stroke-width="0.1">1.5</text>
<text x="620.00" y="349.90" font-size="6.6" fill="#231f20" text-anchor="middle" stroke="#231f20" stroke-width="0.1">Mean magnitude AUC</text>
<text x="620.00" y="358.00" font-size="6.6" fill="#231f20" text-anchor="middle" stroke="#231f20" stroke-width="0.1" textLength="72.2" lengthAdjust="spacingAndGlyphs">in lick-encoding neurons</text>
<text x="568.30" y="304.05" font-size="6.6" fill="#231f20" text-anchor="middle" stroke="#231f20" stroke-width="0.1" transform="rotate(-90 568.30 304.05)">Occupancy/lick rate</text>
<text x="637.80" y="282.00" font-size="6.6" fill="#231f20" stroke="#231f20" stroke-width="0.1"><tspan font-style="italic">R</tspan><tspan font-size="4" dy="-2.5">2</tspan><tspan dy="2.5"> = </tspan><tspan fill="#7030a0" stroke="#7030a0">0.48</tspan>/<tspan fill="#aaa" stroke="#aaa">0.55</tspan></text>
<text x="637.80" y="289.60" font-size="6.6" fill="#231f20" stroke="#231f20" stroke-width="0.1"><tspan font-style="italic">P</tspan> = <tspan fill="#7030a0" stroke="#7030a0">0.080</tspan>/<tspan fill="#aaa" stroke="#aaa">0.044</tspan></text>
<text x="551.00" y="299.90" font-size="6.6" fill="#231f20" text-anchor="middle" stroke="#231f20" stroke-width="0.1" transform="rotate(-90 551.00 299.90)">21 days + morphine</text>
<rect x="546.90" y="331.80" width="4.00" height="4.00" fill="#1c73bf"/>
<line x1="588.00" y1="394.40" x2="648.90" y2="394.40" stroke="#555" stroke-width="0.5" stroke-dasharray="0.8,0.9"/>
<polyline points="595.00,391.00 643.00,399.00" stroke="#999" stroke-width="0.5" fill="none" stroke-linejoin="round"/>
<polyline points="595.00,393.00 643.00,404.00" stroke="#999" stroke-width="0.5" fill="none" stroke-linejoin="round"/>
<polyline points="595.00,395.00 643.00,396.00" stroke="#999" stroke-width="0.5" fill="none" stroke-linejoin="round"/>
<polyline points="595.20,375.80 596.42,376.56 598.03,377.59 599.96,378.81 602.10,380.16 604.37,381.58 606.67,382.98 608.91,384.31 611.00,385.50 612.99,386.60 614.99,387.69 616.99,388.76 618.99,389.80 620.99,390.79 623.00,391.71 625.00,392.55 627.00,393.30 629.11,393.95 631.38,394.52 633.70,395.01 636.00,395.44 638.17,395.80 640.12,396.11 641.77,396.38 643.00,396.60" stroke="#7a40b0" stroke-width="0.55" fill="none" stroke-linejoin="round"/>
<polyline points="595.20,390.00 643.00,408.60" stroke="#7a40b0" stroke-width="0.55" fill="none" stroke-linejoin="round"/>
<polyline points="595.20,397.00 596.27,397.15 597.68,397.36 599.37,397.60 601.25,397.88 603.23,398.16 605.24,398.45 607.19,398.74 609.00,399.00 610.73,399.22 612.49,399.38 614.26,399.53 616.01,399.69 617.74,399.88 619.43,400.15 621.05,400.51 622.60,401.00 624.06,401.60 625.43,402.29 626.75,403.06 628.03,403.90 629.27,404.82 630.50,405.81 631.74,406.87 633.00,408.00 634.34,409.31 635.76,410.85 637.22,412.52 638.65,414.24 640.00,415.90 641.21,417.41 642.23,418.67 643.00,419.60" stroke="#7a40b0" stroke-width="0.55" fill="none" stroke-linejoin="round"/>
<circle cx="595.20" cy="393.30" r="2.1" fill="#a0a0a0"/>
<circle cx="612.70" cy="392.70" r="2.1" fill="#a0a0a0"/>
<circle cx="617.80" cy="395.50" r="2.1" fill="#a0a0a0"/>
<circle cx="627.00" cy="394.00" r="2.1" fill="#a0a0a0"/>
<circle cx="629.60" cy="398.00" r="2.1" fill="#a0a0a0"/>
<circle cx="643.00" cy="402.00" r="2.1" fill="#a0a0a0"/>
<circle cx="595.20" cy="388.30" r="1.6" fill="#7030a0"/>
<circle cx="611.20" cy="388.30" r="1.6" fill="#7030a0"/>
<circle cx="607.30" cy="392.70" r="1.6" fill="#7030a0"/>
<circle cx="611.20" cy="394.40" r="1.6" fill="#7030a0"/>
<circle cx="617.80" cy="406.00" r="1.6" fill="#7030a0"/>
<circle cx="627.00" cy="394.40" r="1.6" fill="#7030a0"/>
<circle cx="629.60" cy="392.70" r="1.6" fill="#7030a0"/>
<circle cx="629.60" cy="409.10" r="1.6" fill="#7030a0"/>
<circle cx="643.00" cy="413.50" r="1.6" fill="#7030a0"/>
<line x1="588.00" y1="367.50" x2="588.00" y2="421.10" stroke="#666" stroke-width="0.6"/>
<line x1="585.00" y1="367.50" x2="588.00" y2="367.50" stroke="#666" stroke-width="0.6"/>
<text x="582.50" y="369.88" font-size="6.6" fill="#231f20" text-anchor="end" stroke="#231f20" stroke-width="0.1">2</text>
<line x1="585.00" y1="380.80" x2="588.00" y2="380.80" stroke="#666" stroke-width="0.6"/>
<text x="582.50" y="383.18" font-size="6.6" fill="#231f20" text-anchor="end" stroke="#231f20" stroke-width="0.1">1</text>
<line x1="585.00" y1="394.40" x2="588.00" y2="394.40" stroke="#666" stroke-width="0.6"/>
<text x="582.50" y="396.78" font-size="6.6" fill="#231f20" text-anchor="end" stroke="#231f20" stroke-width="0.1">0</text>
<line x1="585.00" y1="407.50" x2="588.00" y2="407.50" stroke="#666" stroke-width="0.6"/>
<text x="582.50" y="409.88" font-size="6.6" fill="#231f20" text-anchor="end" stroke="#231f20" stroke-width="0.1">−1</text>
<line x1="585.00" y1="421.10" x2="588.00" y2="421.10" stroke="#666" stroke-width="0.6"/>
<text x="582.50" y="423.48" font-size="6.6" fill="#231f20" text-anchor="end" stroke="#231f20" stroke-width="0.1">−2</text>
<line x1="588.00" y1="421.10" x2="648.90" y2="421.10" stroke="#666" stroke-width="0.6"/>
<line x1="588.00" y1="421.10" x2="588.00" y2="423.10" stroke="#666" stroke-width="0.6"/>
<text x="588.00" y="430.25" font-size="6.6" fill="#231f20" text-anchor="middle" stroke="#231f20" stroke-width="0.1">−1.0</text>
<line x1="612.70" y1="421.10" x2="612.70" y2="423.10" stroke="#666" stroke-width="0.6"/>
<text x="612.70" y="430.25" font-size="6.6" fill="#231f20" text-anchor="middle" stroke="#231f20" stroke-width="0.1">0</text>
<line x1="648.90" y1="421.10" x2="648.90" y2="423.10" stroke="#666" stroke-width="0.6"/>
<text x="648.90" y="430.25" font-size="6.6" fill="#231f20" text-anchor="middle" stroke="#231f20" stroke-width="0.1">1.5</text>
<text x="620.45" y="441.00" font-size="6.6" fill="#231f20" text-anchor="middle" stroke="#231f20" stroke-width="0.1">Δ Mean magnitude AUC</text>
<text x="620.45" y="449.10" font-size="6.6" fill="#231f20" text-anchor="middle" stroke="#231f20" stroke-width="0.1" textLength="72.2" lengthAdjust="spacingAndGlyphs">in lick-encoding neurons</text>
<text x="571.80" y="394.30" font-size="6.6" fill="#231f20" text-anchor="middle" stroke="#231f20" stroke-width="0.1" transform="rotate(-90 571.80 394.30)">Δ Occupancy/lick rate</text>
<text x="638.00" y="377.40" font-size="6.6" fill="#231f20" stroke="#231f20" stroke-width="0.1"><tspan font-style="italic">R</tspan><tspan font-size="4" dy="-2.5">2</tspan><tspan dy="2.5"> = </tspan><tspan fill="#7030a0" stroke="#7030a0">0.54</tspan>/<tspan fill="#aaa" stroke="#aaa">0.63</tspan></text>
<text x="638.00" y="385.00" font-size="6.6" fill="#231f20" stroke="#231f20" stroke-width="0.1"><tspan font-style="italic">P</tspan> = <tspan fill="#7030a0" stroke="#7030a0">0.050</tspan>/<tspan fill="#aaa" stroke="#aaa">0.020</tspan></text>
<text x="546.80" y="395.50" font-size="6.6" fill="#231f20" text-anchor="middle" stroke="#231f20" stroke-width="0.1" transform="rotate(-90 546.80 395.50)">( <tspan fill="#1c73bf" stroke="#1c73bf">■</tspan> 21 days + morphine)</text>
<text x="556.40" y="394.00" font-size="6.6" fill="#231f20" text-anchor="middle" stroke="#231f20" stroke-width="0.1" transform="rotate(-90 556.40 394.00)">−( <tspan fill="#b81c2e" stroke="#b81c2e">■</tspan> 21 days)</text>
</svg></body></html>
